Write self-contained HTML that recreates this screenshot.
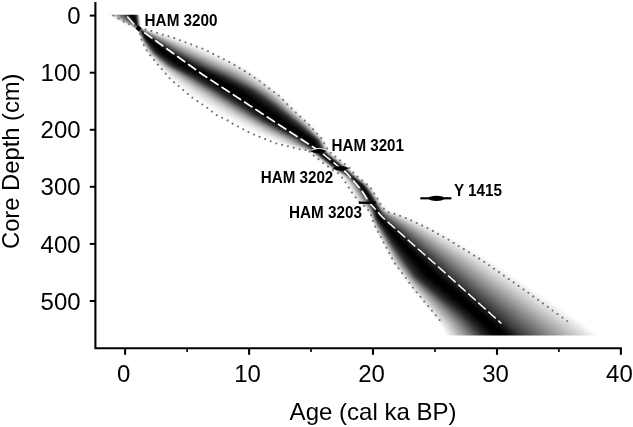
<!DOCTYPE html>
<html lang="en"><head><meta charset="utf-8"><title>Age-depth model</title>
<style>html,body{margin:0;padding:0;background:#fff}svg{display:block}</style></head>
<body>
<svg width="633" height="427" viewBox="0 0 633 427">
<defs><filter id="b" x="-5%" y="-5%" width="110%" height="110%"><feGaussianBlur stdDeviation="0.8"/></filter><clipPath id="cp"><rect x="97" y="14.8" width="530" height="320.7"/></clipPath></defs>
<rect width="633" height="427" fill="#fff"/>
<g clip-path="url(#cp)"><g filter="url(#b)">
<path d="M106.9 12.0L108.5 13.0L110.1 14.0L111.7 15.0L113.3 16.0L114.9 17.0L116.5 18.0L118.1 19.0L119.6 20.0L121.2 21.0L123.3 22.0L125.6 23.0L127.8 24.0L130.1 25.0L132.3 26.0L134.6 27.0L136.9 28.0L138.2 29.0L139.0 30.0L139.2 31.0L139.5 32.0L139.7 33.0L140.0 34.0L140.2 35.0L140.4 36.0L140.7 37.0L140.9 38.0L141.2 39.0L141.4 40.0L141.7 41.0L142.0 42.0L142.5 43.0L143.1 44.0L143.6 45.0L144.1 46.0L144.7 47.0L145.2 48.0L145.8 49.0L146.3 50.0L146.8 51.0L147.4 52.0L148.2 53.0L149.0 54.0L149.8 55.0L150.6 56.0L151.4 57.0L152.2 58.0L153.0 59.0L153.8 60.0L154.6 61.0L155.5 62.0L156.3 63.0L157.2 64.0L158.1 65.0L159.0 66.0L159.9 67.0L160.8 68.0L161.7 69.0L162.7 70.0L163.6 71.0L164.5 72.0L165.5 73.0L166.4 74.0L167.4 75.0L168.4 76.0L169.3 77.0L170.3 78.0L171.3 79.0L172.5 80.0L173.8 81.0L175.1 82.0L176.4 83.0L177.7 84.0L179.0 85.0L180.4 86.0L181.7 87.0L183.0 88.0L184.4 89.0L185.7 90.0L187.0 91.0L188.4 92.0L189.7 93.0L191.1 94.0L192.4 95.0L193.8 96.0L195.1 97.0L196.4 98.0L198.0 99.0L199.6 100.0L201.2 101.0L202.8 102.0L204.4 103.0L206.0 104.0L207.7 105.0L209.3 106.0L210.9 107.0L212.5 108.0L213.9 109.0L215.3 110.0L216.7 111.0L218.1 112.0L219.5 113.0L220.9 114.0L222.5 115.0L224.6 116.0L226.7 117.0L228.8 118.0L230.9 119.0L233.0 120.0L234.8 121.0L236.3 122.0L237.9 123.0L239.6 124.0L241.5 125.0L243.4 126.0L245.3 127.0L247.2 128.0L249.0 129.0L250.9 130.0L252.8 131.0L254.7 132.0L256.6 133.0L258.9 134.0L261.3 135.0L263.7 136.0L266.1 137.0L268.4 138.0L270.8 139.0L273.2 140.0L275.2 141.0L277.1 142.0L279.1 143.0L282.0 144.0L285.4 145.0L288.8 146.0L292.3 147.0L295.8 148.0L299.4 149.0L305.9 150.0L310.0 151.0L309.9 152.0L311.2 153.0L312.5 154.0L313.8 155.0L315.1 156.0L316.4 157.0L317.7 158.0L319.0 159.0L320.3 160.0L321.6 161.0L322.9 162.0L324.2 163.0L325.5 164.0L326.8 165.0L328.1 166.0L329.4 167.0L330.7 168.0L332.0 169.0L333.4 170.0L335.2 171.0L337.1 172.0L338.7 173.0L339.7 174.0L340.7 175.0L341.6 176.0L342.4 177.0L343.2 178.0L343.9 179.0L344.7 180.0L345.4 181.0L346.0 182.0L346.6 183.0L347.2 184.0L347.7 185.0L348.3 186.0L348.8 187.0L349.3 188.0L349.8 189.0L350.3 190.0L351.0 191.0L351.7 192.0L352.5 193.0L353.2 194.0L354.0 195.0L354.6 196.0L355.2 197.0L355.8 198.0L356.5 199.0L357.3 200.0L358.3 201.0L359.4 202.0L360.5 203.0L361.5 204.0L362.6 205.0L363.7 206.0L364.8 207.0L365.8 208.0L366.8 209.0L367.7 210.0L368.7 211.0L369.2 212.0L369.7 213.0L370.2 214.0L370.7 215.0L371.1 216.0L371.4 217.0L371.7 218.0L372.0 219.0L372.3 220.0L372.6 221.0L373.0 222.0L373.3 223.0L373.7 224.0L374.1 225.0L374.4 226.0L374.9 227.0L375.4 228.0L375.9 229.0L376.5 230.0L377.0 231.0L377.5 232.0L378.1 233.0L378.6 234.0L379.1 235.0L379.7 236.0L380.2 237.0L380.7 238.0L381.3 239.0L381.8 240.0L382.3 241.0L382.8 242.0L383.3 243.0L383.8 244.0L384.4 245.0L384.9 246.0L385.4 247.0L385.9 248.0L386.4 249.0L386.9 250.0L387.4 251.0L387.9 252.0L388.4 253.0L388.9 254.0L389.5 255.0L390.0 256.0L390.5 257.0L391.0 258.0L391.5 259.0L392.0 260.0L392.5 261.0L393.0 262.0L393.6 263.0L394.3 264.0L395.1 265.0L395.8 266.0L396.6 267.0L397.3 268.0L398.1 269.0L398.8 270.0L399.6 271.0L400.3 272.0L401.1 273.0L401.8 274.0L402.6 275.0L403.3 276.0L404.1 277.0L404.8 278.0L405.5 279.0L406.2 280.0L406.9 281.0L407.6 282.0L408.3 283.0L409.0 284.0L409.7 285.0L410.5 286.0L411.2 287.0L411.9 288.0L412.6 289.0L413.3 290.0L414.1 291.0L414.9 292.0L415.7 293.0L416.5 294.0L417.3 295.0L418.1 296.0L418.9 297.0L419.7 298.0L420.5 299.0L421.3 300.0L422.1 301.0L422.9 302.0L423.7 303.0L424.5 304.0L425.3 305.0L426.1 306.0L426.9 307.0L427.7 308.0L428.5 309.0L429.3 310.0L430.1 311.0L430.9 312.0L431.7 313.0L432.5 314.0L433.3 315.0L434.1 316.0L434.9 317.0L435.8 318.0L436.6 319.0L437.4 320.0L438.2 321.0L439.0 322.0L439.8 323.0L440.6 324.0L441.2 325.0L441.8 326.0L442.4 327.0L443.0 328.0L443.6 329.0L444.1 330.0L444.7 331.0L445.3 332.0L445.9 333.0L446.5 334.0L447.1 335.0L447.7 336.0L448.2 337.0L448.8 338.0L449.4 339.0L450.0 340.0L602.0 340.0L600.8 339.0L599.5 338.0L598.2 337.0L596.9 336.0L595.6 335.0L594.3 334.0L593.0 333.0L591.7 332.0L590.4 331.0L589.1 330.0L587.7 329.0L586.4 328.0L585.1 327.0L583.8 326.0L582.5 325.0L581.2 324.0L579.7 323.0L578.2 322.0L576.7 321.0L575.2 320.0L573.7 319.0L572.2 318.0L570.8 317.0L569.3 316.0L567.9 315.0L566.5 314.0L565.0 313.0L563.6 312.0L562.2 311.0L560.7 310.0L559.3 309.0L557.9 308.0L556.4 307.0L555.0 306.0L553.6 305.0L552.1 304.0L550.7 303.0L549.3 302.0L547.8 301.0L546.4 300.0L545.0 299.0L543.5 298.0L542.1 297.0L540.7 296.0L539.2 295.0L537.8 294.0L536.4 293.0L534.9 292.0L533.5 291.0L532.0 290.0L530.5 289.0L529.0 288.0L527.5 287.0L526.0 286.0L524.5 285.0L523.0 284.0L521.5 283.0L520.0 282.0L518.5 281.0L517.0 280.0L515.5 279.0L514.0 278.0L512.6 277.0L511.1 276.0L509.6 275.0L508.1 274.0L506.6 273.0L505.1 272.0L503.6 271.0L502.1 270.0L500.6 269.0L499.1 268.0L497.6 267.0L496.2 266.0L494.7 265.0L493.2 264.0L491.7 263.0L490.2 262.0L488.7 261.0L487.1 260.0L485.3 259.0L483.6 258.0L481.9 257.0L480.2 256.0L478.5 255.0L476.8 254.0L475.1 253.0L473.4 252.0L471.7 251.0L470.0 250.0L468.3 249.0L466.6 248.0L464.9 247.0L463.2 246.0L461.5 245.0L459.8 244.0L458.1 243.0L456.5 242.0L454.8 241.0L453.1 240.0L451.4 239.0L449.6 238.0L447.7 237.0L445.8 236.0L443.9 235.0L442.0 234.0L440.1 233.0L438.2 232.0L436.2 231.0L434.3 230.0L432.4 229.0L430.3 228.0L428.1 227.0L425.9 226.0L423.7 225.0L421.5 224.0L419.3 223.0L417.1 222.0L414.9 221.0L412.7 220.0L410.3 219.0L407.7 218.0L404.9 217.0L402.0 216.0L399.0 215.0L396.0 214.0L392.1 213.0L388.7 212.0L387.4 211.0L386.1 210.0L384.8 209.0L383.9 208.0L383.2 207.0L382.4 206.0L381.7 205.0L381.0 204.0L380.5 203.0L379.9 202.0L379.4 201.0L378.8 200.0L378.2 199.0L377.5 198.0L376.8 197.0L376.1 196.0L375.4 195.0L374.9 194.0L374.4 193.0L373.9 192.0L373.3 191.0L372.7 190.0L371.7 189.0L370.7 188.0L369.8 187.0L368.8 186.0L367.8 185.0L366.7 184.0L365.7 183.0L364.4 182.0L363.0 181.0L361.6 180.0L360.3 179.0L359.1 178.0L357.9 177.0L356.7 176.0L355.6 175.0L354.6 174.0L353.6 173.0L352.5 172.0L351.6 171.0L350.8 170.0L350.0 169.0L349.3 168.0L348.0 167.0L346.7 166.0L345.5 165.0L344.2 164.0L343.0 163.0L341.7 162.0L340.5 161.0L339.2 160.0L338.0 159.0L336.7 158.0L335.5 157.0L334.2 156.0L333.0 155.0L331.7 154.0L330.4 153.0L329.2 152.0L328.4 151.0L327.8 150.0L327.7 149.0L327.3 148.0L326.8 147.0L326.2 146.0L325.6 145.0L325.1 144.0L324.5 143.0L323.9 142.0L323.3 141.0L322.8 140.0L322.3 139.0L321.7 138.0L320.9 137.0L320.0 136.0L319.2 135.0L318.3 134.0L317.5 133.0L316.7 132.0L315.8 131.0L315.0 130.0L314.1 129.0L313.3 128.0L312.4 127.0L311.6 126.0L310.7 125.0L309.8 124.0L308.7 123.0L307.6 122.0L306.6 121.0L305.5 120.0L304.4 119.0L303.4 118.0L302.3 117.0L301.2 116.0L300.2 115.0L299.1 114.0L298.0 113.0L297.0 112.0L295.9 111.0L294.9 110.0L293.9 109.0L293.0 108.0L292.0 107.0L291.0 106.0L290.1 105.0L289.2 104.0L288.2 103.0L287.3 102.0L286.4 101.0L285.4 100.0L284.5 99.0L283.6 98.0L282.6 97.0L281.7 96.0L280.5 95.0L279.2 94.0L277.8 93.0L276.5 92.0L275.2 91.0L273.9 90.0L272.7 89.0L271.5 88.0L270.2 87.0L269.0 86.0L267.8 85.0L266.5 84.0L265.3 83.0L264.0 82.0L262.8 81.0L261.5 80.0L260.1 79.0L258.7 78.0L257.3 77.0L255.9 76.0L254.6 75.0L253.2 74.0L251.9 73.0L250.4 72.0L248.6 71.0L246.9 70.0L245.1 69.0L243.3 68.0L241.5 67.0L239.7 66.0L237.8 65.0L236.0 64.0L234.1 63.0L231.9 62.0L229.7 61.0L227.5 60.0L225.3 59.0L223.1 58.0L220.9 57.0L218.6 56.0L216.4 55.0L214.2 54.0L212.0 53.0L209.8 52.0L207.6 51.0L205.4 50.0L203.2 49.0L200.3 48.0L197.6 47.0L194.9 46.0L192.2 45.0L189.4 44.0L186.7 43.0L184.0 42.0L181.3 41.0L178.6 40.0L176.0 39.0L173.3 38.0L170.2 37.0L166.8 36.0L163.4 35.0L160.0 34.0L157.0 33.0L154.1 32.0L151.1 31.0L147.6 30.0L142.6 29.0L139.5 28.0L139.4 27.0L139.4 26.0L139.3 25.0L139.2 24.0L139.1 23.0L139.0 22.0L138.9 21.0L138.9 20.0L138.8 19.0L138.7 18.0L138.6 17.0L138.6 16.0L138.5 15.0L138.4 14.0L138.3 13.0L138.2 12.0Z" fill="#000" fill-opacity="0.0500"/>
<path d="M107.1 12.0L108.7 13.0L110.3 14.0L111.9 15.0L113.5 16.0L115.1 17.0L116.7 18.0L118.3 19.0L119.9 20.0L121.4 21.0L123.5 22.0L125.7 23.0L128.0 24.0L130.2 25.0L132.4 26.0L134.8 27.0L137.0 28.0L138.3 29.0L139.0 30.0L139.3 31.0L139.5 32.0L139.8 33.0L140.1 34.0L140.4 35.0L140.6 36.0L140.9 37.0L141.2 38.0L141.5 39.0L141.7 40.0L142.0 41.0L142.4 42.0L143.0 43.0L143.5 44.0L144.1 45.0L144.7 46.0L145.2 47.0L145.8 48.0L146.4 49.0L146.9 50.0L147.5 51.0L148.1 52.0L148.9 53.0L149.8 54.0L150.6 55.0L151.5 56.0L152.3 57.0L153.2 58.0L154.0 59.0L154.9 60.0L155.8 61.0L156.7 62.0L157.7 63.0L158.6 64.0L159.6 65.0L160.6 66.0L161.6 67.0L162.7 68.0L163.7 69.0L164.8 70.0L165.9 71.0L167.0 72.0L168.1 73.0L169.2 74.0L170.3 75.0L171.4 76.0L172.6 77.0L173.7 78.0L174.8 79.0L176.1 80.0L177.5 81.0L178.9 82.0L180.3 83.0L181.7 84.0L183.1 85.0L184.5 86.0L186.0 87.0L187.4 88.0L188.8 89.0L190.2 90.0L191.7 91.0L193.1 92.0L194.5 93.0L195.9 94.0L197.3 95.0L198.8 96.0L200.2 97.0L201.6 98.0L203.2 99.0L204.8 100.0L206.5 101.0L208.1 102.0L209.7 103.0L211.4 104.0L213.0 105.0L214.7 106.0L216.3 107.0L218.0 108.0L219.4 109.0L220.9 110.0L222.4 111.0L223.8 112.0L225.3 113.0L226.8 114.0L228.4 115.0L230.4 116.0L232.4 117.0L234.5 118.0L236.5 119.0L238.5 120.0L240.2 121.0L241.8 122.0L243.5 123.0L245.2 124.0L247.1 125.0L249.0 126.0L250.9 127.0L252.8 128.0L254.7 129.0L256.6 130.0L258.4 131.0L260.3 132.0L262.2 133.0L264.4 134.0L266.7 135.0L269.0 136.0L271.3 137.0L273.6 138.0L275.9 139.0L278.2 140.0L280.0 141.0L281.7 142.0L283.5 143.0L286.1 144.0L289.0 145.0L292.0 146.0L295.0 147.0L298.2 148.0L301.4 149.0L307.0 150.0L310.7 151.0L310.8 152.0L312.1 153.0L313.4 154.0L314.7 155.0L316.0 156.0L317.3 157.0L318.5 158.0L319.8 159.0L321.1 160.0L322.4 161.0L323.7 162.0L325.0 163.0L326.3 164.0L327.6 165.0L328.8 166.0L330.1 167.0L331.4 168.0L332.9 169.0L334.3 170.0L336.1 171.0L338.0 172.0L339.6 173.0L340.7 174.0L341.8 175.0L342.9 176.0L343.8 177.0L344.5 178.0L345.3 179.0L346.0 180.0L346.8 181.0L347.4 182.0L348.0 183.0L348.7 184.0L349.2 185.0L349.8 186.0L350.3 187.0L350.8 188.0L351.3 189.0L351.9 190.0L352.5 191.0L353.2 192.0L353.9 193.0L354.6 194.0L355.3 195.0L355.9 196.0L356.5 197.0L357.1 198.0L357.7 199.0L358.5 200.0L359.4 201.0L360.4 202.0L361.4 203.0L362.4 204.0L363.4 205.0L364.4 206.0L365.4 207.0L366.3 208.0L367.3 209.0L368.2 210.0L369.1 211.0L369.5 212.0L370.0 213.0L370.5 214.0L371.0 215.0L371.4 216.0L371.7 217.0L372.0 218.0L372.3 219.0L372.6 220.0L372.9 221.0L373.3 222.0L373.7 223.0L374.1 224.0L374.4 225.0L374.8 226.0L375.3 227.0L375.8 228.0L376.4 229.0L376.9 230.0L377.4 231.0L378.0 232.0L378.5 233.0L379.1 234.0L379.6 235.0L380.1 236.0L380.7 237.0L381.2 238.0L381.7 239.0L382.3 240.0L382.8 241.0L383.3 242.0L383.8 243.0L384.4 244.0L384.9 245.0L385.4 246.0L385.9 247.0L386.5 248.0L387.0 249.0L387.5 250.0L388.0 251.0L388.6 252.0L389.1 253.0L389.6 254.0L390.1 255.0L390.7 256.0L391.2 257.0L391.7 258.0L392.2 259.0L392.8 260.0L393.3 261.0L393.8 262.0L394.3 263.0L395.1 264.0L395.8 265.0L396.6 266.0L397.3 267.0L398.1 268.0L398.8 269.0L399.6 270.0L400.3 271.0L401.1 272.0L401.8 273.0L402.6 274.0L403.3 275.0L404.1 276.0L404.8 277.0L405.6 278.0L406.3 279.0L407.0 280.0L407.8 281.0L408.5 282.0L409.3 283.0L410.0 284.0L410.7 285.0L411.5 286.0L412.2 287.0L413.0 288.0L413.7 289.0L414.5 290.0L415.3 291.0L416.1 292.0L417.0 293.0L417.8 294.0L418.6 295.0L419.4 296.0L420.3 297.0L421.1 298.0L421.9 299.0L422.7 300.0L423.6 301.0L424.4 302.0L425.2 303.0L426.0 304.0L426.9 305.0L427.7 306.0L428.5 307.0L429.3 308.0L430.2 309.0L431.0 310.0L431.8 311.0L432.6 312.0L433.5 313.0L434.3 314.0L435.1 315.0L436.0 316.0L436.8 317.0L437.6 318.0L438.4 319.0L439.3 320.0L440.1 321.0L440.9 322.0L441.8 323.0L442.6 324.0L443.2 325.0L443.8 326.0L444.4 327.0L445.0 328.0L445.6 329.0L446.2 330.0L446.8 331.0L447.4 332.0L448.0 333.0L448.6 334.0L449.2 335.0L449.8 336.0L450.4 337.0L451.0 338.0L451.7 339.0L452.3 340.0L596.6 340.0L595.3 339.0L594.1 338.0L592.8 337.0L591.5 336.0L590.2 335.0L588.9 334.0L587.6 333.0L586.2 332.0L584.9 331.0L583.6 330.0L582.2 329.0L580.9 328.0L579.6 327.0L578.2 326.0L576.9 325.0L575.6 324.0L574.1 323.0L572.6 322.0L571.1 321.0L569.6 320.0L568.1 319.0L566.6 318.0L565.1 317.0L563.7 316.0L562.2 315.0L560.8 314.0L559.3 313.0L557.9 312.0L556.5 311.0L555.0 310.0L553.6 309.0L552.1 308.0L550.7 307.0L549.2 306.0L547.8 305.0L546.4 304.0L544.9 303.0L543.5 302.0L542.0 301.0L540.6 300.0L539.2 299.0L537.7 298.0L536.3 297.0L534.8 296.0L533.4 295.0L532.0 294.0L530.5 293.0L529.1 292.0L527.6 291.0L526.1 290.0L524.6 289.0L523.1 288.0L521.6 287.0L520.1 286.0L518.7 285.0L517.2 284.0L515.7 283.0L514.2 282.0L512.7 281.0L511.2 280.0L509.7 279.0L508.2 278.0L506.8 277.0L505.3 276.0L503.8 275.0L502.3 274.0L500.9 273.0L499.4 272.0L497.9 271.0L496.4 270.0L494.9 269.0L493.5 268.0L492.0 267.0L490.5 266.0L489.0 265.0L487.6 264.0L486.1 263.0L484.6 262.0L483.2 261.0L481.5 260.0L479.9 259.0L478.2 258.0L476.5 257.0L474.9 256.0L473.2 255.0L471.5 254.0L469.9 253.0L468.2 252.0L466.6 251.0L464.9 250.0L463.2 249.0L461.6 248.0L459.9 247.0L458.3 246.0L456.6 245.0L455.0 244.0L453.3 243.0L451.7 242.0L450.0 241.0L448.4 240.0L446.8 239.0L445.0 238.0L443.2 237.0L441.4 236.0L439.5 235.0L437.7 234.0L435.9 233.0L434.0 232.0L432.2 231.0L430.4 230.0L428.5 229.0L426.5 228.0L424.4 227.0L422.3 226.0L420.2 225.0L418.1 224.0L416.0 223.0L413.9 222.0L411.8 221.0L409.7 220.0L407.5 219.0L405.0 218.0L402.5 217.0L399.8 216.0L397.1 215.0L394.4 214.0L390.9 213.0L387.8 212.0L386.6 211.0L385.4 210.0L384.2 209.0L383.3 208.0L382.6 207.0L381.9 206.0L381.2 205.0L380.5 204.0L380.0 203.0L379.5 202.0L378.9 201.0L378.3 200.0L377.7 199.0L377.0 198.0L376.3 197.0L375.6 196.0L374.9 195.0L374.3 194.0L373.8 193.0L373.2 192.0L372.7 191.0L372.0 190.0L371.0 189.0L370.1 188.0L369.2 187.0L368.2 186.0L367.2 185.0L366.2 184.0L365.1 183.0L363.8 182.0L362.4 181.0L361.0 180.0L359.7 179.0L358.5 178.0L357.3 177.0L356.1 176.0L355.0 175.0L354.0 174.0L352.9 173.0L351.9 172.0L350.9 171.0L350.1 170.0L349.2 169.0L348.4 168.0L347.1 167.0L345.9 166.0L344.6 165.0L343.4 164.0L342.1 163.0L340.9 162.0L339.6 161.0L338.4 160.0L337.1 159.0L335.9 158.0L334.6 157.0L333.4 156.0L332.1 155.0L330.9 154.0L329.6 153.0L328.4 152.0L327.7 151.0L327.2 150.0L327.0 149.0L326.7 148.0L326.1 147.0L325.6 146.0L325.0 145.0L324.5 144.0L323.9 143.0L323.4 142.0L322.8 141.0L322.3 140.0L321.7 139.0L321.1 138.0L320.2 137.0L319.4 136.0L318.5 135.0L317.6 134.0L316.8 133.0L315.9 132.0L315.1 131.0L314.2 130.0L313.4 129.0L312.5 128.0L311.6 127.0L310.7 126.0L309.8 125.0L308.8 124.0L307.7 123.0L306.7 122.0L305.6 121.0L304.5 120.0L303.4 119.0L302.3 118.0L301.2 117.0L300.1 116.0L299.0 115.0L297.9 114.0L296.9 113.0L295.8 112.0L294.7 111.0L293.6 110.0L292.7 109.0L291.7 108.0L290.7 107.0L289.7 106.0L288.7 105.0L287.7 104.0L286.8 103.0L285.8 102.0L284.8 101.0L283.8 100.0L282.8 99.0L281.9 98.0L280.9 97.0L279.9 96.0L278.7 95.0L277.3 94.0L276.0 93.0L274.7 92.0L273.4 91.0L272.0 90.0L270.7 89.0L269.4 88.0L268.1 87.0L266.8 86.0L265.5 85.0L264.2 84.0L262.9 83.0L261.6 82.0L260.3 81.0L258.9 80.0L257.4 79.0L256.0 78.0L254.5 77.0L253.1 76.0L251.7 75.0L250.2 74.0L248.8 73.0L247.2 72.0L245.3 71.0L243.3 70.0L241.4 69.0L239.4 68.0L237.4 67.0L235.4 66.0L233.5 65.0L231.5 64.0L229.5 63.0L227.2 62.0L224.9 61.0L222.6 60.0L220.3 59.0L218.0 58.0L215.8 57.0L213.5 56.0L211.2 55.0L208.9 54.0L206.7 53.0L204.5 52.0L202.3 51.0L200.1 50.0L197.9 49.0L195.2 48.0L192.6 47.0L190.1 46.0L187.5 45.0L185.0 44.0L182.4 43.0L179.9 42.0L177.4 41.0L174.8 40.0L172.3 39.0L169.9 38.0L167.1 37.0L164.0 36.0L160.9 35.0L157.8 34.0L155.1 33.0L152.4 32.0L149.7 31.0L146.5 30.0L142.1 29.0L139.4 28.0L139.3 27.0L139.3 26.0L139.2 25.0L139.1 24.0L139.0 23.0L138.9 22.0L138.8 21.0L138.8 20.0L138.7 19.0L138.6 18.0L138.5 17.0L138.5 16.0L138.4 15.0L138.3 14.0L138.2 13.0L138.1 12.0Z" fill="#000" fill-opacity="0.0526"/>
<path d="M107.5 12.0L109.1 13.0L110.6 14.0L112.2 15.0L113.8 16.0L115.4 17.0L117.0 18.0L118.6 19.0L120.2 20.0L121.8 21.0L123.8 22.0L126.0 23.0L128.2 24.0L130.4 25.0L132.6 26.0L134.9 27.0L137.0 28.0L138.3 29.0L139.0 30.0L139.3 31.0L139.6 32.0L139.9 33.0L140.2 34.0L140.5 35.0L140.8 36.0L141.1 37.0L141.4 38.0L141.7 39.0L142.0 40.0L142.3 41.0L142.8 42.0L143.3 43.0L143.9 44.0L144.5 45.0L145.1 46.0L145.7 47.0L146.3 48.0L146.9 49.0L147.5 50.0L148.1 51.0L148.7 52.0L149.5 53.0L150.4 54.0L151.3 55.0L152.2 56.0L153.1 57.0L154.0 58.0L154.9 59.0L155.8 60.0L156.7 61.0L157.7 62.0L158.7 63.0L159.7 64.0L160.7 65.0L161.8 66.0L162.9 67.0L164.1 68.0L165.2 69.0L166.4 70.0L167.6 71.0L168.8 72.0L170.0 73.0L171.2 74.0L172.4 75.0L173.7 76.0L174.9 77.0L176.1 78.0L177.4 79.0L178.7 80.0L180.2 81.0L181.6 82.0L183.1 83.0L184.5 84.0L186.0 85.0L187.5 86.0L188.9 87.0L190.4 88.0L191.9 89.0L193.4 90.0L194.8 91.0L196.3 92.0L197.7 93.0L199.2 94.0L200.7 95.0L202.1 96.0L203.6 97.0L205.0 98.0L206.6 99.0L208.3 100.0L209.9 101.0L211.6 102.0L213.2 103.0L214.9 104.0L216.6 105.0L218.2 106.0L219.9 107.0L221.5 108.0L223.0 109.0L224.5 110.0L226.0 111.0L227.5 112.0L229.0 113.0L230.5 114.0L232.1 115.0L234.1 116.0L236.1 117.0L238.1 118.0L240.0 119.0L242.0 120.0L243.7 121.0L245.3 122.0L247.0 123.0L248.8 124.0L250.6 125.0L252.5 126.0L254.4 127.0L256.3 128.0L258.2 129.0L260.1 130.0L262.0 131.0L263.9 132.0L265.8 133.0L268.0 134.0L270.2 135.0L272.4 136.0L274.7 137.0L276.9 138.0L279.2 139.0L281.4 140.0L283.0 141.0L284.7 142.0L286.4 143.0L288.7 144.0L291.4 145.0L294.1 146.0L296.9 147.0L299.8 148.0L302.7 149.0L307.8 150.0L311.2 151.0L311.4 152.0L312.7 153.0L314.0 154.0L315.3 155.0L316.5 156.0L317.8 157.0L319.1 158.0L320.4 159.0L321.7 160.0L322.9 161.0L324.2 162.0L325.5 163.0L326.8 164.0L328.1 165.0L329.3 166.0L330.6 167.0L331.9 168.0L333.4 169.0L334.9 170.0L336.7 171.0L338.5 172.0L340.2 173.0L341.4 174.0L342.6 175.0L343.8 176.0L344.6 177.0L345.4 178.0L346.2 179.0L347.0 180.0L347.7 181.0L348.4 182.0L349.1 183.0L349.7 184.0L350.3 185.0L350.9 186.0L351.4 187.0L351.9 188.0L352.4 189.0L353.0 190.0L353.6 191.0L354.3 192.0L355.0 193.0L355.7 194.0L356.3 195.0L356.9 196.0L357.5 197.0L358.1 198.0L358.7 199.0L359.4 200.0L360.3 201.0L361.2 202.0L362.2 203.0L363.1 204.0L364.1 205.0L365.0 206.0L366.0 207.0L366.9 208.0L367.7 209.0L368.6 210.0L369.4 211.0L369.9 212.0L370.3 213.0L370.8 214.0L371.2 215.0L371.6 216.0L371.9 217.0L372.2 218.0L372.5 219.0L372.8 220.0L373.2 221.0L373.6 222.0L374.0 223.0L374.4 224.0L374.8 225.0L375.2 226.0L375.7 227.0L376.2 228.0L376.8 229.0L377.3 230.0L377.9 231.0L378.4 232.0L379.0 233.0L379.5 234.0L380.1 235.0L380.6 236.0L381.2 237.0L381.7 238.0L382.2 239.0L382.8 240.0L383.3 241.0L383.8 242.0L384.3 243.0L384.9 244.0L385.4 245.0L386.0 246.0L386.5 247.0L387.0 248.0L387.6 249.0L388.1 250.0L388.6 251.0L389.2 252.0L389.7 253.0L390.3 254.0L390.8 255.0L391.3 256.0L391.9 257.0L392.4 258.0L393.0 259.0L393.5 260.0L394.0 261.0L394.6 262.0L395.1 263.0L395.9 264.0L396.6 265.0L397.4 266.0L398.1 267.0L398.8 268.0L399.6 269.0L400.3 270.0L401.1 271.0L401.8 272.0L402.6 273.0L403.3 274.0L404.1 275.0L404.8 276.0L405.6 277.0L406.3 278.0L407.1 279.0L407.9 280.0L408.6 281.0L409.4 282.0L410.2 283.0L411.0 284.0L411.7 285.0L412.5 286.0L413.3 287.0L414.1 288.0L414.8 289.0L415.6 290.0L416.5 291.0L417.3 292.0L418.2 293.0L419.1 294.0L419.9 295.0L420.8 296.0L421.6 297.0L422.5 298.0L423.3 299.0L424.2 300.0L425.0 301.0L425.9 302.0L426.7 303.0L427.6 304.0L428.4 305.0L429.3 306.0L430.1 307.0L431.0 308.0L431.8 309.0L432.7 310.0L433.5 311.0L434.4 312.0L435.2 313.0L436.1 314.0L436.9 315.0L437.8 316.0L438.6 317.0L439.5 318.0L440.3 319.0L441.2 320.0L442.0 321.0L442.9 322.0L443.7 323.0L444.5 324.0L445.2 325.0L445.8 326.0L446.4 327.0L447.0 328.0L447.7 329.0L448.3 330.0L448.9 331.0L449.5 332.0L450.1 333.0L450.8 334.0L451.4 335.0L452.0 336.0L452.6 337.0L453.3 338.0L453.9 339.0L454.5 340.0L591.4 340.0L590.1 339.0L588.8 338.0L587.6 337.0L586.3 336.0L585.0 335.0L583.7 334.0L582.3 333.0L581.0 332.0L579.6 331.0L578.3 330.0L577.0 329.0L575.6 328.0L574.3 327.0L572.9 326.0L571.6 325.0L570.3 324.0L568.8 323.0L567.3 322.0L565.8 321.0L564.3 320.0L562.8 319.0L561.3 318.0L559.9 317.0L558.4 316.0L557.0 315.0L555.5 314.0L554.1 313.0L552.7 312.0L551.2 311.0L549.8 310.0L548.3 309.0L546.9 308.0L545.5 307.0L544.0 306.0L542.6 305.0L541.1 304.0L539.7 303.0L538.3 302.0L536.8 301.0L535.4 300.0L534.0 299.0L532.5 298.0L531.1 297.0L529.7 296.0L528.2 295.0L526.8 294.0L525.4 293.0L523.9 292.0L522.5 291.0L521.0 290.0L519.5 289.0L518.0 288.0L516.5 287.0L515.0 286.0L513.6 285.0L512.1 284.0L510.6 283.0L509.1 282.0L507.7 281.0L506.2 280.0L504.7 279.0L503.3 278.0L501.8 277.0L500.3 276.0L498.9 275.0L497.4 274.0L495.9 273.0L494.5 272.0L493.0 271.0L491.6 270.0L490.1 269.0L488.7 268.0L487.2 267.0L485.8 266.0L484.3 265.0L482.8 264.0L481.4 263.0L479.9 262.0L478.5 261.0L476.9 260.0L475.3 259.0L473.6 258.0L472.0 257.0L470.4 256.0L468.8 255.0L467.1 254.0L465.5 253.0L463.9 252.0L462.3 251.0L460.7 250.0L459.0 249.0L457.4 248.0L455.8 247.0L454.2 246.0L452.6 245.0L451.0 244.0L449.4 243.0L447.8 242.0L446.2 241.0L444.6 240.0L443.0 239.0L441.3 238.0L439.5 237.0L437.8 236.0L436.0 235.0L434.2 234.0L432.5 233.0L430.7 232.0L428.9 231.0L427.2 230.0L425.4 229.0L423.4 228.0L421.4 227.0L419.4 226.0L417.4 225.0L415.4 224.0L413.4 223.0L411.4 222.0L409.4 221.0L407.4 220.0L405.2 219.0L402.9 218.0L400.6 217.0L398.1 216.0L395.6 215.0L393.2 214.0L389.9 213.0L387.1 212.0L386.0 211.0L384.8 210.0L383.7 209.0L382.8 208.0L382.2 207.0L381.5 206.0L380.8 205.0L380.1 204.0L379.6 203.0L379.1 202.0L378.5 201.0L377.9 200.0L377.2 199.0L376.6 198.0L375.9 197.0L375.2 196.0L374.5 195.0L373.9 194.0L373.3 193.0L372.8 192.0L372.2 191.0L371.5 190.0L370.6 189.0L369.7 188.0L368.8 187.0L367.8 186.0L366.8 185.0L365.8 184.0L364.7 183.0L363.4 182.0L362.0 181.0L360.6 180.0L359.3 179.0L358.1 178.0L356.9 177.0L355.7 176.0L354.6 175.0L353.5 174.0L352.5 173.0L351.4 172.0L350.4 171.0L349.6 170.0L348.7 169.0L347.8 168.0L346.5 167.0L345.3 166.0L344.0 165.0L342.8 164.0L341.6 163.0L340.3 162.0L339.1 161.0L337.8 160.0L336.6 159.0L335.3 158.0L334.1 157.0L332.8 156.0L331.6 155.0L330.3 154.0L329.1 153.0L327.8 152.0L327.2 151.0L326.7 150.0L326.5 149.0L326.2 148.0L325.6 147.0L325.1 146.0L324.6 145.0L324.0 144.0L323.5 143.0L323.0 142.0L322.4 141.0L321.9 140.0L321.3 139.0L320.6 138.0L319.7 137.0L318.8 136.0L317.9 135.0L317.0 134.0L316.2 133.0L315.3 132.0L314.4 131.0L313.6 130.0L312.6 129.0L311.7 128.0L310.8 127.0L309.9 126.0L308.9 125.0L308.0 124.0L306.9 123.0L305.8 122.0L304.7 121.0L303.5 120.0L302.4 119.0L301.3 118.0L300.2 117.0L299.1 116.0L298.0 115.0L296.9 114.0L295.8 113.0L294.7 112.0L293.6 111.0L292.5 110.0L291.5 109.0L290.5 108.0L289.5 107.0L288.5 106.0L287.5 105.0L286.5 104.0L285.4 103.0L284.4 102.0L283.4 101.0L282.4 100.0L281.4 99.0L280.3 98.0L279.3 97.0L278.3 96.0L277.0 95.0L275.7 94.0L274.4 93.0L273.0 92.0L271.7 91.0L270.3 90.0L269.0 89.0L267.6 88.0L266.2 87.0L264.9 86.0L263.5 85.0L262.2 84.0L260.8 83.0L259.4 82.0L258.1 81.0L256.6 80.0L255.1 79.0L253.6 78.0L252.1 77.0L250.6 76.0L249.1 75.0L247.5 74.0L246.0 73.0L244.4 72.0L242.4 71.0L240.3 70.0L238.2 69.0L236.2 68.0L234.1 67.0L232.0 66.0L229.9 65.0L227.9 64.0L225.8 63.0L223.5 62.0L221.2 61.0L218.9 60.0L216.6 59.0L214.3 58.0L212.0 57.0L209.7 56.0L207.4 55.0L205.2 54.0L202.9 53.0L200.7 52.0L198.6 51.0L196.4 50.0L194.3 49.0L191.7 48.0L189.2 47.0L186.8 46.0L184.4 45.0L181.9 44.0L179.5 43.0L177.1 42.0L174.7 41.0L172.3 40.0L169.9 39.0L167.6 38.0L164.9 37.0L162.0 36.0L159.2 35.0L156.3 34.0L153.8 33.0L151.3 32.0L148.7 31.0L145.8 30.0L141.8 29.0L139.4 28.0L139.3 27.0L139.2 26.0L139.1 25.0L139.0 24.0L138.9 23.0L138.8 22.0L138.7 21.0L138.7 20.0L138.6 19.0L138.5 18.0L138.4 17.0L138.4 16.0L138.3 15.0L138.2 14.0L138.1 13.0L138.0 12.0Z" fill="#000" fill-opacity="0.0556"/>
<path d="M108.0 12.0L109.5 13.0L111.1 14.0L112.6 15.0L114.2 16.0L115.8 17.0L117.4 18.0L119.0 19.0L120.6 20.0L122.2 21.0L124.2 22.0L126.3 23.0L128.5 24.0L130.6 25.0L132.8 26.0L135.0 27.0L137.1 28.0L138.3 29.0L139.1 30.0L139.3 31.0L139.7 32.0L140.0 33.0L140.3 34.0L140.6 35.0L140.9 36.0L141.3 37.0L141.6 38.0L141.9 39.0L142.2 40.0L142.6 41.0L143.1 42.0L143.7 43.0L144.3 44.0L144.9 45.0L145.5 46.0L146.1 47.0L146.7 48.0L147.3 49.0L148.0 50.0L148.6 51.0L149.2 52.0L150.0 53.0L150.9 54.0L151.9 55.0L152.8 56.0L153.7 57.0L154.7 58.0L155.6 59.0L156.6 60.0L157.6 61.0L158.6 62.0L159.6 63.0L160.7 64.0L161.7 65.0L162.8 66.0L164.0 67.0L165.3 68.0L166.5 69.0L167.8 70.0L169.1 71.0L170.3 72.0L171.6 73.0L172.9 74.0L174.3 75.0L175.6 76.0L176.9 77.0L178.2 78.0L179.5 79.0L180.9 80.0L182.4 81.0L183.9 82.0L185.4 83.0L186.9 84.0L188.4 85.0L189.9 86.0L191.4 87.0L192.9 88.0L194.4 89.0L195.9 90.0L197.4 91.0L198.9 92.0L200.4 93.0L201.8 94.0L203.3 95.0L204.8 96.0L206.3 97.0L207.8 98.0L209.4 99.0L211.1 100.0L212.7 101.0L214.4 102.0L216.0 103.0L217.7 104.0L219.3 105.0L221.0 106.0L222.6 107.0L224.3 108.0L225.8 109.0L227.3 110.0L228.8 111.0L230.4 112.0L231.9 113.0L233.4 114.0L235.0 115.0L237.0 116.0L238.9 117.0L240.8 118.0L242.8 119.0L244.7 120.0L246.4 121.0L248.0 122.0L249.7 123.0L251.5 124.0L253.4 125.0L255.3 126.0L257.2 127.0L259.1 128.0L261.0 129.0L262.9 130.0L264.7 131.0L266.6 132.0L268.5 133.0L270.7 134.0L272.9 135.0L275.1 136.0L277.3 137.0L279.5 138.0L281.6 139.0L283.8 140.0L285.4 141.0L287.0 142.0L288.6 143.0L290.8 144.0L293.3 145.0L295.8 146.0L298.4 147.0L301.1 148.0L303.8 149.0L308.5 150.0L311.6 151.0L311.9 152.0L313.2 153.0L314.4 154.0L315.7 155.0L317.0 156.0L318.3 157.0L319.5 158.0L320.8 159.0L322.1 160.0L323.4 161.0L324.6 162.0L325.9 163.0L327.2 164.0L328.4 165.0L329.7 166.0L331.0 167.0L332.3 168.0L333.8 169.0L335.3 170.0L337.2 171.0L339.0 172.0L340.7 173.0L342.0 174.0L343.2 175.0L344.5 176.0L345.4 177.0L346.2 178.0L347.0 179.0L347.7 180.0L348.5 181.0L349.2 182.0L349.9 183.0L350.6 184.0L351.2 185.0L351.8 186.0L352.3 187.0L352.8 188.0L353.4 189.0L353.9 190.0L354.5 191.0L355.2 192.0L355.9 193.0L356.6 194.0L357.2 195.0L357.8 196.0L358.4 197.0L359.0 198.0L359.5 199.0L360.3 200.0L361.1 201.0L362.0 202.0L362.9 203.0L363.8 204.0L364.7 205.0L365.6 206.0L366.5 207.0L367.3 208.0L368.2 209.0L369.0 210.0L369.8 211.0L370.2 212.0L370.6 213.0L371.0 214.0L371.5 215.0L371.9 216.0L372.2 217.0L372.5 218.0L372.8 219.0L373.1 220.0L373.5 221.0L373.9 222.0L374.4 223.0L374.8 224.0L375.2 225.0L375.6 226.0L376.1 227.0L376.7 228.0L377.2 229.0L377.8 230.0L378.3 231.0L378.9 232.0L379.4 233.0L380.0 234.0L380.5 235.0L381.1 236.0L381.6 237.0L382.2 238.0L382.7 239.0L383.2 240.0L383.8 241.0L384.3 242.0L384.9 243.0L385.4 244.0L385.9 245.0L386.5 246.0L387.0 247.0L387.6 248.0L388.2 249.0L388.7 250.0L389.3 251.0L389.8 252.0L390.4 253.0L390.9 254.0L391.5 255.0L392.0 256.0L392.6 257.0L393.1 258.0L393.7 259.0L394.2 260.0L394.8 261.0L395.3 262.0L395.9 263.0L396.6 264.0L397.4 265.0L398.1 266.0L398.9 267.0L399.6 268.0L400.4 269.0L401.1 270.0L401.8 271.0L402.6 272.0L403.3 273.0L404.1 274.0L404.8 275.0L405.6 276.0L406.3 277.0L407.1 278.0L407.9 279.0L408.7 280.0L409.5 281.0L410.3 282.0L411.1 283.0L411.9 284.0L412.7 285.0L413.5 286.0L414.4 287.0L415.2 288.0L416.0 289.0L416.8 290.0L417.7 291.0L418.6 292.0L419.4 293.0L420.3 294.0L421.2 295.0L422.1 296.0L423.0 297.0L423.8 298.0L424.7 299.0L425.6 300.0L426.5 301.0L427.3 302.0L428.2 303.0L429.1 304.0L430.0 305.0L430.9 306.0L431.7 307.0L432.6 308.0L433.5 309.0L434.4 310.0L435.3 311.0L436.1 312.0L437.0 313.0L437.9 314.0L438.8 315.0L439.6 316.0L440.5 317.0L441.3 318.0L442.2 319.0L443.1 320.0L443.9 321.0L444.8 322.0L445.6 323.0L446.5 324.0L447.1 325.0L447.8 326.0L448.4 327.0L449.1 328.0L449.7 329.0L450.3 330.0L451.0 331.0L451.6 332.0L452.3 333.0L452.9 334.0L453.6 335.0L454.2 336.0L454.8 337.0L455.5 338.0L456.1 339.0L456.8 340.0L586.2 340.0L585.0 339.0L583.7 338.0L582.4 337.0L581.2 336.0L579.9 335.0L578.6 334.0L577.2 333.0L575.9 332.0L574.5 331.0L573.2 330.0L571.9 329.0L570.5 328.0L569.2 327.0L567.8 326.0L566.5 325.0L565.2 324.0L563.7 323.0L562.2 322.0L560.7 321.0L559.2 320.0L557.8 319.0L556.3 318.0L554.9 317.0L553.4 316.0L552.0 315.0L550.6 314.0L549.1 313.0L547.7 312.0L546.2 311.0L544.8 310.0L543.4 309.0L541.9 308.0L540.5 307.0L539.1 306.0L537.7 305.0L536.2 304.0L534.8 303.0L533.4 302.0L531.9 301.0L530.5 300.0L529.1 299.0L527.7 298.0L526.2 297.0L524.8 296.0L523.4 295.0L522.0 294.0L520.5 293.0L519.1 292.0L517.7 291.0L516.2 290.0L514.7 289.0L513.3 288.0L511.8 287.0L510.3 286.0L508.9 285.0L507.4 284.0L505.9 283.0L504.5 282.0L503.0 281.0L501.6 280.0L500.1 279.0L498.7 278.0L497.2 277.0L495.8 276.0L494.3 275.0L492.9 274.0L491.5 273.0L490.0 272.0L488.6 271.0L487.1 270.0L485.7 269.0L484.3 268.0L482.8 267.0L481.4 266.0L480.0 265.0L478.5 264.0L477.1 263.0L475.7 262.0L474.2 261.0L472.7 260.0L471.1 259.0L469.5 258.0L467.9 257.0L466.3 256.0L464.8 255.0L463.2 254.0L461.6 253.0L460.0 252.0L458.4 251.0L456.8 250.0L455.3 249.0L453.7 248.0L452.1 247.0L450.5 246.0L449.0 245.0L447.4 244.0L445.8 243.0L444.3 242.0L442.7 241.0L441.2 240.0L439.6 239.0L438.0 238.0L436.3 237.0L434.6 236.0L432.9 235.0L431.1 234.0L429.4 233.0L427.7 232.0L426.0 231.0L424.3 230.0L422.6 229.0L420.7 228.0L418.7 227.0L416.8 226.0L414.9 225.0L413.0 224.0L411.0 223.0L409.1 222.0L407.2 221.0L405.3 220.0L403.2 219.0L401.1 218.0L398.9 217.0L396.6 216.0L394.3 215.0L392.0 214.0L389.1 213.0L386.5 212.0L385.4 211.0L384.3 210.0L383.2 209.0L382.4 208.0L381.7 207.0L381.1 206.0L380.4 205.0L379.7 204.0L379.2 203.0L378.7 202.0L378.1 201.0L377.5 200.0L376.9 199.0L376.2 198.0L375.5 197.0L374.8 196.0L374.1 195.0L373.5 194.0L372.9 193.0L372.4 192.0L371.8 191.0L371.1 190.0L370.2 189.0L369.3 188.0L368.4 187.0L367.5 186.0L366.5 185.0L365.4 184.0L364.3 183.0L363.0 182.0L361.7 181.0L360.3 180.0L359.0 179.0L357.8 178.0L356.6 177.0L355.3 176.0L354.3 175.0L353.2 174.0L352.1 173.0L351.1 172.0L350.1 171.0L349.2 170.0L348.3 169.0L347.3 168.0L346.1 167.0L344.9 166.0L343.6 165.0L342.4 164.0L341.1 163.0L339.9 162.0L338.6 161.0L337.4 160.0L336.1 159.0L334.9 158.0L333.6 157.0L332.4 156.0L331.2 155.0L329.9 154.0L328.7 153.0L327.4 152.0L326.8 151.0L326.3 150.0L326.1 149.0L325.7 148.0L325.2 147.0L324.7 146.0L324.2 145.0L323.7 144.0L323.1 143.0L322.6 142.0L322.1 141.0L321.6 140.0L320.9 139.0L320.2 138.0L319.2 137.0L318.3 136.0L317.4 135.0L316.5 134.0L315.6 133.0L314.7 132.0L313.8 131.0L312.9 130.0L311.9 129.0L311.0 128.0L310.0 127.0L309.1 126.0L308.1 125.0L307.1 124.0L306.0 123.0L304.9 122.0L303.8 121.0L302.7 120.0L301.5 119.0L300.4 118.0L299.3 117.0L298.2 116.0L297.1 115.0L295.9 114.0L294.8 113.0L293.7 112.0L292.6 111.0L291.5 110.0L290.5 109.0L289.4 108.0L288.4 107.0L287.4 106.0L286.3 105.0L285.3 104.0L284.2 103.0L283.2 102.0L282.1 101.0L281.0 100.0L280.0 99.0L278.9 98.0L277.9 97.0L276.8 96.0L275.5 95.0L274.2 94.0L272.8 93.0L271.5 92.0L270.1 91.0L268.7 90.0L267.3 89.0L265.9 88.0L264.5 87.0L263.1 86.0L261.6 85.0L260.2 84.0L258.8 83.0L257.4 82.0L256.0 81.0L254.5 80.0L252.9 79.0L251.4 78.0L249.8 77.0L248.2 76.0L246.6 75.0L245.0 74.0L243.5 73.0L241.8 72.0L239.7 71.0L237.5 70.0L235.4 69.0L233.2 68.0L231.1 67.0L228.9 66.0L226.8 65.0L224.7 64.0L222.7 63.0L220.3 62.0L218.0 61.0L215.7 60.0L213.4 59.0L211.1 58.0L208.8 57.0L206.5 56.0L204.3 55.0L202.0 54.0L199.8 53.0L197.7 52.0L195.5 51.0L193.4 50.0L191.3 49.0L188.8 48.0L186.5 47.0L184.1 46.0L181.8 45.0L179.5 44.0L177.1 43.0L174.8 42.0L172.5 41.0L170.2 40.0L167.9 39.0L165.7 38.0L163.2 37.0L160.5 36.0L157.8 35.0L155.2 34.0L152.8 33.0L150.4 32.0L148.0 31.0L145.2 30.0L141.6 29.0L139.3 28.0L139.2 27.0L139.1 26.0L139.0 25.0L138.9 24.0L138.8 23.0L138.8 22.0L138.7 21.0L138.6 20.0L138.5 19.0L138.4 18.0L138.4 17.0L138.3 16.0L138.2 15.0L138.1 14.0L138.0 13.0L137.9 12.0Z" fill="#000" fill-opacity="0.0588"/>
<path d="M108.6 12.0L110.2 13.0L111.7 14.0L113.2 15.0L114.8 16.0L116.4 17.0L118.0 18.0L119.5 19.0L121.1 20.0L122.6 21.0L124.6 22.0L126.7 23.0L128.8 24.0L130.9 25.0L132.9 26.0L135.2 27.0L137.2 28.0L138.3 29.0L139.1 30.0L139.4 31.0L139.7 32.0L140.0 33.0L140.4 34.0L140.7 35.0L141.1 36.0L141.4 37.0L141.8 38.0L142.1 39.0L142.5 40.0L142.9 41.0L143.4 42.0L144.0 43.0L144.6 44.0L145.3 45.0L145.9 46.0L146.5 47.0L147.1 48.0L147.8 49.0L148.4 50.0L149.0 51.0L149.7 52.0L150.5 53.0L151.4 54.0L152.4 55.0L153.4 56.0L154.4 57.0L155.3 58.0L156.3 59.0L157.3 60.0L158.3 61.0L159.4 62.0L160.5 63.0L161.5 64.0L162.6 65.0L163.7 66.0L165.0 67.0L166.4 68.0L167.7 69.0L169.0 70.0L170.4 71.0L171.7 72.0L173.1 73.0L174.5 74.0L175.9 75.0L177.2 76.0L178.6 77.0L180.0 78.0L181.3 79.0L182.8 80.0L184.3 81.0L185.8 82.0L187.4 83.0L188.9 84.0L190.4 85.0L191.9 86.0L193.5 87.0L195.0 88.0L196.6 89.0L198.1 90.0L199.6 91.0L201.1 92.0L202.6 93.0L204.1 94.0L205.6 95.0L207.1 96.0L208.7 97.0L210.2 98.0L211.8 99.0L213.4 100.0L215.1 101.0L216.7 102.0L218.4 103.0L220.0 104.0L221.7 105.0L223.3 106.0L225.0 107.0L226.6 108.0L228.2 109.0L229.7 110.0L231.2 111.0L232.8 112.0L234.3 113.0L235.8 114.0L237.5 115.0L239.4 116.0L241.3 117.0L243.2 118.0L245.1 119.0L246.9 120.0L248.6 121.0L250.3 122.0L252.0 123.0L253.8 124.0L255.7 125.0L257.6 126.0L259.5 127.0L261.4 128.0L263.3 129.0L265.2 130.0L267.0 131.0L268.9 132.0L270.8 133.0L272.9 134.0L275.1 135.0L277.3 136.0L279.4 137.0L281.6 138.0L283.7 139.0L285.9 140.0L287.4 141.0L289.0 142.0L290.5 143.0L292.6 144.0L294.9 145.0L297.3 146.0L299.7 147.0L302.2 148.0L304.8 149.0L309.0 150.0L311.9 151.0L312.3 152.0L313.6 153.0L314.8 154.0L316.1 155.0L317.4 156.0L318.6 157.0L319.9 158.0L321.2 159.0L322.4 160.0L323.7 161.0L325.0 162.0L326.2 163.0L327.5 164.0L328.8 165.0L330.0 166.0L331.3 167.0L332.6 168.0L334.2 169.0L335.7 170.0L337.6 171.0L339.4 172.0L341.1 173.0L342.4 174.0L343.8 175.0L345.1 176.0L346.0 177.0L346.8 178.0L347.6 179.0L348.4 180.0L349.2 181.0L349.9 182.0L350.6 183.0L351.4 184.0L352.0 185.0L352.6 186.0L353.1 187.0L353.7 188.0L354.2 189.0L354.7 190.0L355.4 191.0L356.0 192.0L356.7 193.0L357.4 194.0L358.1 195.0L358.6 196.0L359.2 197.0L359.8 198.0L360.4 199.0L361.0 200.0L361.9 201.0L362.7 202.0L363.6 203.0L364.4 204.0L365.3 205.0L366.1 206.0L367.0 207.0L367.8 208.0L368.6 209.0L369.4 210.0L370.1 211.0L370.5 212.0L370.9 213.0L371.3 214.0L371.7 215.0L372.1 216.0L372.4 217.0L372.7 218.0L373.0 219.0L373.4 220.0L373.8 221.0L374.3 222.0L374.7 223.0L375.1 224.0L375.6 225.0L376.0 226.0L376.5 227.0L377.1 228.0L377.6 229.0L378.2 230.0L378.7 231.0L379.3 232.0L379.9 233.0L380.4 234.0L381.0 235.0L381.5 236.0L382.1 237.0L382.6 238.0L383.2 239.0L383.7 240.0L384.3 241.0L384.8 242.0L385.4 243.0L385.9 244.0L386.5 245.0L387.0 246.0L387.6 247.0L388.2 248.0L388.7 249.0L389.3 250.0L389.9 251.0L390.4 252.0L391.0 253.0L391.6 254.0L392.1 255.0L392.7 256.0L393.3 257.0L393.8 258.0L394.4 259.0L395.0 260.0L395.5 261.0L396.1 262.0L396.7 263.0L397.4 264.0L398.1 265.0L398.9 266.0L399.6 267.0L400.4 268.0L401.1 269.0L401.9 270.0L402.6 271.0L403.4 272.0L404.1 273.0L404.8 274.0L405.6 275.0L406.3 276.0L407.1 277.0L407.9 278.0L408.7 279.0L409.5 280.0L410.4 281.0L411.2 282.0L412.1 283.0L412.9 284.0L413.7 285.0L414.6 286.0L415.4 287.0L416.3 288.0L417.1 289.0L418.0 290.0L418.9 291.0L419.8 292.0L420.7 293.0L421.6 294.0L422.5 295.0L423.4 296.0L424.3 297.0L425.2 298.0L426.1 299.0L427.0 300.0L427.9 301.0L428.8 302.0L429.7 303.0L430.6 304.0L431.5 305.0L432.4 306.0L433.4 307.0L434.3 308.0L435.2 309.0L436.1 310.0L437.0 311.0L437.9 312.0L438.8 313.0L439.7 314.0L440.6 315.0L441.4 316.0L442.3 317.0L443.2 318.0L444.1 319.0L444.9 320.0L445.8 321.0L446.7 322.0L447.6 323.0L448.5 324.0L449.1 325.0L449.8 326.0L450.4 327.0L451.1 328.0L451.8 329.0L452.4 330.0L453.1 331.0L453.7 332.0L454.4 333.0L455.1 334.0L455.7 335.0L456.4 336.0L457.0 337.0L457.7 338.0L458.4 339.0L459.0 340.0L581.1 340.0L579.9 339.0L578.6 338.0L577.4 337.0L576.2 336.0L574.9 335.0L573.5 334.0L572.2 333.0L570.9 332.0L569.5 331.0L568.2 330.0L566.9 329.0L565.5 328.0L564.2 327.0L562.9 326.0L561.5 325.0L560.2 324.0L558.7 323.0L557.3 322.0L555.8 321.0L554.3 320.0L552.9 319.0L551.4 318.0L550.0 317.0L548.6 316.0L547.1 315.0L545.7 314.0L544.3 313.0L542.9 312.0L541.4 311.0L540.0 310.0L538.6 309.0L537.2 308.0L535.8 307.0L534.3 306.0L532.9 305.0L531.5 304.0L530.1 303.0L528.7 302.0L527.3 301.0L525.8 300.0L524.4 299.0L523.0 298.0L521.6 297.0L520.2 296.0L518.8 295.0L517.4 294.0L516.0 293.0L514.6 292.0L513.1 291.0L511.7 290.0L510.2 289.0L508.8 288.0L507.3 287.0L505.9 286.0L504.4 285.0L503.0 284.0L501.5 283.0L500.1 282.0L498.6 281.0L497.2 280.0L495.8 279.0L494.3 278.0L492.9 277.0L491.5 276.0L490.1 275.0L488.7 274.0L487.2 273.0L485.8 272.0L484.4 271.0L483.0 270.0L481.6 269.0L480.2 268.0L478.8 267.0L477.3 266.0L475.9 265.0L474.5 264.0L473.1 263.0L471.7 262.0L470.3 261.0L468.8 260.0L467.2 259.0L465.7 258.0L464.1 257.0L462.6 256.0L461.0 255.0L459.5 254.0L457.9 253.0L456.4 252.0L454.8 251.0L453.3 250.0L451.8 249.0L450.2 248.0L448.7 247.0L447.1 246.0L445.6 245.0L444.1 244.0L442.6 243.0L441.0 242.0L439.5 241.0L438.0 240.0L436.5 239.0L434.9 238.0L433.3 237.0L431.6 236.0L430.0 235.0L428.3 234.0L426.6 233.0L425.0 232.0L423.3 231.0L421.7 230.0L420.0 229.0L418.2 228.0L416.3 227.0L414.5 226.0L412.6 225.0L410.7 224.0L408.9 223.0L407.0 222.0L405.2 221.0L403.3 220.0L401.4 219.0L399.3 218.0L397.3 217.0L395.2 216.0L393.1 215.0L391.0 214.0L388.3 213.0L385.9 212.0L384.9 211.0L383.8 210.0L382.8 209.0L382.0 208.0L381.4 207.0L380.7 206.0L380.0 205.0L379.4 204.0L378.9 203.0L378.3 202.0L377.7 201.0L377.1 200.0L376.5 199.0L375.8 198.0L375.2 197.0L374.5 196.0L373.8 195.0L373.2 194.0L372.6 193.0L372.0 192.0L371.4 191.0L370.7 190.0L369.8 189.0L369.0 188.0L368.1 187.0L367.2 186.0L366.3 185.0L365.1 184.0L364.0 183.0L362.7 182.0L361.4 181.0L360.0 180.0L358.8 179.0L357.5 178.0L356.3 177.0L355.1 176.0L354.0 175.0L352.9 174.0L351.8 173.0L350.8 172.0L349.8 171.0L348.8 170.0L347.9 169.0L347.0 168.0L345.7 167.0L344.5 166.0L343.2 165.0L342.0 164.0L340.7 163.0L339.5 162.0L338.3 161.0L337.0 160.0L335.8 159.0L334.5 158.0L333.3 157.0L332.0 156.0L330.8 155.0L329.6 154.0L328.3 153.0L327.1 152.0L326.4 151.0L326.0 150.0L325.7 149.0L325.3 148.0L324.8 147.0L324.3 146.0L323.8 145.0L323.3 144.0L322.8 143.0L322.3 142.0L321.8 141.0L321.2 140.0L320.5 139.0L319.7 138.0L318.8 137.0L317.8 136.0L316.9 135.0L316.0 134.0L315.0 133.0L314.1 132.0L313.2 131.0L312.3 130.0L311.3 129.0L310.3 128.0L309.3 127.0L308.4 126.0L307.4 125.0L306.4 124.0L305.2 123.0L304.1 122.0L303.0 121.0L301.8 120.0L300.7 119.0L299.6 118.0L298.4 117.0L297.3 116.0L296.1 115.0L295.0 114.0L293.9 113.0L292.7 112.0L291.6 111.0L290.5 110.0L289.4 109.0L288.4 108.0L287.3 107.0L286.3 106.0L285.2 105.0L284.1 104.0L283.0 103.0L281.9 102.0L280.8 101.0L279.7 100.0L278.6 99.0L277.6 98.0L276.5 97.0L275.4 96.0L274.1 95.0L272.7 94.0L271.3 93.0L270.0 92.0L268.6 91.0L267.2 90.0L265.8 89.0L264.3 88.0L262.8 87.0L261.3 86.0L259.9 85.0L258.4 84.0L256.9 83.0L255.4 82.0L254.0 81.0L252.4 80.0L250.8 79.0L249.2 78.0L247.6 77.0L246.0 76.0L244.3 75.0L242.7 74.0L241.0 73.0L239.3 72.0L237.1 71.0L234.9 70.0L232.7 69.0L230.5 68.0L228.3 67.0L226.1 66.0L224.0 65.0L221.9 64.0L219.8 63.0L217.5 62.0L215.2 61.0L212.9 60.0L210.6 59.0L208.3 58.0L206.0 57.0L203.7 56.0L201.5 55.0L199.2 54.0L197.0 53.0L195.0 52.0L192.9 51.0L190.8 50.0L188.8 49.0L186.3 48.0L184.1 47.0L181.8 46.0L179.6 45.0L177.3 44.0L175.1 43.0L172.8 42.0L170.6 41.0L168.4 40.0L166.2 39.0L164.1 38.0L161.8 37.0L159.2 36.0L156.7 35.0L154.1 34.0L151.9 33.0L149.6 32.0L147.3 31.0L144.7 30.0L141.3 29.0L139.3 28.0L139.2 27.0L139.1 26.0L139.0 25.0L138.9 24.0L138.8 23.0L138.7 22.0L138.6 21.0L138.5 20.0L138.4 19.0L138.4 18.0L138.3 17.0L138.2 16.0L138.1 15.0L138.0 14.0L137.9 13.0L137.8 12.0Z" fill="#000" fill-opacity="0.0625"/>
<path d="M109.4 12.0L110.9 13.0L112.4 14.0L113.9 15.0L115.4 16.0L117.0 17.0L118.6 18.0L120.1 19.0L121.7 20.0L123.2 21.0L125.1 22.0L127.1 23.0L129.2 24.0L131.2 25.0L133.2 26.0L135.3 27.0L137.2 28.0L138.4 29.0L139.1 30.0L139.4 31.0L139.8 32.0L140.1 33.0L140.5 34.0L140.8 35.0L141.2 36.0L141.6 37.0L142.0 38.0L142.3 39.0L142.7 40.0L143.2 41.0L143.7 42.0L144.3 43.0L145.0 44.0L145.6 45.0L146.2 46.0L146.9 47.0L147.5 48.0L148.2 49.0L148.8 50.0L149.5 51.0L150.2 52.0L151.0 53.0L151.9 54.0L152.9 55.0L153.9 56.0L154.9 57.0L156.0 58.0L157.0 59.0L158.0 60.0L159.1 61.0L160.1 62.0L161.2 63.0L162.3 64.0L163.5 65.0L164.6 66.0L166.0 67.0L167.4 68.0L168.8 69.0L170.2 70.0L171.6 71.0L173.0 72.0L174.4 73.0L175.9 74.0L177.3 75.0L178.8 76.0L180.2 77.0L181.7 78.0L183.0 79.0L184.5 80.0L186.1 81.0L187.6 82.0L189.2 83.0L190.7 84.0L192.3 85.0L193.8 86.0L195.4 87.0L196.9 88.0L198.5 89.0L200.1 90.0L201.6 91.0L203.1 92.0L204.6 93.0L206.2 94.0L207.7 95.0L209.2 96.0L210.7 97.0L212.3 98.0L213.9 99.0L215.5 100.0L217.2 101.0L218.8 102.0L220.5 103.0L222.1 104.0L223.8 105.0L225.4 106.0L227.1 107.0L228.7 108.0L230.3 109.0L231.8 110.0L233.3 111.0L234.9 112.0L236.4 113.0L238.0 114.0L239.6 115.0L241.5 116.0L243.3 117.0L245.2 118.0L247.1 119.0L248.9 120.0L250.6 121.0L252.2 122.0L254.0 123.0L255.8 124.0L257.7 125.0L259.6 126.0L261.5 127.0L263.4 128.0L265.3 129.0L267.2 130.0L269.1 131.0L270.9 132.0L272.8 133.0L274.9 134.0L277.0 135.0L279.2 136.0L281.3 137.0L283.4 138.0L285.5 139.0L287.7 140.0L289.2 141.0L290.7 142.0L292.2 143.0L294.2 144.0L296.4 145.0L298.6 146.0L300.9 147.0L303.3 148.0L305.7 149.0L309.6 150.0L312.2 151.0L312.6 152.0L313.9 153.0L315.2 154.0L316.4 155.0L317.7 156.0L319.0 157.0L320.2 158.0L321.5 159.0L322.8 160.0L324.0 161.0L325.3 162.0L326.5 163.0L327.8 164.0L329.1 165.0L330.3 166.0L331.6 167.0L332.9 168.0L334.5 169.0L336.1 170.0L337.9 171.0L339.7 172.0L341.4 173.0L342.8 174.0L344.3 175.0L345.6 176.0L346.5 177.0L347.3 178.0L348.2 179.0L349.0 180.0L349.8 181.0L350.6 182.0L351.3 183.0L352.0 184.0L352.7 185.0L353.3 186.0L353.8 187.0L354.4 188.0L354.9 189.0L355.5 190.0L356.1 191.0L356.8 192.0L357.5 193.0L358.2 194.0L358.8 195.0L359.4 196.0L360.0 197.0L360.5 198.0L361.1 199.0L361.8 200.0L362.6 201.0L363.4 202.0L364.2 203.0L365.0 204.0L365.9 205.0L366.7 206.0L367.5 207.0L368.2 208.0L369.0 209.0L369.8 210.0L370.5 211.0L370.8 212.0L371.2 213.0L371.6 214.0L372.0 215.0L372.4 216.0L372.7 217.0L372.9 218.0L373.3 219.0L373.7 220.0L374.1 221.0L374.6 222.0L375.0 223.0L375.5 224.0L375.9 225.0L376.4 226.0L376.9 227.0L377.5 228.0L378.1 229.0L378.6 230.0L379.2 231.0L379.7 232.0L380.3 233.0L380.9 234.0L381.4 235.0L382.0 236.0L382.6 237.0L383.1 238.0L383.7 239.0L384.2 240.0L384.8 241.0L385.3 242.0L385.9 243.0L386.4 244.0L387.0 245.0L387.6 246.0L388.2 247.0L388.7 248.0L389.3 249.0L389.9 250.0L390.5 251.0L391.1 252.0L391.6 253.0L392.2 254.0L392.8 255.0L393.4 256.0L394.0 257.0L394.5 258.0L395.1 259.0L395.7 260.0L396.3 261.0L396.9 262.0L397.4 263.0L398.2 264.0L398.9 265.0L399.7 266.0L400.4 267.0L401.1 268.0L401.9 269.0L402.6 270.0L403.4 271.0L404.1 272.0L404.9 273.0L405.6 274.0L406.3 275.0L407.1 276.0L407.8 277.0L408.6 278.0L409.5 279.0L410.4 280.0L411.3 281.0L412.1 282.0L413.0 283.0L413.9 284.0L414.7 285.0L415.6 286.0L416.5 287.0L417.3 288.0L418.2 289.0L419.1 290.0L420.0 291.0L421.0 292.0L421.9 293.0L422.8 294.0L423.8 295.0L424.7 296.0L425.6 297.0L426.6 298.0L427.5 299.0L428.4 300.0L429.4 301.0L430.3 302.0L431.2 303.0L432.2 304.0L433.1 305.0L434.0 306.0L435.0 307.0L435.9 308.0L436.8 309.0L437.8 310.0L438.7 311.0L439.6 312.0L440.6 313.0L441.5 314.0L442.4 315.0L443.3 316.0L444.2 317.0L445.1 318.0L445.9 319.0L446.8 320.0L447.7 321.0L448.6 322.0L449.5 323.0L450.4 324.0L451.1 325.0L451.8 326.0L452.5 327.0L453.1 328.0L453.8 329.0L454.5 330.0L455.2 331.0L455.8 332.0L456.5 333.0L457.2 334.0L457.9 335.0L458.6 336.0L459.2 337.0L459.9 338.0L460.6 339.0L461.3 340.0L576.1 340.0L574.9 339.0L573.6 338.0L572.4 337.0L571.2 336.0L569.9 335.0L568.6 334.0L567.2 333.0L565.9 332.0L564.6 331.0L563.2 330.0L561.9 329.0L560.6 328.0L559.3 327.0L557.9 326.0L556.6 325.0L555.3 324.0L553.9 323.0L552.4 322.0L551.0 321.0L549.5 320.0L548.1 319.0L546.6 318.0L545.2 317.0L543.8 316.0L542.4 315.0L541.0 314.0L539.6 313.0L538.2 312.0L536.8 311.0L535.4 310.0L534.0 309.0L532.5 308.0L531.1 307.0L529.7 306.0L528.3 305.0L526.9 304.0L525.5 303.0L524.1 302.0L522.7 301.0L521.3 300.0L519.9 299.0L518.5 298.0L517.1 297.0L515.7 296.0L514.3 295.0L512.9 294.0L511.5 293.0L510.2 292.0L508.7 291.0L507.3 290.0L505.9 289.0L504.4 288.0L503.0 287.0L501.6 286.0L500.2 285.0L498.7 284.0L497.3 283.0L495.9 282.0L494.5 281.0L493.0 280.0L491.6 279.0L490.2 278.0L488.8 277.0L487.4 276.0L486.0 275.0L484.6 274.0L483.2 273.0L481.8 272.0L480.4 271.0L479.0 270.0L477.6 269.0L476.3 268.0L474.9 267.0L473.5 266.0L472.1 265.0L470.7 264.0L469.3 263.0L467.9 262.0L466.5 261.0L465.0 260.0L463.5 259.0L462.0 258.0L460.5 257.0L459.0 256.0L457.5 255.0L456.0 254.0L454.5 253.0L453.0 252.0L451.5 251.0L450.0 250.0L448.4 249.0L446.9 248.0L445.4 247.0L443.9 246.0L442.4 245.0L441.0 244.0L439.5 243.0L438.0 242.0L436.5 241.0L435.0 240.0L433.6 239.0L432.0 238.0L430.4 237.0L428.8 236.0L427.2 235.0L425.6 234.0L424.0 233.0L422.4 232.0L420.8 231.0L419.2 230.0L417.6 229.0L415.8 228.0L414.1 227.0L412.3 226.0L410.5 225.0L408.7 224.0L406.9 223.0L405.1 222.0L403.3 221.0L401.6 220.0L399.7 219.0L397.8 218.0L395.9 217.0L393.9 216.0L392.0 215.0L390.0 214.0L387.6 213.0L385.4 212.0L384.4 211.0L383.4 210.0L382.4 209.0L381.6 208.0L381.0 207.0L380.3 206.0L379.7 205.0L379.1 204.0L378.5 203.0L378.0 202.0L377.4 201.0L376.8 200.0L376.2 199.0L375.5 198.0L374.9 197.0L374.2 196.0L373.5 195.0L372.9 194.0L372.3 193.0L371.7 192.0L371.1 191.0L370.3 190.0L369.5 189.0L368.7 188.0L367.8 187.0L367.0 186.0L366.0 185.0L364.9 184.0L363.7 183.0L362.4 182.0L361.1 181.0L359.8 180.0L358.5 179.0L357.3 178.0L356.0 177.0L354.8 176.0L353.7 175.0L352.7 174.0L351.6 173.0L350.5 172.0L349.5 171.0L348.5 170.0L347.6 169.0L346.6 168.0L345.4 167.0L344.1 166.0L342.9 165.0L341.7 164.0L340.4 163.0L339.2 162.0L337.9 161.0L336.7 160.0L335.5 159.0L334.2 158.0L333.0 157.0L331.7 156.0L330.5 155.0L329.2 154.0L328.0 153.0L326.8 152.0L326.1 151.0L325.6 150.0L325.3 149.0L325.0 148.0L324.5 147.0L324.0 146.0L323.5 145.0L323.0 144.0L322.5 143.0L322.0 142.0L321.4 141.0L320.9 140.0L320.2 139.0L319.3 138.0L318.4 137.0L317.4 136.0L316.4 135.0L315.4 134.0L314.5 133.0L313.5 132.0L312.6 131.0L311.7 130.0L310.7 129.0L309.6 128.0L308.6 127.0L307.6 126.0L306.6 125.0L305.6 124.0L304.4 123.0L303.3 122.0L302.2 121.0L301.0 120.0L299.9 119.0L298.7 118.0L297.6 117.0L296.4 116.0L295.3 115.0L294.1 114.0L293.0 113.0L291.8 112.0L290.7 111.0L289.5 110.0L288.5 109.0L287.4 108.0L286.3 107.0L285.2 106.0L284.1 105.0L283.0 104.0L281.9 103.0L280.8 102.0L279.6 101.0L278.5 100.0L277.4 99.0L276.2 98.0L275.1 97.0L274.0 96.0L272.7 95.0L271.3 94.0L269.9 93.0L268.5 92.0L267.2 91.0L265.8 90.0L264.2 89.0L262.7 88.0L261.2 87.0L259.7 86.0L258.1 85.0L256.6 84.0L255.1 83.0L253.6 82.0L252.0 81.0L250.4 80.0L248.8 79.0L247.2 78.0L245.5 77.0L243.8 76.0L242.1 75.0L240.4 74.0L238.7 73.0L236.9 72.0L234.7 71.0L232.4 70.0L230.2 69.0L227.9 68.0L225.7 67.0L223.5 66.0L221.3 65.0L219.2 64.0L217.1 63.0L214.8 62.0L212.5 61.0L210.2 60.0L208.0 59.0L205.7 58.0L203.4 57.0L201.2 56.0L199.0 55.0L196.7 54.0L194.6 53.0L192.5 52.0L190.5 51.0L188.5 50.0L186.5 49.0L184.1 48.0L181.9 47.0L179.8 46.0L177.6 45.0L175.4 44.0L173.3 43.0L171.1 42.0L168.9 41.0L166.8 40.0L164.7 39.0L162.7 38.0L160.5 37.0L158.0 36.0L155.6 35.0L153.3 34.0L151.1 33.0L148.9 32.0L146.8 31.0L144.3 30.0L141.2 29.0L139.2 28.0L139.1 27.0L139.0 26.0L138.9 25.0L138.8 24.0L138.7 23.0L138.6 22.0L138.5 21.0L138.4 20.0L138.4 19.0L138.3 18.0L138.2 17.0L138.1 16.0L138.1 15.0L138.0 14.0L137.9 13.0L137.8 12.0Z" fill="#000" fill-opacity="0.0667"/>
<path d="M110.3 12.0L111.8 13.0L113.2 14.0L114.6 15.0L116.2 16.0L117.7 17.0L119.3 18.0L120.8 19.0L122.3 20.0L123.8 21.0L125.6 22.0L127.6 23.0L129.5 24.0L131.5 25.0L133.4 26.0L135.5 27.0L137.3 28.0L138.4 29.0L139.1 30.0L139.4 31.0L139.8 32.0L140.2 33.0L140.6 34.0L141.0 35.0L141.3 36.0L141.7 37.0L142.1 38.0L142.5 39.0L142.9 40.0L143.4 41.0L143.9 42.0L144.6 43.0L145.3 44.0L145.9 45.0L146.6 46.0L147.2 47.0L147.9 48.0L148.6 49.0L149.2 50.0L149.9 51.0L150.6 52.0L151.4 53.0L152.4 54.0L153.4 55.0L154.4 56.0L155.5 57.0L156.5 58.0L157.6 59.0L158.6 60.0L159.7 61.0L160.8 62.0L162.0 63.0L163.1 64.0L164.2 65.0L165.4 66.0L166.9 67.0L168.3 68.0L169.8 69.0L171.2 70.0L172.7 71.0L174.2 72.0L175.7 73.0L177.2 74.0L178.7 75.0L180.2 76.0L181.7 77.0L183.2 78.0L184.6 79.0L186.1 80.0L187.7 81.0L189.2 82.0L190.8 83.0L192.4 84.0L194.0 85.0L195.5 86.0L197.1 87.0L198.7 88.0L200.3 89.0L201.9 90.0L203.4 91.0L204.9 92.0L206.5 93.0L208.0 94.0L209.5 95.0L211.1 96.0L212.6 97.0L214.2 98.0L215.8 99.0L217.4 100.0L219.1 101.0L220.7 102.0L222.4 103.0L224.0 104.0L225.6 105.0L227.3 106.0L228.9 107.0L230.6 108.0L232.1 109.0L233.7 110.0L235.2 111.0L236.8 112.0L238.3 113.0L239.9 114.0L241.5 115.0L243.3 116.0L245.2 117.0L247.0 118.0L248.8 119.0L250.7 120.0L252.3 121.0L254.0 122.0L255.7 123.0L257.6 124.0L259.5 125.0L261.4 126.0L263.3 127.0L265.2 128.0L267.0 129.0L268.9 130.0L270.8 131.0L272.7 132.0L274.6 133.0L276.7 134.0L278.8 135.0L280.9 136.0L283.0 137.0L285.1 138.0L287.2 139.0L289.3 140.0L290.7 141.0L292.2 142.0L293.7 143.0L295.6 144.0L297.7 145.0L299.8 146.0L302.0 147.0L304.2 148.0L306.5 149.0L310.0 150.0L312.5 151.0L313.0 152.0L314.2 153.0L315.5 154.0L316.7 155.0L318.0 156.0L319.3 157.0L320.5 158.0L321.8 159.0L323.0 160.0L324.3 161.0L325.6 162.0L326.8 163.0L328.1 164.0L329.3 165.0L330.6 166.0L331.9 167.0L333.1 168.0L334.7 169.0L336.4 170.0L338.2 171.0L340.0 172.0L341.8 173.0L343.2 174.0L344.7 175.0L346.1 176.0L347.0 177.0L347.9 178.0L348.7 179.0L349.5 180.0L350.4 181.0L351.1 182.0L351.9 183.0L352.7 184.0L353.3 185.0L353.9 186.0L354.5 187.0L355.1 188.0L355.6 189.0L356.2 190.0L356.8 191.0L357.5 192.0L358.2 193.0L358.9 194.0L359.5 195.0L360.1 196.0L360.7 197.0L361.3 198.0L361.8 199.0L362.5 200.0L363.3 201.0L364.1 202.0L364.9 203.0L365.6 204.0L366.4 205.0L367.2 206.0L368.0 207.0L368.7 208.0L369.4 209.0L370.2 210.0L370.8 211.0L371.2 212.0L371.5 213.0L371.9 214.0L372.3 215.0L372.6 216.0L372.9 217.0L373.2 218.0L373.5 219.0L374.0 220.0L374.4 221.0L374.9 222.0L375.4 223.0L375.8 224.0L376.3 225.0L376.8 226.0L377.3 227.0L377.9 228.0L378.5 229.0L379.0 230.0L379.6 231.0L380.2 232.0L380.8 233.0L381.3 234.0L381.9 235.0L382.5 236.0L383.0 237.0L383.6 238.0L384.2 239.0L384.7 240.0L385.3 241.0L385.8 242.0L386.4 243.0L387.0 244.0L387.5 245.0L388.1 246.0L388.7 247.0L389.3 248.0L389.9 249.0L390.5 250.0L391.1 251.0L391.7 252.0L392.3 253.0L392.9 254.0L393.5 255.0L394.1 256.0L394.7 257.0L395.2 258.0L395.8 259.0L396.4 260.0L397.0 261.0L397.6 262.0L398.2 263.0L399.0 264.0L399.7 265.0L400.4 266.0L401.2 267.0L401.9 268.0L402.7 269.0L403.4 270.0L404.1 271.0L404.9 272.0L405.6 273.0L406.4 274.0L407.1 275.0L407.8 276.0L408.6 277.0L409.4 278.0L410.3 279.0L411.2 280.0L412.1 281.0L413.0 282.0L413.9 283.0L414.8 284.0L415.7 285.0L416.6 286.0L417.5 287.0L418.4 288.0L419.3 289.0L420.3 290.0L421.2 291.0L422.2 292.0L423.2 293.0L424.1 294.0L425.1 295.0L426.0 296.0L427.0 297.0L427.9 298.0L428.9 299.0L429.9 300.0L430.8 301.0L431.8 302.0L432.7 303.0L433.7 304.0L434.7 305.0L435.6 306.0L436.6 307.0L437.5 308.0L438.5 309.0L439.5 310.0L440.4 311.0L441.4 312.0L442.3 313.0L443.3 314.0L444.2 315.0L445.1 316.0L446.0 317.0L446.9 318.0L447.8 319.0L448.7 320.0L449.6 321.0L450.6 322.0L451.5 323.0L452.4 324.0L453.1 325.0L453.8 326.0L454.5 327.0L455.2 328.0L455.9 329.0L456.6 330.0L457.3 331.0L457.9 332.0L458.6 333.0L459.3 334.0L460.0 335.0L460.7 336.0L461.4 337.0L462.1 338.0L462.8 339.0L463.5 340.0L571.1 340.0L569.9 339.0L568.7 338.0L567.4 337.0L566.2 336.0L565.0 335.0L563.6 334.0L562.3 333.0L561.0 332.0L559.7 331.0L558.4 330.0L557.1 329.0L555.7 328.0L554.4 327.0L553.1 326.0L551.8 325.0L550.5 324.0L549.1 323.0L547.6 322.0L546.2 321.0L544.8 320.0L543.4 319.0L541.9 318.0L540.5 317.0L539.2 316.0L537.8 315.0L536.4 314.0L535.0 313.0L533.6 312.0L532.2 311.0L530.8 310.0L529.4 309.0L528.0 308.0L526.6 307.0L525.2 306.0L523.9 305.0L522.5 304.0L521.1 303.0L519.7 302.0L518.3 301.0L516.9 300.0L515.5 299.0L514.2 298.0L512.8 297.0L511.4 296.0L510.0 295.0L508.6 294.0L507.3 293.0L505.9 292.0L504.5 291.0L503.1 290.0L501.7 289.0L500.3 288.0L498.8 287.0L497.4 286.0L496.0 285.0L494.6 284.0L493.2 283.0L491.8 282.0L490.4 281.0L489.0 280.0L487.6 279.0L486.2 278.0L484.8 277.0L483.5 276.0L482.1 275.0L480.7 274.0L479.3 273.0L478.0 272.0L476.6 271.0L475.2 270.0L473.9 269.0L472.5 268.0L471.1 267.0L469.8 266.0L468.4 265.0L467.0 264.0L465.7 263.0L464.3 262.0L462.9 261.0L461.5 260.0L460.0 259.0L458.5 258.0L457.1 257.0L455.6 256.0L454.1 255.0L452.6 254.0L451.2 253.0L449.7 252.0L448.2 251.0L446.8 250.0L445.3 249.0L443.8 248.0L442.4 247.0L440.9 246.0L439.4 245.0L438.0 244.0L436.5 243.0L435.1 242.0L433.6 241.0L432.2 240.0L430.8 239.0L429.3 238.0L427.7 237.0L426.2 236.0L424.6 235.0L423.1 234.0L421.5 233.0L420.0 232.0L418.5 231.0L416.9 230.0L415.3 229.0L413.6 228.0L411.9 227.0L410.2 226.0L408.5 225.0L406.7 224.0L405.0 223.0L403.3 222.0L401.6 221.0L399.9 220.0L398.1 219.0L396.2 218.0L394.5 217.0L392.7 216.0L390.9 215.0L389.1 214.0L386.9 213.0L384.8 212.0L383.9 211.0L382.9 210.0L382.0 209.0L381.3 208.0L380.6 207.0L380.0 206.0L379.4 205.0L378.8 204.0L378.2 203.0L377.7 202.0L377.1 201.0L376.5 200.0L375.9 199.0L375.2 198.0L374.6 197.0L373.9 196.0L373.2 195.0L372.6 194.0L372.0 193.0L371.4 192.0L370.7 191.0L370.0 190.0L369.2 189.0L368.4 188.0L367.6 187.0L366.7 186.0L365.8 185.0L364.6 184.0L363.5 183.0L362.2 182.0L360.9 181.0L359.6 180.0L358.3 179.0L357.0 178.0L355.8 177.0L354.6 176.0L353.5 175.0L352.4 174.0L351.4 173.0L350.3 172.0L349.2 171.0L348.3 170.0L347.3 169.0L346.3 168.0L345.1 167.0L343.8 166.0L342.6 165.0L341.4 164.0L340.1 163.0L338.9 162.0L337.6 161.0L336.4 160.0L335.2 159.0L333.9 158.0L332.7 157.0L331.4 156.0L330.2 155.0L329.0 154.0L327.7 153.0L326.5 152.0L325.8 151.0L325.3 150.0L325.0 149.0L324.6 148.0L324.1 147.0L323.6 146.0L323.1 145.0L322.7 144.0L322.2 143.0L321.7 142.0L321.2 141.0L320.7 140.0L319.8 139.0L319.0 138.0L318.0 137.0L316.9 136.0L316.0 135.0L315.0 134.0L314.0 133.0L313.0 132.0L312.0 131.0L311.1 130.0L310.0 129.0L309.0 128.0L308.0 127.0L306.9 126.0L305.9 125.0L304.8 124.0L303.7 123.0L302.5 122.0L301.4 121.0L300.2 120.0L299.0 119.0L297.9 118.0L296.7 117.0L295.6 116.0L294.4 115.0L293.2 114.0L292.1 113.0L290.9 112.0L289.7 111.0L288.6 110.0L287.5 109.0L286.4 108.0L285.3 107.0L284.2 106.0L283.1 105.0L281.9 104.0L280.8 103.0L279.6 102.0L278.4 101.0L277.3 100.0L276.1 99.0L274.9 98.0L273.8 97.0L272.6 96.0L271.3 95.0L269.9 94.0L268.5 93.0L267.1 92.0L265.8 91.0L264.3 90.0L262.8 89.0L261.2 88.0L259.6 87.0L258.0 86.0L256.5 85.0L254.9 84.0L253.3 83.0L251.7 82.0L250.2 81.0L248.5 80.0L246.9 79.0L245.2 78.0L243.5 77.0L241.7 76.0L239.9 75.0L238.2 74.0L236.4 73.0L234.6 72.0L232.3 71.0L230.0 70.0L227.8 69.0L225.5 68.0L223.2 67.0L221.0 66.0L218.8 65.0L216.7 64.0L214.6 63.0L212.3 62.0L210.0 61.0L207.8 60.0L205.5 59.0L203.3 58.0L201.1 57.0L198.8 56.0L196.6 55.0L194.4 54.0L192.3 53.0L190.3 52.0L188.3 51.0L186.3 50.0L184.4 49.0L182.1 48.0L180.0 47.0L177.9 46.0L175.8 45.0L173.7 44.0L171.6 43.0L169.5 42.0L167.4 41.0L165.3 40.0L163.4 39.0L161.4 38.0L159.3 37.0L157.0 36.0L154.7 35.0L152.4 34.0L150.4 33.0L148.3 32.0L146.2 31.0L143.9 30.0L141.0 29.0L139.2 28.0L139.1 27.0L139.0 26.0L138.9 25.0L138.8 24.0L138.7 23.0L138.6 22.0L138.5 21.0L138.4 20.0L138.3 19.0L138.2 18.0L138.1 17.0L138.1 16.0L138.0 15.0L137.9 14.0L137.8 13.0L137.7 12.0Z" fill="#000" fill-opacity="0.0714"/>
<path d="M111.3 12.0L112.7 13.0L114.1 14.0L115.5 15.0L117.0 16.0L118.6 17.0L120.1 18.0L121.5 19.0L123.0 20.0L124.5 21.0L126.2 22.0L128.1 23.0L130.0 24.0L131.8 25.0L133.6 26.0L135.6 27.0L137.4 28.0L138.4 29.0L139.1 30.0L139.4 31.0L139.8 32.0L140.3 33.0L140.7 34.0L141.1 35.0L141.5 36.0L141.9 37.0L142.3 38.0L142.7 39.0L143.1 40.0L143.6 41.0L144.2 42.0L144.9 43.0L145.6 44.0L146.2 45.0L146.9 46.0L147.6 47.0L148.3 48.0L148.9 49.0L149.6 50.0L150.3 51.0L151.0 52.0L151.8 53.0L152.8 54.0L153.9 55.0L154.9 56.0L156.0 57.0L157.1 58.0L158.2 59.0L159.3 60.0L160.4 61.0L161.5 62.0L162.7 63.0L163.8 64.0L165.0 65.0L166.2 66.0L167.7 67.0L169.2 68.0L170.7 69.0L172.2 70.0L173.8 71.0L175.3 72.0L176.8 73.0L178.4 74.0L179.9 75.0L181.5 76.0L183.1 77.0L184.6 78.0L186.1 79.0L187.6 80.0L189.2 81.0L190.8 82.0L192.3 83.0L193.9 84.0L195.5 85.0L197.1 86.0L198.7 87.0L200.3 88.0L201.9 89.0L203.5 90.0L205.1 91.0L206.6 92.0L208.2 93.0L209.7 94.0L211.3 95.0L212.8 96.0L214.3 97.0L215.9 98.0L217.5 99.0L219.2 100.0L220.8 101.0L222.4 102.0L224.1 103.0L225.7 104.0L227.4 105.0L229.0 106.0L230.6 107.0L232.3 108.0L233.8 109.0L235.4 110.0L237.0 111.0L238.5 112.0L240.1 113.0L241.6 114.0L243.3 115.0L245.1 116.0L246.9 117.0L248.7 118.0L250.5 119.0L252.3 120.0L253.9 121.0L255.6 122.0L257.4 123.0L259.2 124.0L261.1 125.0L263.0 126.0L264.9 127.0L266.8 128.0L268.7 129.0L270.6 130.0L272.5 131.0L274.4 132.0L276.3 133.0L278.3 134.0L280.4 135.0L282.4 136.0L284.5 137.0L286.6 138.0L288.6 139.0L290.7 140.0L292.2 141.0L293.6 142.0L295.1 143.0L296.9 144.0L298.9 145.0L300.9 146.0L303.0 147.0L305.0 148.0L307.2 149.0L310.5 150.0L312.8 151.0L313.3 152.0L314.5 153.0L315.8 154.0L317.0 155.0L318.3 156.0L319.5 157.0L320.8 158.0L322.0 159.0L323.3 160.0L324.5 161.0L325.8 162.0L327.1 163.0L328.3 164.0L329.6 165.0L330.8 166.0L332.1 167.0L333.3 168.0L335.0 169.0L336.7 170.0L338.5 171.0L340.3 172.0L342.1 173.0L343.6 174.0L345.1 175.0L346.6 176.0L347.5 177.0L348.3 178.0L349.2 179.0L350.0 180.0L350.9 181.0L351.7 182.0L352.5 183.0L353.3 184.0L353.9 185.0L354.5 186.0L355.1 187.0L355.7 188.0L356.3 189.0L356.9 190.0L357.5 191.0L358.2 192.0L358.9 193.0L359.5 194.0L360.2 195.0L360.8 196.0L361.4 197.0L361.9 198.0L362.5 199.0L363.2 200.0L363.9 201.0L364.7 202.0L365.5 203.0L366.2 204.0L366.9 205.0L367.7 206.0L368.4 207.0L369.1 208.0L369.8 209.0L370.5 210.0L371.1 211.0L371.5 212.0L371.8 213.0L372.2 214.0L372.5 215.0L372.9 216.0L373.1 217.0L373.4 218.0L373.8 219.0L374.2 220.0L374.7 221.0L375.2 222.0L375.7 223.0L376.2 224.0L376.7 225.0L377.2 226.0L377.7 227.0L378.3 228.0L378.9 229.0L379.5 230.0L380.1 231.0L380.6 232.0L381.2 233.0L381.8 234.0L382.4 235.0L382.9 236.0L383.5 237.0L384.1 238.0L384.6 239.0L385.2 240.0L385.8 241.0L386.3 242.0L386.9 243.0L387.5 244.0L388.1 245.0L388.7 246.0L389.3 247.0L389.9 248.0L390.5 249.0L391.1 250.0L391.7 251.0L392.3 252.0L392.9 253.0L393.5 254.0L394.1 255.0L394.7 256.0L395.3 257.0L396.0 258.0L396.6 259.0L397.2 260.0L397.8 261.0L398.4 262.0L399.0 263.0L399.7 264.0L400.5 265.0L401.2 266.0L401.9 267.0L402.7 268.0L403.4 269.0L404.2 270.0L404.9 271.0L405.6 272.0L406.4 273.0L407.1 274.0L407.8 275.0L408.6 276.0L409.3 277.0L410.2 278.0L411.1 279.0L412.1 280.0L413.0 281.0L413.9 282.0L414.9 283.0L415.8 284.0L416.7 285.0L417.7 286.0L418.6 287.0L419.5 288.0L420.5 289.0L421.4 290.0L422.4 291.0L423.4 292.0L424.4 293.0L425.4 294.0L426.4 295.0L427.3 296.0L428.3 297.0L429.3 298.0L430.3 299.0L431.3 300.0L432.3 301.0L433.3 302.0L434.2 303.0L435.2 304.0L436.2 305.0L437.2 306.0L438.2 307.0L439.2 308.0L440.2 309.0L441.1 310.0L442.1 311.0L443.1 312.0L444.1 313.0L445.1 314.0L446.0 315.0L446.9 316.0L447.8 317.0L448.8 318.0L449.7 319.0L450.6 320.0L451.6 321.0L452.5 322.0L453.4 323.0L454.3 324.0L455.1 325.0L455.8 326.0L456.5 327.0L457.2 328.0L457.9 329.0L458.6 330.0L459.3 331.0L460.1 332.0L460.8 333.0L461.5 334.0L462.2 335.0L462.9 336.0L463.6 337.0L464.3 338.0L465.1 339.0L465.8 340.0L566.2 340.0L564.9 339.0L563.7 338.0L562.5 337.0L561.3 336.0L560.1 335.0L558.8 334.0L557.4 333.0L556.1 332.0L554.8 331.0L553.5 330.0L552.2 329.0L550.9 328.0L549.6 327.0L548.3 326.0L547.0 325.0L545.7 324.0L544.3 323.0L542.9 322.0L541.5 321.0L540.1 320.0L538.7 319.0L537.3 318.0L536.0 317.0L534.6 316.0L533.2 315.0L531.8 314.0L530.5 313.0L529.1 312.0L527.7 311.0L526.3 310.0L525.0 309.0L523.6 308.0L522.2 307.0L520.8 306.0L519.5 305.0L518.1 304.0L516.7 303.0L515.4 302.0L514.0 301.0L512.6 300.0L511.3 299.0L509.9 298.0L508.5 297.0L507.2 296.0L505.8 295.0L504.5 294.0L503.1 293.0L501.7 292.0L500.4 291.0L499.0 290.0L497.6 289.0L496.2 288.0L494.8 287.0L493.4 286.0L492.0 285.0L490.6 284.0L489.3 283.0L487.9 282.0L486.5 281.0L485.1 280.0L483.7 279.0L482.4 278.0L481.0 277.0L479.7 276.0L478.3 275.0L477.0 274.0L475.6 273.0L474.3 272.0L472.9 271.0L471.6 270.0L470.2 269.0L468.9 268.0L467.5 267.0L466.2 266.0L464.8 265.0L463.5 264.0L462.2 263.0L460.8 262.0L459.5 261.0L458.1 260.0L456.6 259.0L455.2 258.0L453.7 257.0L452.3 256.0L450.9 255.0L449.4 254.0L448.0 253.0L446.5 252.0L445.1 251.0L443.7 250.0L442.3 249.0L440.8 248.0L439.4 247.0L438.0 246.0L436.5 245.0L435.1 244.0L433.7 243.0L432.3 242.0L430.9 241.0L429.5 240.0L428.1 239.0L426.7 238.0L425.2 237.0L423.7 236.0L422.2 235.0L420.7 234.0L419.2 233.0L417.7 232.0L416.2 231.0L414.7 230.0L413.2 229.0L411.5 228.0L409.8 227.0L408.2 226.0L406.5 225.0L404.9 224.0L403.2 223.0L401.5 222.0L399.9 221.0L398.2 220.0L396.5 219.0L394.8 218.0L393.2 217.0L391.5 216.0L389.9 215.0L388.2 214.0L386.2 213.0L384.3 212.0L383.4 211.0L382.5 210.0L381.6 209.0L380.9 208.0L380.3 207.0L379.7 206.0L379.1 205.0L378.5 204.0L377.9 203.0L377.4 202.0L376.8 201.0L376.2 200.0L375.6 199.0L374.9 198.0L374.3 197.0L373.6 196.0L373.0 195.0L372.3 194.0L371.7 193.0L371.1 192.0L370.4 191.0L369.7 190.0L368.9 189.0L368.1 188.0L367.3 187.0L366.5 186.0L365.6 185.0L364.4 184.0L363.2 183.0L362.0 182.0L360.6 181.0L359.3 180.0L358.1 179.0L356.8 178.0L355.6 177.0L354.4 176.0L353.3 175.0L352.2 174.0L351.1 173.0L350.1 172.0L349.0 171.0L348.0 170.0L347.0 169.0L346.1 168.0L344.8 167.0L343.6 166.0L342.3 165.0L341.1 164.0L339.9 163.0L338.6 162.0L337.4 161.0L336.1 160.0L334.9 159.0L333.7 158.0L332.4 157.0L331.2 156.0L329.9 155.0L328.7 154.0L327.5 153.0L326.2 152.0L325.5 151.0L325.0 150.0L324.7 149.0L324.3 148.0L323.8 147.0L323.3 146.0L322.8 145.0L322.4 144.0L321.9 143.0L321.4 142.0L320.9 141.0L320.4 140.0L319.5 139.0L318.6 138.0L317.6 137.0L316.5 136.0L315.5 135.0L314.5 134.0L313.5 133.0L312.5 132.0L311.5 131.0L310.5 130.0L309.4 129.0L308.4 128.0L307.3 127.0L306.3 126.0L305.2 125.0L304.1 124.0L302.9 123.0L301.8 122.0L300.6 121.0L299.4 120.0L298.3 119.0L297.1 118.0L295.9 117.0L294.7 116.0L293.5 115.0L292.4 114.0L291.2 113.0L290.0 112.0L288.8 111.0L287.7 110.0L286.6 109.0L285.4 108.0L284.3 107.0L283.2 106.0L282.1 105.0L280.9 104.0L279.7 103.0L278.5 102.0L277.3 101.0L276.1 100.0L274.9 99.0L273.7 98.0L272.5 97.0L271.3 96.0L269.9 95.0L268.6 94.0L267.2 93.0L265.8 92.0L264.4 91.0L262.9 90.0L261.3 89.0L259.7 88.0L258.1 87.0L256.5 86.0L254.8 85.0L253.2 84.0L251.6 83.0L250.0 82.0L248.3 81.0L246.7 80.0L245.0 79.0L243.3 78.0L241.5 77.0L239.6 76.0L237.8 75.0L236.0 74.0L234.2 73.0L232.3 72.0L230.0 71.0L227.7 70.0L225.4 69.0L223.1 68.0L220.8 67.0L218.6 66.0L216.4 65.0L214.3 64.0L212.2 63.0L209.9 62.0L207.7 61.0L205.5 60.0L203.2 59.0L201.0 58.0L198.8 57.0L196.6 56.0L194.4 55.0L192.3 54.0L190.1 53.0L188.2 52.0L186.3 51.0L184.3 50.0L182.4 49.0L180.2 48.0L178.2 47.0L176.2 46.0L174.1 45.0L172.1 44.0L170.1 43.0L168.0 42.0L166.0 41.0L164.0 40.0L162.1 39.0L160.2 38.0L158.2 37.0L156.0 36.0L153.8 35.0L151.7 34.0L149.7 33.0L147.7 32.0L145.8 31.0L143.6 30.0L140.8 29.0L139.2 28.0L139.1 27.0L138.9 26.0L138.8 25.0L138.7 24.0L138.6 23.0L138.5 22.0L138.4 21.0L138.3 20.0L138.2 19.0L138.1 18.0L138.1 17.0L138.0 16.0L137.9 15.0L137.8 14.0L137.7 13.0L137.6 12.0Z" fill="#000" fill-opacity="0.0769"/>
<path d="M112.5 12.0L113.8 13.0L115.2 14.0L116.5 15.0L118.0 16.0L119.5 17.0L120.9 18.0L122.3 19.0L123.8 20.0L125.2 21.0L126.9 22.0L128.6 23.0L130.4 24.0L132.2 25.0L133.9 26.0L135.8 27.0L137.4 28.0L138.4 29.0L139.2 30.0L139.5 31.0L139.9 32.0L140.3 33.0L140.7 34.0L141.2 35.0L141.6 36.0L142.0 37.0L142.5 38.0L142.9 39.0L143.3 40.0L143.9 41.0L144.5 42.0L145.2 43.0L145.8 44.0L146.5 45.0L147.2 46.0L147.9 47.0L148.6 48.0L149.3 49.0L150.0 50.0L150.7 51.0L151.4 52.0L152.2 53.0L153.2 54.0L154.3 55.0L155.4 56.0L156.5 57.0L157.6 58.0L158.8 59.0L159.9 60.0L161.0 61.0L162.2 62.0L163.4 63.0L164.5 64.0L165.7 65.0L166.9 66.0L168.5 67.0L170.0 68.0L171.6 69.0L173.2 70.0L174.8 71.0L176.4 72.0L178.0 73.0L179.5 74.0L181.2 75.0L182.8 76.0L184.4 77.0L185.9 78.0L187.4 79.0L189.0 80.0L190.6 81.0L192.2 82.0L193.8 83.0L195.4 84.0L197.0 85.0L198.6 86.0L200.2 87.0L201.8 88.0L203.5 89.0L205.1 90.0L206.6 91.0L208.2 92.0L209.7 93.0L211.3 94.0L212.9 95.0L214.4 96.0L216.0 97.0L217.5 98.0L219.1 99.0L220.8 100.0L222.4 101.0L224.0 102.0L225.7 103.0L227.3 104.0L229.0 105.0L230.6 106.0L232.2 107.0L233.9 108.0L235.4 109.0L237.0 110.0L238.6 111.0L240.1 112.0L241.7 113.0L243.3 114.0L244.9 115.0L246.6 116.0L248.4 117.0L250.2 118.0L252.0 119.0L253.7 120.0L255.4 121.0L257.0 122.0L258.8 123.0L260.7 124.0L262.6 125.0L264.5 126.0L266.4 127.0L268.3 128.0L270.2 129.0L272.1 130.0L274.0 131.0L275.9 132.0L277.8 133.0L279.8 134.0L281.8 135.0L283.9 136.0L285.9 137.0L288.0 138.0L290.0 139.0L292.0 140.0L293.5 141.0L294.9 142.0L296.4 143.0L298.1 144.0L300.0 145.0L301.9 146.0L303.9 147.0L305.9 148.0L307.9 149.0L310.9 150.0L313.0 151.0L313.5 152.0L314.8 153.0L316.0 154.0L317.3 155.0L318.5 156.0L319.8 157.0L321.0 158.0L322.3 159.0L323.5 160.0L324.8 161.0L326.0 162.0L327.3 163.0L328.5 164.0L329.8 165.0L331.0 166.0L332.3 167.0L333.5 168.0L335.2 169.0L336.9 170.0L338.7 171.0L340.6 172.0L342.3 173.0L343.9 174.0L345.4 175.0L347.0 176.0L347.9 177.0L348.8 178.0L349.6 179.0L350.5 180.0L351.4 181.0L352.2 182.0L353.0 183.0L353.8 184.0L354.5 185.0L355.1 186.0L355.7 187.0L356.3 188.0L356.9 189.0L357.5 190.0L358.1 191.0L358.8 192.0L359.5 193.0L360.2 194.0L360.8 195.0L361.4 196.0L362.0 197.0L362.6 198.0L363.2 199.0L363.8 200.0L364.6 201.0L365.3 202.0L366.1 203.0L366.8 204.0L367.5 205.0L368.2 206.0L368.9 207.0L369.5 208.0L370.2 209.0L370.9 210.0L371.4 211.0L371.8 212.0L372.1 213.0L372.4 214.0L372.8 215.0L373.1 216.0L373.4 217.0L373.7 218.0L374.1 219.0L374.5 220.0L375.0 221.0L375.5 222.0L376.0 223.0L376.6 224.0L377.1 225.0L377.6 226.0L378.1 227.0L378.7 228.0L379.3 229.0L379.9 230.0L380.5 231.0L381.1 232.0L381.6 233.0L382.2 234.0L382.8 235.0L383.4 236.0L384.0 237.0L384.6 238.0L385.1 239.0L385.7 240.0L386.3 241.0L386.8 242.0L387.4 243.0L388.0 244.0L388.6 245.0L389.2 246.0L389.8 247.0L390.5 248.0L391.1 249.0L391.7 250.0L392.3 251.0L392.9 252.0L393.6 253.0L394.2 254.0L394.8 255.0L395.4 256.0L396.0 257.0L396.7 258.0L397.3 259.0L397.9 260.0L398.5 261.0L399.1 262.0L399.8 263.0L400.5 264.0L401.2 265.0L402.0 266.0L402.7 267.0L403.4 268.0L404.2 269.0L404.9 270.0L405.7 271.0L406.4 272.0L407.1 273.0L407.9 274.0L408.6 275.0L409.3 276.0L410.1 277.0L410.9 278.0L411.9 279.0L412.9 280.0L413.9 281.0L414.8 282.0L415.8 283.0L416.8 284.0L417.7 285.0L418.7 286.0L419.7 287.0L420.6 288.0L421.6 289.0L422.6 290.0L423.6 291.0L424.6 292.0L425.6 293.0L426.6 294.0L427.7 295.0L428.7 296.0L429.7 297.0L430.7 298.0L431.7 299.0L432.7 300.0L433.7 301.0L434.7 302.0L435.7 303.0L436.8 304.0L437.8 305.0L438.8 306.0L439.8 307.0L440.8 308.0L441.8 309.0L442.8 310.0L443.8 311.0L444.9 312.0L445.9 313.0L446.9 314.0L447.8 315.0L448.7 316.0L449.7 317.0L450.6 318.0L451.6 319.0L452.5 320.0L453.5 321.0L454.4 322.0L455.4 323.0L456.3 324.0L457.0 325.0L457.8 326.0L458.5 327.0L459.2 328.0L460.0 329.0L460.7 330.0L461.4 331.0L462.2 332.0L462.9 333.0L463.6 334.0L464.4 335.0L465.1 336.0L465.8 337.0L466.6 338.0L467.3 339.0L468.0 340.0L561.2 340.0L560.0 339.0L558.8 338.0L557.6 337.0L556.4 336.0L555.2 335.0L553.9 334.0L552.6 333.0L551.3 332.0L550.0 331.0L548.8 330.0L547.5 329.0L546.2 328.0L544.9 327.0L543.6 326.0L542.3 325.0L541.0 324.0L539.7 323.0L538.3 322.0L536.9 321.0L535.5 320.0L534.1 319.0L532.8 318.0L531.4 317.0L530.1 316.0L528.7 315.0L527.4 314.0L526.0 313.0L524.7 312.0L523.3 311.0L521.9 310.0L520.6 309.0L519.2 308.0L517.9 307.0L516.5 306.0L515.2 305.0L513.8 304.0L512.5 303.0L511.1 302.0L509.8 301.0L508.4 300.0L507.1 299.0L505.7 298.0L504.4 297.0L503.0 296.0L501.7 295.0L500.4 294.0L499.0 293.0L497.7 292.0L496.3 291.0L494.9 290.0L493.6 289.0L492.2 288.0L490.8 287.0L489.5 286.0L488.1 285.0L486.8 284.0L485.4 283.0L484.0 282.0L482.7 281.0L481.3 280.0L480.0 279.0L478.6 278.0L477.3 277.0L475.9 276.0L474.6 275.0L473.3 274.0L472.0 273.0L470.6 272.0L469.3 271.0L468.0 270.0L466.7 269.0L465.4 268.0L464.0 267.0L462.7 266.0L461.4 265.0L460.1 264.0L458.8 263.0L457.4 262.0L456.1 261.0L454.7 260.0L453.3 259.0L451.9 258.0L450.5 257.0L449.1 256.0L447.7 255.0L446.3 254.0L444.9 253.0L443.5 252.0L442.1 251.0L440.7 250.0L439.3 249.0L437.9 248.0L436.5 247.0L435.1 246.0L433.7 245.0L432.4 244.0L431.0 243.0L429.6 242.0L428.2 241.0L426.9 240.0L425.5 239.0L424.1 238.0L422.7 237.0L421.2 236.0L419.8 235.0L418.3 234.0L416.9 233.0L415.4 232.0L414.0 231.0L412.5 230.0L411.1 229.0L409.5 228.0L407.9 227.0L406.3 226.0L404.7 225.0L403.1 224.0L401.5 223.0L399.9 222.0L398.3 221.0L396.7 220.0L395.0 219.0L393.4 218.0L392.0 217.0L390.4 216.0L388.9 215.0L387.4 214.0L385.5 213.0L383.9 212.0L383.0 211.0L382.1 210.0L381.3 209.0L380.6 208.0L380.0 207.0L379.4 206.0L378.8 205.0L378.2 204.0L377.6 203.0L377.1 202.0L376.5 201.0L375.9 200.0L375.3 199.0L374.6 198.0L374.0 197.0L373.4 196.0L372.7 195.0L372.1 194.0L371.4 193.0L370.8 192.0L370.2 191.0L369.5 190.0L368.7 189.0L367.9 188.0L367.1 187.0L366.3 186.0L365.4 185.0L364.2 184.0L363.0 183.0L361.7 182.0L360.4 181.0L359.1 180.0L357.9 179.0L356.6 178.0L355.4 177.0L354.2 176.0L353.1 175.0L352.0 174.0L350.9 173.0L349.9 172.0L348.8 171.0L347.8 170.0L346.8 169.0L345.8 168.0L344.6 167.0L343.3 166.0L342.1 165.0L340.8 164.0L339.6 163.0L338.4 162.0L337.1 161.0L335.9 160.0L334.7 159.0L333.4 158.0L332.2 157.0L330.9 156.0L329.7 155.0L328.5 154.0L327.2 153.0L326.0 152.0L325.3 151.0L324.7 150.0L324.4 149.0L324.0 148.0L323.5 147.0L323.0 146.0L322.6 145.0L322.1 144.0L321.6 143.0L321.1 142.0L320.6 141.0L320.1 140.0L319.2 139.0L318.2 138.0L317.2 137.0L316.1 136.0L315.1 135.0L314.0 134.0L313.0 133.0L311.9 132.0L310.9 131.0L309.9 130.0L308.8 129.0L307.7 128.0L306.7 127.0L305.6 126.0L304.5 125.0L303.4 124.0L302.2 123.0L301.0 122.0L299.9 121.0L298.7 120.0L297.5 119.0L296.3 118.0L295.1 117.0L293.9 116.0L292.7 115.0L291.5 114.0L290.3 113.0L289.1 112.0L287.9 111.0L286.8 110.0L285.6 109.0L284.5 108.0L283.3 107.0L282.2 106.0L281.1 105.0L279.8 104.0L278.6 103.0L277.4 102.0L276.2 101.0L274.9 100.0L273.7 99.0L272.5 98.0L271.2 97.0L270.0 96.0L268.6 95.0L267.2 94.0L265.8 93.0L264.5 92.0L263.1 91.0L261.6 90.0L259.9 89.0L258.2 88.0L256.6 87.0L254.9 86.0L253.2 85.0L251.6 84.0L249.9 83.0L248.2 82.0L246.6 81.0L244.8 80.0L243.1 79.0L241.4 78.0L239.5 77.0L237.6 76.0L235.8 75.0L233.9 74.0L232.0 73.0L230.1 72.0L227.8 71.0L225.4 70.0L223.1 69.0L220.8 68.0L218.5 67.0L216.2 66.0L214.1 65.0L212.0 64.0L209.9 63.0L207.7 62.0L205.5 61.0L203.3 60.0L201.1 59.0L198.9 58.0L196.7 57.0L194.5 56.0L192.4 55.0L190.2 54.0L188.1 53.0L186.2 52.0L184.3 51.0L182.5 50.0L180.6 49.0L178.5 48.0L176.5 47.0L174.5 46.0L172.6 45.0L170.6 44.0L168.6 43.0L166.7 42.0L164.7 41.0L162.8 40.0L160.9 39.0L159.1 38.0L157.2 37.0L155.1 36.0L153.0 35.0L151.0 34.0L149.1 33.0L147.2 32.0L145.3 31.0L143.2 30.0L140.7 29.0L139.1 28.0L139.0 27.0L138.9 26.0L138.8 25.0L138.7 24.0L138.6 23.0L138.5 22.0L138.4 21.0L138.3 20.0L138.2 19.0L138.1 18.0L138.0 17.0L137.9 16.0L137.8 15.0L137.7 14.0L137.6 13.0L137.5 12.0Z" fill="#000" fill-opacity="0.0833"/>
<path d="M113.7 12.0L115.0 13.0L116.3 14.0L117.6 15.0L119.0 16.0L120.4 17.0L121.8 18.0L123.2 19.0L124.6 20.0L125.9 21.0L127.5 22.0L129.2 23.0L130.9 24.0L132.5 25.0L134.2 26.0L136.0 27.0L137.5 28.0L138.4 29.0L139.2 30.0L139.5 31.0L139.9 32.0L140.4 33.0L140.8 34.0L141.3 35.0L141.7 36.0L142.2 37.0L142.6 38.0L143.1 39.0L143.5 40.0L144.1 41.0L144.7 42.0L145.4 43.0L146.1 44.0L146.8 45.0L147.5 46.0L148.2 47.0L148.9 48.0L149.6 49.0L150.4 50.0L151.1 51.0L151.8 52.0L152.6 53.0L153.6 54.0L154.8 55.0L155.9 56.0L157.0 57.0L158.2 58.0L159.3 59.0L160.4 60.0L161.6 61.0L162.8 62.0L164.0 63.0L165.2 64.0L166.4 65.0L167.6 66.0L169.3 67.0L170.9 68.0L172.5 69.0L174.1 70.0L175.7 71.0L177.4 72.0L179.0 73.0L180.7 74.0L182.3 75.0L184.0 76.0L185.6 77.0L187.2 78.0L188.7 79.0L190.3 80.0L191.9 81.0L193.5 82.0L195.2 83.0L196.8 84.0L198.4 85.0L200.0 86.0L201.7 87.0L203.3 88.0L204.9 89.0L206.5 90.0L208.1 91.0L209.7 92.0L211.2 93.0L212.8 94.0L214.4 95.0L215.9 96.0L217.5 97.0L219.0 98.0L220.7 99.0L222.3 100.0L223.9 101.0L225.6 102.0L227.2 103.0L228.8 104.0L230.4 105.0L232.1 106.0L233.7 107.0L235.3 108.0L236.9 109.0L238.5 110.0L240.0 111.0L241.6 112.0L243.2 113.0L244.8 114.0L246.4 115.0L248.1 116.0L249.9 117.0L251.6 118.0L253.4 119.0L255.1 120.0L256.7 121.0L258.4 122.0L260.2 123.0L262.1 124.0L264.0 125.0L265.9 126.0L267.8 127.0L269.7 128.0L271.6 129.0L273.5 130.0L275.4 131.0L277.3 132.0L279.2 133.0L281.1 134.0L283.2 135.0L285.2 136.0L287.2 137.0L289.2 138.0L291.3 139.0L293.3 140.0L294.7 141.0L296.1 142.0L297.6 143.0L299.2 144.0L301.0 145.0L302.9 146.0L304.7 147.0L306.6 148.0L308.5 149.0L311.3 150.0L313.2 151.0L313.8 152.0L315.0 153.0L316.3 154.0L317.5 155.0L318.8 156.0L320.0 157.0L321.3 158.0L322.5 159.0L323.8 160.0L325.0 161.0L326.3 162.0L327.5 163.0L328.8 164.0L330.0 165.0L331.2 166.0L332.5 167.0L333.7 168.0L335.5 169.0L337.2 170.0L339.0 171.0L340.8 172.0L342.6 173.0L344.2 174.0L345.8 175.0L347.4 176.0L348.3 177.0L349.2 178.0L350.1 179.0L350.9 180.0L351.8 181.0L352.7 182.0L353.5 183.0L354.3 184.0L355.0 185.0L355.7 186.0L356.3 187.0L356.9 188.0L357.5 189.0L358.1 190.0L358.7 191.0L359.4 192.0L360.1 193.0L360.8 194.0L361.4 195.0L362.1 196.0L362.6 197.0L363.2 198.0L363.8 199.0L364.5 200.0L365.2 201.0L365.9 202.0L366.6 203.0L367.3 204.0L368.0 205.0L368.6 206.0L369.3 207.0L370.0 208.0L370.6 209.0L371.3 210.0L371.8 211.0L372.1 212.0L372.4 213.0L372.7 214.0L373.0 215.0L373.4 216.0L373.6 217.0L373.9 218.0L374.3 219.0L374.8 220.0L375.3 221.0L375.9 222.0L376.4 223.0L376.9 224.0L377.4 225.0L378.0 226.0L378.5 227.0L379.1 228.0L379.7 229.0L380.3 230.0L380.9 231.0L381.5 232.0L382.1 233.0L382.7 234.0L383.3 235.0L383.9 236.0L384.4 237.0L385.0 238.0L385.6 239.0L386.2 240.0L386.8 241.0L387.3 242.0L387.9 243.0L388.5 244.0L389.1 245.0L389.8 246.0L390.4 247.0L391.0 248.0L391.7 249.0L392.3 250.0L392.9 251.0L393.6 252.0L394.2 253.0L394.8 254.0L395.5 255.0L396.1 256.0L396.7 257.0L397.4 258.0L398.0 259.0L398.6 260.0L399.3 261.0L399.9 262.0L400.5 263.0L401.3 264.0L402.0 265.0L402.7 266.0L403.5 267.0L404.2 268.0L405.0 269.0L405.7 270.0L406.4 271.0L407.2 272.0L407.9 273.0L408.6 274.0L409.4 275.0L410.1 276.0L410.8 277.0L411.7 278.0L412.7 279.0L413.7 280.0L414.7 281.0L415.7 282.0L416.7 283.0L417.7 284.0L418.7 285.0L419.7 286.0L420.7 287.0L421.7 288.0L422.7 289.0L423.7 290.0L424.8 291.0L425.8 292.0L426.9 293.0L427.9 294.0L428.9 295.0L430.0 296.0L431.0 297.0L432.1 298.0L433.1 299.0L434.1 300.0L435.2 301.0L436.2 302.0L437.3 303.0L438.3 304.0L439.3 305.0L440.4 306.0L441.4 307.0L442.4 308.0L443.5 309.0L444.5 310.0L445.6 311.0L446.6 312.0L447.6 313.0L448.7 314.0L449.6 315.0L450.6 316.0L451.5 317.0L452.5 318.0L453.5 319.0L454.4 320.0L455.4 321.0L456.3 322.0L457.3 323.0L458.3 324.0L459.0 325.0L459.8 326.0L460.5 327.0L461.3 328.0L462.0 329.0L462.8 330.0L463.5 331.0L464.3 332.0L465.0 333.0L465.8 334.0L466.5 335.0L467.3 336.0L468.0 337.0L468.8 338.0L469.5 339.0L470.3 340.0L556.4 340.0L555.2 339.0L554.0 338.0L552.8 337.0L551.6 336.0L550.4 335.0L549.1 334.0L547.8 333.0L546.5 332.0L545.3 331.0L544.0 330.0L542.7 329.0L541.5 328.0L540.2 327.0L538.9 326.0L537.7 325.0L536.4 324.0L535.0 323.0L533.7 322.0L532.3 321.0L531.0 320.0L529.6 319.0L528.3 318.0L526.9 317.0L525.6 316.0L524.3 315.0L523.0 314.0L521.6 313.0L520.3 312.0L518.9 311.0L517.6 310.0L516.3 309.0L514.9 308.0L513.6 307.0L512.3 306.0L510.9 305.0L509.6 304.0L508.3 303.0L507.0 302.0L505.6 301.0L504.3 300.0L503.0 299.0L501.6 298.0L500.3 297.0L499.0 296.0L497.7 295.0L496.3 294.0L495.0 293.0L493.7 292.0L492.4 291.0L491.0 290.0L489.7 289.0L488.3 288.0L487.0 287.0L485.6 286.0L484.3 285.0L483.0 284.0L481.6 283.0L480.3 282.0L478.9 281.0L477.6 280.0L476.3 279.0L475.0 278.0L473.6 277.0L472.3 276.0L471.0 275.0L469.7 274.0L468.4 273.0L467.1 272.0L465.8 271.0L464.5 270.0L463.2 269.0L461.9 268.0L460.6 267.0L459.3 266.0L458.0 265.0L456.7 264.0L455.4 263.0L454.1 262.0L452.8 261.0L451.5 260.0L450.1 259.0L448.8 258.0L447.4 257.0L446.0 256.0L444.7 255.0L443.3 254.0L441.9 253.0L440.6 252.0L439.2 251.0L437.8 250.0L436.5 249.0L435.1 248.0L433.7 247.0L432.4 246.0L431.0 245.0L429.7 244.0L428.3 243.0L427.0 242.0L425.7 241.0L424.4 240.0L423.0 239.0L421.7 238.0L420.3 237.0L418.9 236.0L417.5 235.0L416.1 234.0L414.7 233.0L413.3 232.0L411.9 231.0L410.5 230.0L409.0 229.0L407.5 228.0L406.0 227.0L404.4 226.0L402.9 225.0L401.3 224.0L399.8 223.0L398.3 222.0L396.7 221.0L395.2 220.0L393.6 219.0L392.1 218.0L390.7 217.0L389.4 216.0L388.0 215.0L386.6 214.0L384.9 213.0L383.4 212.0L382.6 211.0L381.8 210.0L381.0 209.0L380.3 208.0L379.7 207.0L379.1 206.0L378.5 205.0L377.9 204.0L377.3 203.0L376.8 202.0L376.2 201.0L375.6 200.0L375.0 199.0L374.4 198.0L373.8 197.0L373.1 196.0L372.5 195.0L371.8 194.0L371.2 193.0L370.5 192.0L369.9 191.0L369.2 190.0L368.4 189.0L367.6 188.0L366.9 187.0L366.1 186.0L365.2 185.0L364.0 184.0L362.8 183.0L361.5 182.0L360.3 181.0L359.0 180.0L357.7 179.0L356.5 178.0L355.2 177.0L354.0 176.0L352.9 175.0L351.8 174.0L350.8 173.0L349.7 172.0L348.6 171.0L347.6 170.0L346.6 169.0L345.6 168.0L344.3 167.0L343.1 166.0L341.9 165.0L340.6 164.0L339.4 163.0L338.1 162.0L336.9 161.0L335.7 160.0L334.4 159.0L333.2 158.0L332.0 157.0L330.7 156.0L329.5 155.0L328.2 154.0L327.0 153.0L325.8 152.0L325.0 151.0L324.5 150.0L324.1 149.0L323.7 148.0L323.2 147.0L322.8 146.0L322.3 145.0L321.8 144.0L321.3 143.0L320.8 142.0L320.3 141.0L319.9 140.0L318.9 139.0L317.9 138.0L316.8 137.0L315.7 136.0L314.6 135.0L313.6 134.0L312.5 133.0L311.4 132.0L310.4 131.0L309.3 130.0L308.2 129.0L307.1 128.0L306.0 127.0L304.9 126.0L303.8 125.0L302.7 124.0L301.5 123.0L300.3 122.0L299.1 121.0L297.9 120.0L296.7 119.0L295.5 118.0L294.3 117.0L293.1 116.0L291.9 115.0L290.7 114.0L289.5 113.0L288.3 112.0L287.1 111.0L285.9 110.0L284.7 109.0L283.6 108.0L282.4 107.0L281.2 106.0L280.1 105.0L278.8 104.0L277.6 103.0L276.3 102.0L275.0 101.0L273.8 100.0L272.5 99.0L271.3 98.0L270.0 97.0L268.7 96.0L267.4 95.0L265.9 94.0L264.5 93.0L263.1 92.0L261.7 91.0L260.2 90.0L258.5 89.0L256.8 88.0L255.1 87.0L253.4 86.0L251.7 85.0L249.9 84.0L248.2 83.0L246.5 82.0L244.8 81.0L243.0 80.0L241.3 79.0L239.5 78.0L237.6 77.0L235.7 76.0L233.7 75.0L231.8 74.0L229.9 73.0L227.9 72.0L225.6 71.0L223.2 70.0L220.9 69.0L218.6 68.0L216.3 67.0L214.0 66.0L211.9 65.0L209.8 64.0L207.7 63.0L205.5 62.0L203.3 61.0L201.2 60.0L199.0 59.0L196.9 58.0L194.7 57.0L192.6 56.0L190.4 55.0L188.3 54.0L186.2 53.0L184.4 52.0L182.5 51.0L180.7 50.0L178.9 49.0L176.8 48.0L174.9 47.0L173.0 46.0L171.1 45.0L169.2 44.0L167.3 43.0L165.4 42.0L163.5 41.0L161.6 40.0L159.8 39.0L158.1 38.0L156.2 37.0L154.3 36.0L152.3 35.0L150.4 34.0L148.5 33.0L146.7 32.0L144.9 31.0L142.9 30.0L140.6 29.0L139.1 28.0L139.0 27.0L138.9 26.0L138.8 25.0L138.6 24.0L138.5 23.0L138.4 22.0L138.3 21.0L138.2 20.0L138.1 19.0L138.0 18.0L137.9 17.0L137.8 16.0L137.7 15.0L137.6 14.0L137.5 13.0L137.4 12.0Z" fill="#000" fill-opacity="0.0909"/>
<path d="M115.1 12.0L116.3 13.0L117.6 14.0L118.8 15.0L120.2 16.0L121.5 17.0L122.8 18.0L124.2 19.0L125.5 20.0L126.7 21.0L128.2 22.0L129.8 23.0L131.4 24.0L132.9 25.0L134.4 26.0L136.1 27.0L137.5 28.0L138.5 29.0L139.2 30.0L139.5 31.0L140.0 32.0L140.4 33.0L140.9 34.0L141.4 35.0L141.8 36.0L142.3 37.0L142.8 38.0L143.2 39.0L143.7 40.0L144.3 41.0L145.0 42.0L145.7 43.0L146.4 44.0L147.1 45.0L147.8 46.0L148.6 47.0L149.3 48.0L150.0 49.0L150.7 50.0L151.4 51.0L152.2 52.0L153.0 53.0L154.0 54.0L155.2 55.0L156.3 56.0L157.5 57.0L158.7 58.0L159.8 59.0L161.0 60.0L162.2 61.0L163.4 62.0L164.6 63.0L165.8 64.0L167.1 65.0L168.3 66.0L170.0 67.0L171.6 68.0L173.3 69.0L175.0 70.0L176.7 71.0L178.3 72.0L180.0 73.0L181.7 74.0L183.4 75.0L185.1 76.0L186.8 77.0L188.4 78.0L190.0 79.0L191.6 80.0L193.2 81.0L194.8 82.0L196.5 83.0L198.1 84.0L199.7 85.0L201.4 86.0L203.0 87.0L204.6 88.0L206.3 89.0L207.9 90.0L209.5 91.0L211.1 92.0L212.6 93.0L214.2 94.0L215.8 95.0L217.3 96.0L218.9 97.0L220.5 98.0L222.1 99.0L223.7 100.0L225.3 101.0L227.0 102.0L228.6 103.0L230.2 104.0L231.9 105.0L233.5 106.0L235.1 107.0L236.7 108.0L238.3 109.0L239.9 110.0L241.4 111.0L243.0 112.0L244.6 113.0L246.2 114.0L247.8 115.0L249.5 116.0L251.2 117.0L252.9 118.0L254.7 119.0L256.4 120.0L258.0 121.0L259.7 122.0L261.5 123.0L263.4 124.0L265.3 125.0L267.2 126.0L269.1 127.0L271.0 128.0L272.9 129.0L274.8 130.0L276.7 131.0L278.6 132.0L280.5 133.0L282.4 134.0L284.4 135.0L286.4 136.0L288.4 137.0L290.4 138.0L292.4 139.0L294.4 140.0L295.9 141.0L297.3 142.0L298.7 143.0L300.3 144.0L302.0 145.0L303.8 146.0L305.5 147.0L307.3 148.0L309.2 149.0L311.7 150.0L313.5 151.0L314.0 152.0L315.2 153.0L316.5 154.0L317.7 155.0L319.0 156.0L320.2 157.0L321.5 158.0L322.7 159.0L324.0 160.0L325.2 161.0L326.5 162.0L327.7 163.0L328.9 164.0L330.2 165.0L331.4 166.0L332.7 167.0L333.9 168.0L335.7 169.0L337.4 170.0L339.2 171.0L341.1 172.0L342.8 173.0L344.5 174.0L346.1 175.0L347.7 176.0L348.7 177.0L349.6 178.0L350.5 179.0L351.4 180.0L352.2 181.0L353.1 182.0L354.0 183.0L354.8 184.0L355.5 185.0L356.2 186.0L356.8 187.0L357.4 188.0L358.1 189.0L358.7 190.0L359.3 191.0L360.0 192.0L360.7 193.0L361.4 194.0L362.0 195.0L362.7 196.0L363.3 197.0L363.8 198.0L364.4 199.0L365.1 200.0L365.8 201.0L366.5 202.0L367.2 203.0L367.8 204.0L368.5 205.0L369.1 206.0L369.7 207.0L370.4 208.0L371.0 209.0L371.6 210.0L372.1 211.0L372.4 212.0L372.7 213.0L373.0 214.0L373.3 215.0L373.6 216.0L373.9 217.0L374.2 218.0L374.6 219.0L375.1 220.0L375.6 221.0L376.2 222.0L376.7 223.0L377.3 224.0L377.8 225.0L378.4 226.0L378.9 227.0L379.6 228.0L380.2 229.0L380.8 230.0L381.4 231.0L382.0 232.0L382.5 233.0L383.1 234.0L383.7 235.0L384.3 236.0L384.9 237.0L385.5 238.0L386.1 239.0L386.7 240.0L387.3 241.0L387.9 242.0L388.4 243.0L389.0 244.0L389.7 245.0L390.3 246.0L391.0 247.0L391.6 248.0L392.2 249.0L392.9 250.0L393.5 251.0L394.2 252.0L394.8 253.0L395.5 254.0L396.1 255.0L396.8 256.0L397.4 257.0L398.1 258.0L398.7 259.0L399.4 260.0L400.0 261.0L400.7 262.0L401.3 263.0L402.1 264.0L402.8 265.0L403.5 266.0L404.3 267.0L405.0 268.0L405.7 269.0L406.4 270.0L407.2 271.0L407.9 272.0L408.6 273.0L409.4 274.0L410.1 275.0L410.8 276.0L411.6 277.0L412.5 278.0L413.5 279.0L414.6 280.0L415.6 281.0L416.6 282.0L417.7 283.0L418.7 284.0L419.7 285.0L420.8 286.0L421.8 287.0L422.8 288.0L423.9 289.0L424.9 290.0L426.0 291.0L427.0 292.0L428.1 293.0L429.2 294.0L430.2 295.0L431.3 296.0L432.4 297.0L433.4 298.0L434.5 299.0L435.6 300.0L436.6 301.0L437.7 302.0L438.8 303.0L439.8 304.0L440.9 305.0L442.0 306.0L443.0 307.0L444.1 308.0L445.2 309.0L446.2 310.0L447.3 311.0L448.3 312.0L449.4 313.0L450.5 314.0L451.4 315.0L452.4 316.0L453.4 317.0L454.4 318.0L455.3 319.0L456.3 320.0L457.3 321.0L458.3 322.0L459.2 323.0L460.2 324.0L461.0 325.0L461.8 326.0L462.5 327.0L463.3 328.0L464.1 329.0L464.8 330.0L465.6 331.0L466.4 332.0L467.1 333.0L467.9 334.0L468.7 335.0L469.4 336.0L470.2 337.0L471.0 338.0L471.8 339.0L472.5 340.0L551.5 340.0L550.3 339.0L549.1 338.0L547.9 337.0L546.8 336.0L545.5 335.0L544.3 334.0L543.0 333.0L541.8 332.0L540.5 331.0L539.3 330.0L538.0 329.0L536.8 328.0L535.5 327.0L534.3 326.0L533.0 325.0L531.8 324.0L530.5 323.0L529.1 322.0L527.8 321.0L526.5 320.0L525.1 319.0L523.8 318.0L522.5 317.0L521.2 316.0L519.9 315.0L518.6 314.0L517.3 313.0L516.0 312.0L514.7 311.0L513.3 310.0L512.0 309.0L510.7 308.0L509.4 307.0L508.1 306.0L506.8 305.0L505.5 304.0L504.2 303.0L502.9 302.0L501.5 301.0L500.2 300.0L498.9 299.0L497.6 298.0L496.3 297.0L495.0 296.0L493.7 295.0L492.4 294.0L491.1 293.0L489.8 292.0L488.5 291.0L487.2 290.0L485.8 289.0L484.5 288.0L483.2 287.0L481.9 286.0L480.6 285.0L479.2 284.0L477.9 283.0L476.6 282.0L475.3 281.0L474.0 280.0L472.7 279.0L471.4 278.0L470.1 277.0L468.8 276.0L467.5 275.0L466.2 274.0L465.0 273.0L463.7 272.0L462.4 271.0L461.1 270.0L459.8 269.0L458.6 268.0L457.3 267.0L456.0 266.0L454.8 265.0L453.5 264.0L452.2 263.0L450.9 262.0L449.7 261.0L448.3 260.0L447.0 259.0L445.7 258.0L444.3 257.0L443.0 256.0L441.7 255.0L440.3 254.0L439.0 253.0L437.7 252.0L436.4 251.0L435.0 250.0L433.7 249.0L432.4 248.0L431.0 247.0L429.7 246.0L428.4 245.0L427.1 244.0L425.8 243.0L424.5 242.0L423.2 241.0L421.9 240.0L420.6 239.0L419.3 238.0L417.9 237.0L416.6 236.0L415.2 235.0L413.9 234.0L412.5 233.0L411.2 232.0L409.8 231.0L408.4 230.0L407.1 229.0L405.6 228.0L404.1 227.0L402.6 226.0L401.1 225.0L399.7 224.0L398.2 223.0L396.7 222.0L395.2 221.0L393.7 220.0L392.2 219.0L390.8 218.0L389.6 217.0L388.3 216.0L387.1 215.0L385.8 214.0L384.3 213.0L383.0 212.0L382.2 211.0L381.4 210.0L380.6 209.0L380.0 208.0L379.4 207.0L378.8 206.0L378.2 205.0L377.6 204.0L377.1 203.0L376.5 202.0L375.9 201.0L375.3 200.0L374.7 199.0L374.1 198.0L373.5 197.0L372.9 196.0L372.2 195.0L371.6 194.0L370.9 193.0L370.3 192.0L369.6 191.0L368.9 190.0L368.2 189.0L367.4 188.0L366.7 187.0L365.9 186.0L365.0 185.0L363.8 184.0L362.6 183.0L361.3 182.0L360.1 181.0L358.8 180.0L357.5 179.0L356.3 178.0L355.1 177.0L353.8 176.0L352.7 175.0L351.7 174.0L350.6 173.0L349.5 172.0L348.4 171.0L347.4 170.0L346.4 169.0L345.3 168.0L344.1 167.0L342.9 166.0L341.6 165.0L340.4 164.0L339.2 163.0L337.9 162.0L336.7 161.0L335.5 160.0L334.2 159.0L333.0 158.0L331.7 157.0L330.5 156.0L329.3 155.0L328.0 154.0L326.8 153.0L325.6 152.0L324.8 151.0L324.2 150.0L323.8 149.0L323.4 148.0L322.9 147.0L322.5 146.0L322.0 145.0L321.5 144.0L321.0 143.0L320.6 142.0L320.1 141.0L319.6 140.0L318.6 139.0L317.6 138.0L316.4 137.0L315.3 136.0L314.2 135.0L313.1 134.0L312.0 133.0L310.9 132.0L309.9 131.0L308.8 130.0L307.6 129.0L306.5 128.0L305.4 127.0L304.3 126.0L303.1 125.0L302.0 124.0L300.8 123.0L299.6 122.0L298.4 121.0L297.2 120.0L295.9 119.0L294.7 118.0L293.5 117.0L292.3 116.0L291.1 115.0L289.9 114.0L288.6 113.0L287.4 112.0L286.2 111.0L285.0 110.0L283.8 109.0L282.7 108.0L281.5 107.0L280.3 106.0L279.1 105.0L277.8 104.0L276.5 103.0L275.2 102.0L273.9 101.0L272.6 100.0L271.4 99.0L270.1 98.0L268.8 97.0L267.5 96.0L266.1 95.0L264.7 94.0L263.3 93.0L261.9 92.0L260.4 91.0L258.9 90.0L257.2 89.0L255.4 88.0L253.6 87.0L251.9 86.0L250.1 85.0L248.4 84.0L246.6 83.0L244.8 82.0L243.1 81.0L241.3 80.0L239.5 79.0L237.7 78.0L235.7 77.0L233.7 76.0L231.7 75.0L229.8 74.0L227.8 73.0L225.7 72.0L223.4 71.0L221.1 70.0L218.8 69.0L216.5 68.0L214.2 67.0L211.8 66.0L209.7 65.0L207.7 64.0L205.6 63.0L203.4 62.0L201.3 61.0L199.2 60.0L197.0 59.0L194.9 58.0L192.8 57.0L190.7 56.0L188.6 55.0L186.5 54.0L184.4 53.0L182.6 52.0L180.8 51.0L179.0 50.0L177.2 49.0L175.3 48.0L173.4 47.0L171.6 46.0L169.7 45.0L167.9 44.0L166.0 43.0L164.2 42.0L162.3 41.0L160.5 40.0L158.8 39.0L157.1 38.0L155.3 37.0L153.4 36.0L151.6 35.0L149.7 34.0L148.0 33.0L146.2 32.0L144.5 31.0L142.6 30.0L140.4 29.0L139.1 28.0L139.0 27.0L138.8 26.0L138.7 25.0L138.6 24.0L138.5 23.0L138.4 22.0L138.3 21.0L138.1 20.0L138.0 19.0L137.9 18.0L137.8 17.0L137.7 16.0L137.7 15.0L137.5 14.0L137.4 13.0L137.3 12.0Z" fill="#000" fill-opacity="0.1000"/>
<path d="M116.5 12.0L117.7 13.0L118.9 14.0L120.1 15.0L121.4 16.0L122.6 17.0L123.9 18.0L125.2 19.0L126.4 20.0L127.6 21.0L129.0 22.0L130.5 23.0L131.9 24.0L133.3 25.0L134.7 26.0L136.3 27.0L137.6 28.0L138.5 29.0L139.2 30.0L139.5 31.0L140.0 32.0L140.5 33.0L141.0 34.0L141.5 35.0L141.9 36.0L142.4 37.0L142.9 38.0L143.4 39.0L143.9 40.0L144.5 41.0L145.2 42.0L145.9 43.0L146.7 44.0L147.4 45.0L148.1 46.0L148.9 47.0L149.6 48.0L150.3 49.0L151.1 50.0L151.8 51.0L152.5 52.0L153.3 53.0L154.4 54.0L155.6 55.0L156.8 56.0L158.0 57.0L159.2 58.0L160.4 59.0L161.6 60.0L162.8 61.0L164.0 62.0L165.2 63.0L166.5 64.0L167.7 65.0L169.0 66.0L170.7 67.0L172.4 68.0L174.1 69.0L175.8 70.0L177.5 71.0L179.3 72.0L181.0 73.0L182.7 74.0L184.5 75.0L186.2 76.0L187.9 77.0L189.6 78.0L191.2 79.0L192.8 80.0L194.4 81.0L196.1 82.0L197.7 83.0L199.4 84.0L201.0 85.0L202.7 86.0L204.3 87.0L205.9 88.0L207.6 89.0L209.2 90.0L210.8 91.0L212.4 92.0L214.0 93.0L215.6 94.0L217.1 95.0L218.7 96.0L220.3 97.0L221.9 98.0L223.5 99.0L225.1 100.0L226.7 101.0L228.3 102.0L229.9 103.0L231.6 104.0L233.2 105.0L234.8 106.0L236.4 107.0L238.0 108.0L239.6 109.0L241.2 110.0L242.8 111.0L244.4 112.0L245.9 113.0L247.5 114.0L249.1 115.0L250.8 116.0L252.5 117.0L254.2 118.0L255.9 119.0L257.6 120.0L259.2 121.0L260.9 122.0L262.7 123.0L264.6 124.0L266.5 125.0L268.4 126.0L270.3 127.0L272.2 128.0L274.1 129.0L276.0 130.0L277.9 131.0L279.8 132.0L281.7 133.0L283.7 134.0L285.6 135.0L287.6 136.0L289.6 137.0L291.6 138.0L293.6 139.0L295.5 140.0L296.9 141.0L298.3 142.0L299.7 143.0L301.3 144.0L303.0 145.0L304.6 146.0L306.3 147.0L308.0 148.0L309.8 149.0L312.1 150.0L313.7 151.0L314.2 152.0L315.5 153.0L316.7 154.0L317.9 155.0L319.2 156.0L320.4 157.0L321.7 158.0L322.9 159.0L324.2 160.0L325.4 161.0L326.6 162.0L327.9 163.0L329.1 164.0L330.4 165.0L331.6 166.0L332.9 167.0L334.1 168.0L335.9 169.0L337.6 170.0L339.4 171.0L341.3 172.0L343.1 173.0L344.7 174.0L346.4 175.0L348.1 176.0L349.0 177.0L349.9 178.0L350.8 179.0L351.8 180.0L352.7 181.0L353.5 182.0L354.4 183.0L355.3 184.0L356.0 185.0L356.7 186.0L357.3 187.0L358.0 188.0L358.6 189.0L359.2 190.0L359.9 191.0L360.6 192.0L361.3 193.0L361.9 194.0L362.6 195.0L363.2 196.0L363.8 197.0L364.4 198.0L365.0 199.0L365.7 200.0L366.4 201.0L367.1 202.0L367.7 203.0L368.3 204.0L369.0 205.0L369.6 206.0L370.2 207.0L370.8 208.0L371.4 209.0L372.0 210.0L372.4 211.0L372.7 212.0L373.0 213.0L373.3 214.0L373.6 215.0L373.9 216.0L374.1 217.0L374.4 218.0L374.8 219.0L375.4 220.0L375.9 221.0L376.5 222.0L377.1 223.0L377.6 224.0L378.2 225.0L378.8 226.0L379.4 227.0L380.0 228.0L380.6 229.0L381.2 230.0L381.8 231.0L382.4 232.0L383.0 233.0L383.6 234.0L384.2 235.0L384.8 236.0L385.4 237.0L386.0 238.0L386.6 239.0L387.2 240.0L387.8 241.0L388.4 242.0L388.9 243.0L389.5 244.0L390.2 245.0L390.9 246.0L391.5 247.0L392.2 248.0L392.8 249.0L393.5 250.0L394.2 251.0L394.8 252.0L395.5 253.0L396.1 254.0L396.8 255.0L397.5 256.0L398.1 257.0L398.8 258.0L399.5 259.0L400.1 260.0L400.8 261.0L401.4 262.0L402.1 263.0L402.8 264.0L403.6 265.0L404.3 266.0L405.0 267.0L405.8 268.0L406.5 269.0L407.2 270.0L407.9 271.0L408.7 272.0L409.4 273.0L410.1 274.0L410.9 275.0L411.6 276.0L412.3 277.0L413.3 278.0L414.3 279.0L415.4 280.0L416.5 281.0L417.5 282.0L418.6 283.0L419.7 284.0L420.7 285.0L421.8 286.0L422.9 287.0L423.9 288.0L425.0 289.0L426.1 290.0L427.2 291.0L428.2 292.0L429.3 293.0L430.4 294.0L431.5 295.0L432.6 296.0L433.7 297.0L434.8 298.0L435.9 299.0L437.0 300.0L438.1 301.0L439.2 302.0L440.3 303.0L441.4 304.0L442.4 305.0L443.5 306.0L444.6 307.0L445.7 308.0L446.8 309.0L447.9 310.0L449.0 311.0L450.1 312.0L451.2 313.0L452.2 314.0L453.2 315.0L454.2 316.0L455.2 317.0L456.2 318.0L457.2 319.0L458.2 320.0L459.2 321.0L460.2 322.0L461.2 323.0L462.2 324.0L463.0 325.0L463.8 326.0L464.5 327.0L465.3 328.0L466.1 329.0L466.9 330.0L467.7 331.0L468.5 332.0L469.3 333.0L470.1 334.0L470.8 335.0L471.6 336.0L472.4 337.0L473.2 338.0L474.0 339.0L474.8 340.0L546.6 340.0L545.5 339.0L544.3 338.0L543.1 337.0L542.0 336.0L540.8 335.0L539.5 334.0L538.3 333.0L537.1 332.0L535.8 331.0L534.6 330.0L533.4 329.0L532.1 328.0L530.9 327.0L529.7 326.0L528.4 325.0L527.2 324.0L525.9 323.0L524.6 322.0L523.3 321.0L522.0 320.0L520.7 319.0L519.4 318.0L518.1 317.0L516.8 316.0L515.6 315.0L514.3 314.0L513.0 313.0L511.7 312.0L510.4 311.0L509.1 310.0L507.8 309.0L506.5 308.0L505.2 307.0L504.0 306.0L502.7 305.0L501.4 304.0L500.1 303.0L498.8 302.0L497.5 301.0L496.2 300.0L494.9 299.0L493.7 298.0L492.4 297.0L491.1 296.0L489.8 295.0L488.5 294.0L487.2 293.0L486.0 292.0L484.7 291.0L483.4 290.0L482.1 289.0L480.8 288.0L479.5 287.0L478.2 286.0L476.9 285.0L475.6 284.0L474.3 283.0L473.0 282.0L471.7 281.0L470.4 280.0L469.1 279.0L467.8 278.0L466.6 277.0L465.3 276.0L464.1 275.0L462.8 274.0L461.6 273.0L460.3 272.0L459.1 271.0L457.8 270.0L456.5 269.0L455.3 268.0L454.0 267.0L452.8 266.0L451.5 265.0L450.3 264.0L449.0 263.0L447.8 262.0L446.5 261.0L445.3 260.0L444.0 259.0L442.7 258.0L441.4 257.0L440.1 256.0L438.8 255.0L437.5 254.0L436.2 253.0L434.9 252.0L433.6 251.0L432.3 250.0L431.0 249.0L429.7 248.0L428.4 247.0L427.1 246.0L425.8 245.0L424.5 244.0L423.3 243.0L422.0 242.0L420.8 241.0L419.5 240.0L418.2 239.0L417.0 238.0L415.6 237.0L414.3 236.0L413.0 235.0L411.7 234.0L410.4 233.0L409.1 232.0L407.8 231.0L406.5 230.0L405.1 229.0L403.7 228.0L402.3 227.0L400.9 226.0L399.4 225.0L398.0 224.0L396.6 223.0L395.2 222.0L393.8 221.0L392.3 220.0L390.9 219.0L389.5 218.0L388.4 217.0L387.3 216.0L386.2 215.0L385.1 214.0L383.7 213.0L382.5 212.0L381.8 211.0L381.0 210.0L380.3 209.0L379.7 208.0L379.1 207.0L378.5 206.0L377.9 205.0L377.3 204.0L376.8 203.0L376.2 202.0L375.6 201.0L375.1 200.0L374.5 199.0L373.9 198.0L373.3 197.0L372.6 196.0L372.0 195.0L371.3 194.0L370.7 193.0L370.0 192.0L369.4 191.0L368.7 190.0L367.9 189.0L367.2 188.0L366.5 187.0L365.7 186.0L364.8 185.0L363.6 184.0L362.4 183.0L361.2 182.0L359.9 181.0L358.6 180.0L357.4 179.0L356.1 178.0L354.9 177.0L353.7 176.0L352.6 175.0L351.5 174.0L350.4 173.0L349.3 172.0L348.3 171.0L347.2 170.0L346.2 169.0L345.1 168.0L343.9 167.0L342.7 166.0L341.4 165.0L340.2 164.0L339.0 163.0L337.7 162.0L336.5 161.0L335.3 160.0L334.0 159.0L332.8 158.0L331.5 157.0L330.3 156.0L329.1 155.0L327.8 154.0L326.6 153.0L325.4 152.0L324.6 151.0L324.0 150.0L323.6 149.0L323.1 148.0L322.7 147.0L322.2 146.0L321.7 145.0L321.3 144.0L320.8 143.0L320.3 142.0L319.8 141.0L319.4 140.0L318.3 139.0L317.2 138.0L316.1 137.0L315.0 136.0L313.8 135.0L312.7 134.0L311.6 133.0L310.4 132.0L309.3 131.0L308.2 130.0L307.1 129.0L305.9 128.0L304.8 127.0L303.6 126.0L302.5 125.0L301.3 124.0L300.1 123.0L298.9 122.0L297.7 121.0L296.4 120.0L295.2 119.0L294.0 118.0L292.7 117.0L291.5 116.0L290.3 115.0L289.1 114.0L287.8 113.0L286.6 112.0L285.4 111.0L284.1 110.0L282.9 109.0L281.8 108.0L280.6 107.0L279.4 106.0L278.2 105.0L276.8 104.0L275.5 103.0L274.2 102.0L272.9 101.0L271.5 100.0L270.2 99.0L268.9 98.0L267.6 97.0L266.2 96.0L264.8 95.0L263.4 94.0L262.0 93.0L260.6 92.0L259.2 91.0L257.6 90.0L255.8 89.0L254.0 88.0L252.2 87.0L250.4 86.0L248.6 85.0L246.8 84.0L245.0 83.0L243.2 82.0L241.4 81.0L239.5 80.0L237.7 79.0L235.9 78.0L233.9 77.0L231.8 76.0L229.8 75.0L227.7 74.0L225.7 73.0L223.6 72.0L221.3 71.0L219.0 70.0L216.7 69.0L214.4 68.0L212.0 67.0L209.7 66.0L207.6 65.0L205.6 64.0L203.5 63.0L201.4 62.0L199.3 61.0L197.2 60.0L195.1 59.0L193.0 58.0L190.9 57.0L188.8 56.0L186.8 55.0L184.7 54.0L182.7 53.0L180.9 52.0L179.2 51.0L177.4 50.0L175.7 49.0L173.8 48.0L172.0 47.0L170.2 46.0L168.4 45.0L166.6 44.0L164.8 43.0L163.0 42.0L161.2 41.0L159.4 40.0L157.8 39.0L156.1 38.0L154.4 37.0L152.7 36.0L150.9 35.0L149.2 34.0L147.5 33.0L145.8 32.0L144.1 31.0L142.3 30.0L140.3 29.0L139.1 28.0L138.9 27.0L138.8 26.0L138.7 25.0L138.6 24.0L138.4 23.0L138.3 22.0L138.2 21.0L138.1 20.0L138.0 19.0L137.9 18.0L137.8 17.0L137.7 16.0L137.6 15.0L137.4 14.0L137.3 13.0L137.2 12.0Z" fill="#000" fill-opacity="0.1111"/>
<path d="M118.1 12.0L119.2 13.0L120.3 14.0L121.5 15.0L122.7 16.0L123.9 17.0L125.0 18.0L126.2 19.0L127.4 20.0L128.5 21.0L129.8 22.0L131.1 23.0L132.5 24.0L133.8 25.0L135.0 26.0L136.4 27.0L137.7 28.0L138.5 29.0L139.2 30.0L139.6 31.0L140.1 32.0L140.6 33.0L141.1 34.0L141.6 35.0L142.1 36.0L142.6 37.0L143.1 38.0L143.6 39.0L144.1 40.0L144.7 41.0L145.4 42.0L146.2 43.0L146.9 44.0L147.7 45.0L148.4 46.0L149.2 47.0L149.9 48.0L150.6 49.0L151.4 50.0L152.1 51.0L152.9 52.0L153.7 53.0L154.8 54.0L156.0 55.0L157.2 56.0L158.4 57.0L159.6 58.0L160.9 59.0L162.1 60.0L163.3 61.0L164.6 62.0L165.8 63.0L167.1 64.0L168.3 65.0L169.6 66.0L171.4 67.0L173.1 68.0L174.9 69.0L176.6 70.0L178.4 71.0L180.2 72.0L181.9 73.0L183.7 74.0L185.5 75.0L187.2 76.0L189.0 77.0L190.7 78.0L192.3 79.0L194.0 80.0L195.6 81.0L197.3 82.0L198.9 83.0L200.6 84.0L202.2 85.0L203.9 86.0L205.5 87.0L207.2 88.0L208.8 89.0L210.5 90.0L212.1 91.0L213.7 92.0L215.3 93.0L216.8 94.0L218.4 95.0L220.0 96.0L221.6 97.0L223.2 98.0L224.8 99.0L226.4 100.0L228.0 101.0L229.6 102.0L231.2 103.0L232.8 104.0L234.4 105.0L236.1 106.0L237.7 107.0L239.3 108.0L240.9 109.0L242.4 110.0L244.0 111.0L245.6 112.0L247.2 113.0L248.8 114.0L250.4 115.0L252.0 116.0L253.7 117.0L255.4 118.0L257.1 119.0L258.7 120.0L260.3 121.0L262.0 122.0L263.9 123.0L265.8 124.0L267.7 125.0L269.6 126.0L271.5 127.0L273.4 128.0L275.3 129.0L277.2 130.0L279.1 131.0L281.0 132.0L282.9 133.0L284.8 134.0L286.8 135.0L288.7 136.0L290.7 137.0L292.7 138.0L294.6 139.0L296.6 140.0L298.0 141.0L299.4 142.0L300.8 143.0L302.3 144.0L303.9 145.0L305.4 146.0L307.1 147.0L308.7 148.0L310.3 149.0L312.4 150.0L313.9 151.0L314.4 152.0L315.7 153.0L316.9 154.0L318.2 155.0L319.4 156.0L320.6 157.0L321.9 158.0L323.1 159.0L324.4 160.0L325.6 161.0L326.8 162.0L328.1 163.0L329.3 164.0L330.6 165.0L331.8 166.0L333.0 167.0L334.3 168.0L336.0 169.0L337.8 170.0L339.6 171.0L341.5 172.0L343.3 173.0L345.0 174.0L346.7 175.0L348.4 176.0L349.4 177.0L350.3 178.0L351.2 179.0L352.1 180.0L353.1 181.0L354.0 182.0L354.8 183.0L355.7 184.0L356.5 185.0L357.1 186.0L357.8 187.0L358.5 188.0L359.1 189.0L359.8 190.0L360.4 191.0L361.1 192.0L361.8 193.0L362.5 194.0L363.2 195.0L363.8 196.0L364.4 197.0L365.0 198.0L365.6 199.0L366.3 200.0L366.9 201.0L367.6 202.0L368.3 203.0L368.9 204.0L369.4 205.0L370.0 206.0L370.6 207.0L371.2 208.0L371.7 209.0L372.3 210.0L372.7 211.0L373.0 212.0L373.3 213.0L373.5 214.0L373.8 215.0L374.1 216.0L374.4 217.0L374.6 218.0L375.1 219.0L375.7 220.0L376.2 221.0L376.8 222.0L377.4 223.0L378.0 224.0L378.6 225.0L379.2 226.0L379.8 227.0L380.4 228.0L381.0 229.0L381.6 230.0L382.2 231.0L382.8 232.0L383.4 233.0L384.0 234.0L384.6 235.0L385.2 236.0L385.9 237.0L386.5 238.0L387.1 239.0L387.7 240.0L388.3 241.0L388.9 242.0L389.5 243.0L390.1 244.0L390.7 245.0L391.4 246.0L392.1 247.0L392.7 248.0L393.4 249.0L394.1 250.0L394.8 251.0L395.4 252.0L396.1 253.0L396.8 254.0L397.5 255.0L398.1 256.0L398.8 257.0L399.5 258.0L400.2 259.0L400.8 260.0L401.5 261.0L402.2 262.0L402.9 263.0L403.6 264.0L404.3 265.0L405.1 266.0L405.8 267.0L406.5 268.0L407.2 269.0L408.0 270.0L408.7 271.0L409.4 272.0L410.2 273.0L410.9 274.0L411.6 275.0L412.4 276.0L413.1 277.0L414.0 278.0L415.1 279.0L416.2 280.0L417.3 281.0L418.4 282.0L419.5 283.0L420.6 284.0L421.7 285.0L422.8 286.0L423.9 287.0L425.0 288.0L426.1 289.0L427.2 290.0L428.3 291.0L429.5 292.0L430.6 293.0L431.7 294.0L432.8 295.0L433.9 296.0L435.1 297.0L436.2 298.0L437.3 299.0L438.4 300.0L439.5 301.0L440.6 302.0L441.8 303.0L442.9 304.0L444.0 305.0L445.1 306.0L446.2 307.0L447.4 308.0L448.5 309.0L449.6 310.0L450.7 311.0L451.8 312.0L453.0 313.0L454.0 314.0L455.0 315.0L456.1 316.0L457.1 317.0L458.1 318.0L459.1 319.0L460.1 320.0L461.1 321.0L462.1 322.0L463.1 323.0L464.1 324.0L464.9 325.0L465.8 326.0L466.6 327.0L467.4 328.0L468.2 329.0L469.0 330.0L469.8 331.0L470.6 332.0L471.4 333.0L472.2 334.0L473.0 335.0L473.8 336.0L474.6 337.0L475.4 338.0L476.2 339.0L477.0 340.0L541.8 340.0L540.7 339.0L539.5 338.0L538.3 337.0L537.2 336.0L536.0 335.0L534.8 334.0L533.6 333.0L532.3 332.0L531.1 331.0L529.9 330.0L528.7 329.0L527.5 328.0L526.3 327.0L525.1 326.0L523.9 325.0L522.7 324.0L521.4 323.0L520.1 322.0L518.9 321.0L517.6 320.0L516.3 319.0L515.0 318.0L513.8 317.0L512.5 316.0L511.3 315.0L510.0 314.0L508.7 313.0L507.5 312.0L506.2 311.0L504.9 310.0L503.7 309.0L502.4 308.0L501.1 307.0L499.9 306.0L498.6 305.0L497.3 304.0L496.1 303.0L494.8 302.0L493.5 301.0L492.3 300.0L491.0 299.0L489.7 298.0L488.5 297.0L487.2 296.0L486.0 295.0L484.7 294.0L483.4 293.0L482.2 292.0L480.9 291.0L479.6 290.0L478.4 289.0L477.1 288.0L475.8 287.0L474.5 286.0L473.3 285.0L472.0 284.0L470.7 283.0L469.5 282.0L468.2 281.0L466.9 280.0L465.7 279.0L464.4 278.0L463.1 277.0L461.9 276.0L460.7 275.0L459.5 274.0L458.2 273.0L457.0 272.0L455.8 271.0L454.5 270.0L453.3 269.0L452.1 268.0L450.9 267.0L449.6 266.0L448.4 265.0L447.2 264.0L445.9 263.0L444.7 262.0L443.5 261.0L442.2 260.0L441.0 259.0L439.7 258.0L438.4 257.0L437.2 256.0L435.9 255.0L434.7 254.0L433.4 253.0L432.1 252.0L430.9 251.0L429.6 250.0L428.4 249.0L427.1 248.0L425.8 247.0L424.6 246.0L423.3 245.0L422.1 244.0L420.8 243.0L419.6 242.0L418.4 241.0L417.2 240.0L415.9 239.0L414.7 238.0L413.4 237.0L412.2 236.0L410.9 235.0L409.6 234.0L408.4 233.0L407.1 232.0L405.8 231.0L404.6 230.0L403.3 229.0L401.9 228.0L400.5 227.0L399.2 226.0L397.8 225.0L396.4 224.0L395.1 223.0L393.7 222.0L392.3 221.0L391.0 220.0L389.6 219.0L388.3 218.0L387.3 217.0L386.3 216.0L385.3 215.0L384.3 214.0L383.2 213.0L382.1 212.0L381.4 211.0L380.7 210.0L380.0 209.0L379.4 208.0L378.8 207.0L378.2 206.0L377.6 205.0L377.1 204.0L376.5 203.0L376.0 202.0L375.4 201.0L374.8 200.0L374.2 199.0L373.6 198.0L373.0 197.0L372.4 196.0L371.8 195.0L371.1 194.0L370.4 193.0L369.8 192.0L369.1 191.0L368.4 190.0L367.7 189.0L367.0 188.0L366.3 187.0L365.5 186.0L364.7 185.0L363.5 184.0L362.2 183.0L361.0 182.0L359.7 181.0L358.5 180.0L357.2 179.0L356.0 178.0L354.7 177.0L353.5 176.0L352.4 175.0L351.3 174.0L350.2 173.0L349.2 172.0L348.1 171.0L347.0 170.0L346.0 169.0L344.9 168.0L343.7 167.0L342.5 166.0L341.2 165.0L340.0 164.0L338.8 163.0L337.5 162.0L336.3 161.0L335.1 160.0L333.8 159.0L332.6 158.0L331.4 157.0L330.1 156.0L328.9 155.0L327.7 154.0L326.4 153.0L325.2 152.0L324.3 151.0L323.7 150.0L323.3 149.0L322.9 148.0L322.4 147.0L321.9 146.0L321.5 145.0L321.0 144.0L320.5 143.0L320.1 142.0L319.6 141.0L319.1 140.0L318.0 139.0L316.9 138.0L315.7 137.0L314.6 136.0L313.4 135.0L312.3 134.0L311.1 133.0L310.0 132.0L308.8 131.0L307.7 130.0L306.5 129.0L305.3 128.0L304.1 127.0L303.0 126.0L301.8 125.0L300.6 124.0L299.4 123.0L298.2 122.0L296.9 121.0L295.7 120.0L294.5 119.0L293.2 118.0L292.0 117.0L290.7 116.0L289.5 115.0L288.3 114.0L287.0 113.0L285.8 112.0L284.5 111.0L283.3 110.0L282.1 109.0L280.9 108.0L279.6 107.0L278.4 106.0L277.2 105.0L275.9 104.0L274.5 103.0L273.1 102.0L271.8 101.0L270.4 100.0L269.1 99.0L267.7 98.0L266.4 97.0L265.0 96.0L263.6 95.0L262.2 94.0L260.8 93.0L259.3 92.0L257.9 91.0L256.3 90.0L254.5 89.0L252.6 88.0L250.8 87.0L249.0 86.0L247.1 85.0L245.3 84.0L243.4 83.0L241.6 82.0L239.7 81.0L237.8 80.0L236.0 79.0L234.1 78.0L232.1 77.0L230.0 76.0L227.9 75.0L225.8 74.0L223.7 73.0L221.5 72.0L219.2 71.0L216.9 70.0L214.6 69.0L212.3 68.0L210.0 67.0L207.7 66.0L205.6 65.0L203.6 64.0L201.5 63.0L199.5 62.0L197.4 61.0L195.3 60.0L193.3 59.0L191.2 58.0L189.1 57.0L187.1 56.0L185.0 55.0L183.0 54.0L181.0 53.0L179.3 52.0L177.6 51.0L175.9 50.0L174.2 49.0L172.4 48.0L170.6 47.0L168.9 46.0L167.1 45.0L165.4 44.0L163.6 43.0L161.9 42.0L160.2 41.0L158.4 40.0L156.8 39.0L155.3 38.0L153.6 37.0L151.9 36.0L150.3 35.0L148.6 34.0L147.0 33.0L145.4 32.0L143.8 31.0L142.1 30.0L140.2 29.0L139.0 28.0L138.9 27.0L138.8 26.0L138.6 25.0L138.5 24.0L138.4 23.0L138.3 22.0L138.2 21.0L138.0 20.0L137.9 19.0L137.8 18.0L137.7 17.0L137.6 16.0L137.5 15.0L137.4 14.0L137.2 13.0L137.1 12.0Z" fill="#000" fill-opacity="0.1250"/>
<path d="M119.8 12.0L120.9 13.0L121.9 14.0L122.9 15.0L124.0 16.0L125.1 17.0L126.2 18.0L127.3 19.0L128.4 20.0L129.5 21.0L130.6 22.0L131.8 23.0L133.0 24.0L134.2 25.0L135.4 26.0L136.6 27.0L137.7 28.0L138.5 29.0L139.3 30.0L139.6 31.0L140.1 32.0L140.6 33.0L141.1 34.0L141.7 35.0L142.2 36.0L142.7 37.0L143.2 38.0L143.7 39.0L144.2 40.0L145.0 41.0L145.7 42.0L146.4 43.0L147.2 44.0L147.9 45.0L148.7 46.0L149.5 47.0L150.2 48.0L151.0 49.0L151.7 50.0L152.5 51.0L153.2 52.0L154.0 53.0L155.1 54.0L156.4 55.0L157.6 56.0L158.9 57.0L160.1 58.0L161.4 59.0L162.6 60.0L163.9 61.0L165.1 62.0L166.4 63.0L167.7 64.0L168.9 65.0L170.3 66.0L172.1 67.0L173.9 68.0L175.6 69.0L177.4 70.0L179.2 71.0L181.0 72.0L182.8 73.0L184.7 74.0L186.5 75.0L188.3 76.0L190.1 77.0L191.8 78.0L193.4 79.0L195.1 80.0L196.8 81.0L198.4 82.0L200.1 83.0L201.7 84.0L203.4 85.0L205.1 86.0L206.7 87.0L208.4 88.0L210.1 89.0L211.7 90.0L213.3 91.0L214.9 92.0L216.5 93.0L218.1 94.0L219.7 95.0L221.2 96.0L222.8 97.0L224.4 98.0L226.0 99.0L227.6 100.0L229.2 101.0L230.8 102.0L232.4 103.0L234.0 104.0L235.7 105.0L237.3 106.0L238.9 107.0L240.5 108.0L242.1 109.0L243.6 110.0L245.2 111.0L246.8 112.0L248.4 113.0L250.0 114.0L251.6 115.0L253.2 116.0L254.9 117.0L256.5 118.0L258.2 119.0L259.8 120.0L261.4 121.0L263.1 122.0L265.0 123.0L266.9 124.0L268.8 125.0L270.7 126.0L272.6 127.0L274.5 128.0L276.4 129.0L278.3 130.0L280.2 131.0L282.1 132.0L284.0 133.0L285.9 134.0L287.8 135.0L289.8 136.0L291.7 137.0L293.7 138.0L295.6 139.0L297.6 140.0L298.9 141.0L300.3 142.0L301.7 143.0L303.2 144.0L304.7 145.0L306.2 146.0L307.8 147.0L309.3 148.0L310.9 149.0L312.8 150.0L314.0 151.0L314.6 152.0L315.9 153.0L317.1 154.0L318.3 155.0L319.6 156.0L320.8 157.0L322.1 158.0L323.3 159.0L324.5 160.0L325.8 161.0L327.0 162.0L328.2 163.0L329.5 164.0L330.7 165.0L332.0 166.0L333.2 167.0L334.4 168.0L336.2 169.0L338.0 170.0L339.8 171.0L341.7 172.0L343.5 173.0L345.2 174.0L347.0 175.0L348.8 176.0L349.7 177.0L350.6 178.0L351.6 179.0L352.5 180.0L353.4 181.0L354.3 182.0L355.3 183.0L356.2 184.0L356.9 185.0L357.6 186.0L358.3 187.0L358.9 188.0L359.6 189.0L360.3 190.0L361.0 191.0L361.6 192.0L362.3 193.0L363.0 194.0L363.7 195.0L364.4 196.0L365.0 197.0L365.6 198.0L366.2 199.0L366.8 200.0L367.5 201.0L368.2 202.0L368.8 203.0L369.4 204.0L369.9 205.0L370.5 206.0L371.0 207.0L371.6 208.0L372.1 209.0L372.6 210.0L373.0 211.0L373.3 212.0L373.5 213.0L373.8 214.0L374.1 215.0L374.4 216.0L374.6 217.0L374.9 218.0L375.3 219.0L375.9 220.0L376.5 221.0L377.1 222.0L377.7 223.0L378.3 224.0L378.9 225.0L379.5 226.0L380.2 227.0L380.8 228.0L381.4 229.0L382.1 230.0L382.7 231.0L383.3 232.0L383.9 233.0L384.5 234.0L385.1 235.0L385.7 236.0L386.3 237.0L386.9 238.0L387.5 239.0L388.1 240.0L388.8 241.0L389.4 242.0L390.0 243.0L390.6 244.0L391.3 245.0L391.9 246.0L392.6 247.0L393.3 248.0L394.0 249.0L394.7 250.0L395.4 251.0L396.1 252.0L396.8 253.0L397.4 254.0L398.1 255.0L398.8 256.0L399.5 257.0L400.2 258.0L400.9 259.0L401.6 260.0L402.3 261.0L403.0 262.0L403.6 263.0L404.4 264.0L405.1 265.0L405.8 266.0L406.6 267.0L407.3 268.0L408.0 269.0L408.7 270.0L409.5 271.0L410.2 272.0L410.9 273.0L411.6 274.0L412.4 275.0L413.1 276.0L413.8 277.0L414.8 278.0L415.9 279.0L417.1 280.0L418.2 281.0L419.3 282.0L420.5 283.0L421.6 284.0L422.7 285.0L423.8 286.0L425.0 287.0L426.1 288.0L427.2 289.0L428.4 290.0L429.5 291.0L430.7 292.0L431.8 293.0L433.0 294.0L434.1 295.0L435.3 296.0L436.4 297.0L437.5 298.0L438.7 299.0L439.8 300.0L441.0 301.0L442.1 302.0L443.3 303.0L444.4 304.0L445.6 305.0L446.7 306.0L447.9 307.0L449.0 308.0L450.1 309.0L451.3 310.0L452.4 311.0L453.6 312.0L454.7 313.0L455.8 314.0L456.9 315.0L457.9 316.0L458.9 317.0L459.9 318.0L461.0 319.0L462.0 320.0L463.0 321.0L464.0 322.0L465.1 323.0L466.1 324.0L466.9 325.0L467.7 326.0L468.6 327.0L469.4 328.0L470.2 329.0L471.0 330.0L471.9 331.0L472.7 332.0L473.5 333.0L474.3 334.0L475.2 335.0L476.0 336.0L476.8 337.0L477.6 338.0L478.5 339.0L479.3 340.0L537.0 340.0L535.9 339.0L534.7 338.0L533.6 337.0L532.4 336.0L531.2 335.0L530.0 334.0L528.9 333.0L527.7 332.0L526.5 331.0L525.3 330.0L524.1 329.0L522.9 328.0L521.7 327.0L520.5 326.0L519.3 325.0L518.2 324.0L516.9 323.0L515.7 322.0L514.4 321.0L513.2 320.0L511.9 319.0L510.7 318.0L509.5 317.0L508.2 316.0L507.0 315.0L505.8 314.0L504.5 313.0L503.3 312.0L502.0 311.0L500.8 310.0L499.6 309.0L498.3 308.0L497.1 307.0L495.8 306.0L494.6 305.0L493.3 304.0L492.1 303.0L490.8 302.0L489.6 301.0L488.4 300.0L487.1 299.0L485.9 298.0L484.6 297.0L483.4 296.0L482.2 295.0L480.9 294.0L479.7 293.0L478.4 292.0L477.2 291.0L475.9 290.0L474.7 289.0L473.4 288.0L472.2 287.0L470.9 286.0L469.7 285.0L468.5 284.0L467.2 283.0L466.0 282.0L464.7 281.0L463.5 280.0L462.2 279.0L461.0 278.0L459.8 277.0L458.6 276.0L457.4 275.0L456.1 274.0L454.9 273.0L453.7 272.0L452.5 271.0L451.3 270.0L450.1 269.0L448.9 268.0L447.7 267.0L446.5 266.0L445.3 265.0L444.1 264.0L442.9 263.0L441.7 262.0L440.5 261.0L439.3 260.0L438.0 259.0L436.8 258.0L435.6 257.0L434.4 256.0L433.1 255.0L431.9 254.0L430.7 253.0L429.4 252.0L428.2 251.0L427.0 250.0L425.8 249.0L424.5 248.0L423.3 247.0L422.1 246.0L420.9 245.0L419.6 244.0L418.4 243.0L417.3 242.0L416.1 241.0L414.9 240.0L413.7 239.0L412.5 238.0L411.3 237.0L410.0 236.0L408.8 235.0L407.6 234.0L406.4 233.0L405.2 232.0L403.9 231.0L402.7 230.0L401.5 229.0L400.1 228.0L398.8 227.0L397.5 226.0L396.2 225.0L394.9 224.0L393.6 223.0L392.2 222.0L390.9 221.0L389.6 220.0L388.3 219.0L387.1 218.0L386.3 217.0L385.4 216.0L384.5 215.0L383.6 214.0L382.6 213.0L381.7 212.0L381.0 211.0L380.3 210.0L379.7 209.0L379.1 208.0L378.5 207.0L377.9 206.0L377.4 205.0L376.8 204.0L376.2 203.0L375.7 202.0L375.1 201.0L374.5 200.0L374.0 199.0L373.4 198.0L372.8 197.0L372.2 196.0L371.5 195.0L370.9 194.0L370.2 193.0L369.6 192.0L368.9 191.0L368.2 190.0L367.5 189.0L366.8 188.0L366.1 187.0L365.4 186.0L364.5 185.0L363.3 184.0L362.1 183.0L360.8 182.0L359.6 181.0L358.3 180.0L357.1 179.0L355.8 178.0L354.6 177.0L353.4 176.0L352.3 175.0L351.2 174.0L350.1 173.0L349.0 172.0L347.9 171.0L346.9 170.0L345.8 169.0L344.7 168.0L343.5 167.0L342.3 166.0L341.0 165.0L339.8 164.0L338.6 163.0L337.3 162.0L336.1 161.0L334.9 160.0L333.6 159.0L332.4 158.0L331.2 157.0L329.9 156.0L328.7 155.0L327.5 154.0L326.2 153.0L325.0 152.0L324.1 151.0L323.5 150.0L323.1 149.0L322.6 148.0L322.2 147.0L321.7 146.0L321.2 145.0L320.8 144.0L320.3 143.0L319.8 142.0L319.4 141.0L318.9 140.0L317.8 139.0L316.6 138.0L315.4 137.0L314.2 136.0L313.0 135.0L311.8 134.0L310.7 133.0L309.5 132.0L308.3 131.0L307.1 130.0L305.9 129.0L304.7 128.0L303.5 127.0L302.3 126.0L301.1 125.0L299.9 124.0L298.7 123.0L297.5 122.0L296.2 121.0L295.0 120.0L293.7 119.0L292.5 118.0L291.2 117.0L290.0 116.0L288.7 115.0L287.5 114.0L286.2 113.0L285.0 112.0L283.7 111.0L282.5 110.0L281.2 109.0L280.0 108.0L278.7 107.0L277.5 106.0L276.3 105.0L274.9 104.0L273.5 103.0L272.1 102.0L270.7 101.0L269.4 100.0L268.0 99.0L266.6 98.0L265.2 97.0L263.8 96.0L262.4 95.0L261.0 94.0L259.5 93.0L258.1 92.0L256.7 91.0L255.1 90.0L253.2 89.0L251.3 88.0L249.4 87.0L247.5 86.0L245.6 85.0L243.7 84.0L241.8 83.0L239.9 82.0L238.1 81.0L236.1 80.0L234.2 79.0L232.3 78.0L230.3 77.0L228.1 76.0L226.0 75.0L223.8 74.0L221.7 73.0L219.5 72.0L217.2 71.0L214.9 70.0L212.6 69.0L210.3 68.0L208.0 67.0L205.7 66.0L203.6 65.0L201.6 64.0L199.6 63.0L197.6 62.0L195.5 61.0L193.5 60.0L191.5 59.0L189.4 58.0L187.4 57.0L185.4 56.0L183.4 55.0L181.3 54.0L179.4 53.0L177.8 52.0L176.1 51.0L174.4 50.0L172.7 49.0L171.0 48.0L169.3 47.0L167.6 46.0L165.9 45.0L164.2 44.0L162.5 43.0L160.8 42.0L159.1 41.0L157.4 40.0L155.9 39.0L154.4 38.0L152.8 37.0L151.2 36.0L149.6 35.0L148.1 34.0L146.5 33.0L145.0 32.0L143.4 31.0L141.8 30.0L140.1 29.0L139.0 28.0L138.9 27.0L138.7 26.0L138.6 25.0L138.5 24.0L138.4 23.0L138.2 22.0L138.1 21.0L138.0 20.0L137.9 19.0L137.8 18.0L137.6 17.0L137.5 16.0L137.4 15.0L137.3 14.0L137.2 13.0L137.0 12.0Z" fill="#000" fill-opacity="0.1429"/>
<path d="M121.6 12.0L122.6 13.0L123.5 14.0L124.5 15.0L125.5 16.0L126.5 17.0L127.5 18.0L128.5 19.0L129.5 20.0L130.5 21.0L131.5 22.0L132.6 23.0L133.6 24.0L134.6 25.0L135.7 26.0L136.8 27.0L137.8 28.0L138.5 29.0L139.3 30.0L139.6 31.0L140.2 32.0L140.7 33.0L141.2 34.0L141.7 35.0L142.3 36.0L142.8 37.0L143.4 38.0L143.9 39.0L144.4 40.0L145.2 41.0L145.9 42.0L146.7 43.0L147.4 44.0L148.2 45.0L149.0 46.0L149.7 47.0L150.5 48.0L151.3 49.0L152.0 50.0L152.8 51.0L153.6 52.0L154.4 53.0L155.5 54.0L156.8 55.0L158.0 56.0L159.3 57.0L160.6 58.0L161.9 59.0L163.1 60.0L164.4 61.0L165.7 62.0L167.0 63.0L168.3 64.0L169.5 65.0L170.9 66.0L172.7 67.0L174.5 68.0L176.4 69.0L178.2 70.0L180.1 71.0L181.9 72.0L183.7 73.0L185.6 74.0L187.4 75.0L189.3 76.0L191.1 77.0L192.9 78.0L194.5 79.0L196.2 80.0L197.9 81.0L199.5 82.0L201.2 83.0L202.9 84.0L204.5 85.0L206.2 86.0L207.9 87.0L209.5 88.0L211.2 89.0L212.9 90.0L214.5 91.0L216.1 92.0L217.7 93.0L219.3 94.0L220.8 95.0L222.4 96.0L224.0 97.0L225.6 98.0L227.2 99.0L228.8 100.0L230.4 101.0L232.0 102.0L233.6 103.0L235.2 104.0L236.8 105.0L238.4 106.0L240.0 107.0L241.6 108.0L243.2 109.0L244.8 110.0L246.4 111.0L248.0 112.0L249.6 113.0L251.1 114.0L252.7 115.0L254.4 116.0L256.0 117.0L257.6 118.0L259.2 119.0L260.8 120.0L262.4 121.0L264.2 122.0L266.0 123.0L267.9 124.0L269.8 125.0L271.7 126.0L273.6 127.0L275.5 128.0L277.4 129.0L279.3 130.0L281.2 131.0L283.1 132.0L285.0 133.0L287.0 134.0L288.9 135.0L290.8 136.0L292.7 137.0L294.7 138.0L296.6 139.0L298.5 140.0L299.9 141.0L301.3 142.0L302.6 143.0L304.1 144.0L305.5 145.0L307.0 146.0L308.5 147.0L309.9 148.0L311.4 149.0L313.1 150.0L314.2 151.0L314.8 152.0L316.1 153.0L317.3 154.0L318.5 155.0L319.8 156.0L321.0 157.0L322.2 158.0L323.5 159.0L324.7 160.0L325.9 161.0L327.2 162.0L328.4 163.0L329.6 164.0L330.9 165.0L332.1 166.0L333.3 167.0L334.6 168.0L336.4 169.0L338.2 170.0L340.0 171.0L341.9 172.0L343.7 173.0L345.5 174.0L347.3 175.0L349.1 176.0L350.0 177.0L351.0 178.0L351.9 179.0L352.8 180.0L353.8 181.0L354.7 182.0L355.7 183.0L356.6 184.0L357.4 185.0L358.0 186.0L358.7 187.0L359.4 188.0L360.1 189.0L360.8 190.0L361.5 191.0L362.2 192.0L362.9 193.0L363.5 194.0L364.2 195.0L364.9 196.0L365.5 197.0L366.1 198.0L366.8 199.0L367.4 200.0L368.1 201.0L368.7 202.0L369.3 203.0L369.9 204.0L370.4 205.0L370.9 206.0L371.4 207.0L371.9 208.0L372.5 209.0L373.0 210.0L373.3 211.0L373.6 212.0L373.8 213.0L374.1 214.0L374.4 215.0L374.6 216.0L374.9 217.0L375.1 218.0L375.6 219.0L376.2 220.0L376.8 221.0L377.5 222.0L378.1 223.0L378.7 224.0L379.3 225.0L379.9 226.0L380.6 227.0L381.2 228.0L381.8 229.0L382.5 230.0L383.1 231.0L383.7 232.0L384.3 233.0L384.9 234.0L385.6 235.0L386.2 236.0L386.8 237.0L387.4 238.0L388.0 239.0L388.6 240.0L389.3 241.0L389.9 242.0L390.5 243.0L391.1 244.0L391.8 245.0L392.5 246.0L393.2 247.0L393.9 248.0L394.6 249.0L395.3 250.0L396.0 251.0L396.7 252.0L397.4 253.0L398.1 254.0L398.8 255.0L399.5 256.0L400.2 257.0L400.9 258.0L401.6 259.0L402.3 260.0L403.0 261.0L403.7 262.0L404.4 263.0L405.2 264.0L405.9 265.0L406.6 266.0L407.3 267.0L408.1 268.0L408.8 269.0L409.5 270.0L410.2 271.0L411.0 272.0L411.7 273.0L412.4 274.0L413.1 275.0L413.9 276.0L414.6 277.0L415.6 278.0L416.7 279.0L417.9 280.0L419.1 281.0L420.2 282.0L421.4 283.0L422.6 284.0L423.7 285.0L424.9 286.0L426.0 287.0L427.2 288.0L428.4 289.0L429.5 290.0L430.7 291.0L431.9 292.0L433.1 293.0L434.2 294.0L435.4 295.0L436.6 296.0L437.7 297.0L438.9 298.0L440.1 299.0L441.3 300.0L442.4 301.0L443.6 302.0L444.8 303.0L445.9 304.0L447.1 305.0L448.3 306.0L449.5 307.0L450.6 308.0L451.8 309.0L453.0 310.0L454.2 311.0L455.3 312.0L456.5 313.0L457.6 314.0L458.7 315.0L459.7 316.0L460.8 317.0L461.8 318.0L462.8 319.0L463.9 320.0L464.9 321.0L466.0 322.0L467.0 323.0L468.1 324.0L468.9 325.0L469.7 326.0L470.6 327.0L471.4 328.0L472.3 329.0L473.1 330.0L474.0 331.0L474.8 332.0L475.6 333.0L476.5 334.0L477.3 335.0L478.2 336.0L479.0 337.0L479.9 338.0L480.7 339.0L481.5 340.0L532.2 340.0L531.1 339.0L529.9 338.0L528.8 337.0L527.7 336.0L526.5 335.0L525.3 334.0L524.2 333.0L523.0 332.0L521.8 331.0L520.7 330.0L519.5 329.0L518.3 328.0L517.2 327.0L516.0 326.0L514.8 325.0L513.7 324.0L512.5 323.0L511.3 322.0L510.0 321.0L508.8 320.0L507.6 319.0L506.4 318.0L505.2 317.0L504.0 316.0L502.8 315.0L501.6 314.0L500.4 313.0L499.1 312.0L497.9 311.0L496.7 310.0L495.5 309.0L494.3 308.0L493.0 307.0L491.8 306.0L490.6 305.0L489.4 304.0L488.2 303.0L486.9 302.0L485.7 301.0L484.5 300.0L483.3 299.0L482.1 298.0L480.8 297.0L479.6 296.0L478.4 295.0L477.2 294.0L476.0 293.0L474.7 292.0L473.5 291.0L472.3 290.0L471.1 289.0L469.9 288.0L468.6 287.0L467.4 286.0L466.2 285.0L465.0 284.0L463.7 283.0L462.5 282.0L461.3 281.0L460.1 280.0L458.9 279.0L457.6 278.0L456.4 277.0L455.3 276.0L454.1 275.0L452.9 274.0L451.7 273.0L450.5 272.0L449.4 271.0L448.2 270.0L447.0 269.0L445.8 268.0L444.6 267.0L443.5 266.0L442.3 265.0L441.1 264.0L439.9 263.0L438.7 262.0L437.6 261.0L436.4 260.0L435.2 259.0L434.0 258.0L432.8 257.0L431.6 256.0L430.4 255.0L429.2 254.0L428.0 253.0L426.8 252.0L425.6 251.0L424.4 250.0L423.2 249.0L422.0 248.0L420.8 247.0L419.6 246.0L418.5 245.0L417.3 244.0L416.1 243.0L414.9 242.0L413.8 241.0L412.6 240.0L411.5 239.0L410.3 238.0L409.1 237.0L407.9 236.0L406.8 235.0L405.6 234.0L404.4 233.0L403.2 232.0L402.1 231.0L400.9 230.0L399.7 229.0L398.4 228.0L397.1 227.0L395.9 226.0L394.6 225.0L393.4 224.0L392.1 223.0L390.8 222.0L389.6 221.0L388.3 220.0L387.0 219.0L386.0 218.0L385.2 217.0L384.4 216.0L383.7 215.0L382.9 214.0L382.1 213.0L381.3 212.0L380.6 211.0L380.0 210.0L379.4 209.0L378.8 208.0L378.2 207.0L377.7 206.0L377.1 205.0L376.5 204.0L376.0 203.0L375.4 202.0L374.9 201.0L374.3 200.0L373.7 199.0L373.1 198.0L372.6 197.0L372.0 196.0L371.3 195.0L370.7 194.0L370.0 193.0L369.3 192.0L368.7 191.0L368.0 190.0L367.3 189.0L366.6 188.0L365.9 187.0L365.2 186.0L364.4 185.0L363.1 184.0L361.9 183.0L360.7 182.0L359.4 181.0L358.2 180.0L356.9 179.0L355.7 178.0L354.4 177.0L353.2 176.0L352.1 175.0L351.0 174.0L349.9 173.0L348.9 172.0L347.8 171.0L346.7 170.0L345.6 169.0L344.6 168.0L343.3 167.0L342.1 166.0L340.9 165.0L339.6 164.0L338.4 163.0L337.2 162.0L335.9 161.0L334.7 160.0L333.5 159.0L332.2 158.0L331.0 157.0L329.8 156.0L328.5 155.0L327.3 154.0L326.1 153.0L324.8 152.0L323.9 151.0L323.2 150.0L322.8 149.0L322.4 148.0L321.9 147.0L321.4 146.0L321.0 145.0L320.5 144.0L320.1 143.0L319.6 142.0L319.1 141.0L318.7 140.0L317.5 139.0L316.3 138.0L315.1 137.0L313.9 136.0L312.6 135.0L311.4 134.0L310.2 133.0L309.0 132.0L307.8 131.0L306.6 130.0L305.4 129.0L304.2 128.0L302.9 127.0L301.7 126.0L300.5 125.0L299.3 124.0L298.0 123.0L296.8 122.0L295.5 121.0L294.3 120.0L293.0 119.0L291.7 118.0L290.5 117.0L289.2 116.0L287.9 115.0L286.7 114.0L285.4 113.0L284.2 112.0L282.9 111.0L281.6 110.0L280.4 109.0L279.1 108.0L277.9 107.0L276.6 106.0L275.3 105.0L273.9 104.0L272.5 103.0L271.1 102.0L269.7 101.0L268.3 100.0L266.9 99.0L265.5 98.0L264.0 97.0L262.6 96.0L261.2 95.0L259.8 94.0L258.3 93.0L256.9 92.0L255.4 91.0L253.8 90.0L251.9 89.0L250.0 88.0L248.0 87.0L246.1 86.0L244.2 85.0L242.2 84.0L240.3 83.0L238.4 82.0L236.4 81.0L234.5 80.0L232.5 79.0L230.6 78.0L228.5 77.0L226.3 76.0L224.1 75.0L221.9 74.0L219.7 73.0L217.5 72.0L215.2 71.0L212.9 70.0L210.6 69.0L208.3 68.0L206.0 67.0L203.7 66.0L201.7 65.0L199.7 64.0L197.7 63.0L195.7 62.0L193.7 61.0L191.7 60.0L189.7 59.0L187.7 58.0L185.7 57.0L183.7 56.0L181.7 55.0L179.8 54.0L177.9 53.0L176.2 52.0L174.6 51.0L173.0 50.0L171.3 49.0L169.7 48.0L168.0 47.0L166.4 46.0L164.7 45.0L163.1 44.0L161.4 43.0L159.8 42.0L158.2 41.0L156.5 40.0L155.0 39.0L153.6 38.0L152.1 37.0L150.6 36.0L149.1 35.0L147.5 34.0L146.1 33.0L144.6 32.0L143.1 31.0L141.6 30.0L140.0 29.0L139.0 28.0L138.8 27.0L138.7 26.0L138.6 25.0L138.5 24.0L138.3 23.0L138.2 22.0L138.1 21.0L137.9 20.0L137.8 19.0L137.7 18.0L137.6 17.0L137.4 16.0L137.3 15.0L137.2 14.0L137.1 13.0L136.9 12.0Z" fill="#000" fill-opacity="0.1667"/>
<path d="M123.5 12.0L124.4 13.0L125.3 14.0L126.1 15.0L127.0 16.0L127.9 17.0L128.8 18.0L129.7 19.0L130.6 20.0L131.5 21.0L132.4 22.0L133.3 23.0L134.2 24.0L135.1 25.0L136.0 26.0L136.9 27.0L137.8 28.0L138.5 29.0L139.3 30.0L139.6 31.0L140.2 32.0L140.7 33.0L141.3 34.0L141.8 35.0L142.4 36.0L142.9 37.0L143.5 38.0L144.0 39.0L144.6 40.0L145.4 41.0L146.1 42.0L146.9 43.0L147.7 44.0L148.5 45.0L149.3 46.0L150.0 47.0L150.8 48.0L151.6 49.0L152.4 50.0L153.1 51.0L153.9 52.0L154.7 53.0L155.9 54.0L157.1 55.0L158.4 56.0L159.7 57.0L161.0 58.0L162.3 59.0L163.6 60.0L164.9 61.0L166.2 62.0L167.5 63.0L168.8 64.0L170.1 65.0L171.5 66.0L173.3 67.0L175.2 68.0L177.1 69.0L179.0 70.0L180.8 71.0L182.7 72.0L184.6 73.0L186.5 74.0L188.3 75.0L190.2 76.0L192.1 77.0L193.9 78.0L195.6 79.0L197.2 80.0L198.9 81.0L200.6 82.0L202.3 83.0L204.0 84.0L205.6 85.0L207.3 86.0L209.0 87.0L210.7 88.0L212.3 89.0L214.0 90.0L215.6 91.0L217.2 92.0L218.8 93.0L220.4 94.0L222.0 95.0L223.6 96.0L225.2 97.0L226.8 98.0L228.4 99.0L230.0 100.0L231.6 101.0L233.1 102.0L234.7 103.0L236.3 104.0L237.9 105.0L239.5 106.0L241.1 107.0L242.7 108.0L244.3 109.0L245.9 110.0L247.5 111.0L249.1 112.0L250.7 113.0L252.2 114.0L253.8 115.0L255.4 116.0L257.0 117.0L258.6 118.0L260.2 119.0L261.8 120.0L263.4 121.0L265.1 122.0L267.0 123.0L268.9 124.0L270.8 125.0L272.7 126.0L274.6 127.0L276.5 128.0L278.4 129.0L280.3 130.0L282.2 131.0L284.1 132.0L286.0 133.0L288.0 134.0L289.9 135.0L291.8 136.0L293.7 137.0L295.6 138.0L297.5 139.0L299.4 140.0L300.8 141.0L302.2 142.0L303.5 143.0L304.9 144.0L306.3 145.0L307.7 146.0L309.1 147.0L310.5 148.0L311.9 149.0L313.4 150.0L314.4 151.0L315.0 152.0L316.2 153.0L317.5 154.0L318.7 155.0L319.9 156.0L321.2 157.0L322.4 158.0L323.6 159.0L324.9 160.0L326.1 161.0L327.3 162.0L328.6 163.0L329.8 164.0L331.0 165.0L332.3 166.0L333.5 167.0L334.7 168.0L336.6 169.0L338.4 170.0L340.2 171.0L342.1 172.0L343.9 173.0L345.7 174.0L347.5 175.0L349.4 176.0L350.3 177.0L351.3 178.0L352.2 179.0L353.2 180.0L354.1 181.0L355.1 182.0L356.1 183.0L357.0 184.0L357.8 185.0L358.5 186.0L359.2 187.0L359.9 188.0L360.6 189.0L361.3 190.0L362.0 191.0L362.7 192.0L363.4 193.0L364.1 194.0L364.8 195.0L365.4 196.0L366.1 197.0L366.7 198.0L367.3 199.0L368.0 200.0L368.6 201.0L369.2 202.0L369.8 203.0L370.3 204.0L370.8 205.0L371.3 206.0L371.8 207.0L372.3 208.0L372.8 209.0L373.3 210.0L373.6 211.0L373.9 212.0L374.1 213.0L374.4 214.0L374.6 215.0L374.9 216.0L375.1 217.0L375.4 218.0L375.9 219.0L376.5 220.0L377.1 221.0L377.8 222.0L378.4 223.0L379.1 224.0L379.7 225.0L380.3 226.0L381.0 227.0L381.6 228.0L382.3 229.0L382.9 230.0L383.5 231.0L384.2 232.0L384.8 233.0L385.4 234.0L386.0 235.0L386.6 236.0L387.3 237.0L387.9 238.0L388.5 239.0L389.1 240.0L389.8 241.0L390.4 242.0L391.0 243.0L391.6 244.0L392.3 245.0L393.0 246.0L393.7 247.0L394.5 248.0L395.2 249.0L395.9 250.0L396.6 251.0L397.3 252.0L398.0 253.0L398.8 254.0L399.5 255.0L400.2 256.0L400.9 257.0L401.6 258.0L402.3 259.0L403.1 260.0L403.8 261.0L404.5 262.0L405.2 263.0L405.9 264.0L406.6 265.0L407.4 266.0L408.1 267.0L408.8 268.0L409.5 269.0L410.3 270.0L411.0 271.0L411.7 272.0L412.4 273.0L413.2 274.0L413.9 275.0L414.6 276.0L415.3 277.0L416.3 278.0L417.5 279.0L418.7 280.0L419.9 281.0L421.1 282.0L422.3 283.0L423.5 284.0L424.7 285.0L425.9 286.0L427.1 287.0L428.3 288.0L429.5 289.0L430.7 290.0L431.9 291.0L433.1 292.0L434.3 293.0L435.5 294.0L436.7 295.0L437.9 296.0L439.1 297.0L440.3 298.0L441.5 299.0L442.7 300.0L443.9 301.0L445.1 302.0L446.3 303.0L447.5 304.0L448.7 305.0L449.9 306.0L451.1 307.0L452.3 308.0L453.5 309.0L454.7 310.0L455.9 311.0L457.1 312.0L458.3 313.0L459.4 314.0L460.5 315.0L461.5 316.0L462.6 317.0L463.7 318.0L464.7 319.0L465.8 320.0L466.8 321.0L467.9 322.0L469.0 323.0L470.0 324.0L470.9 325.0L471.7 326.0L472.6 327.0L473.5 328.0L474.3 329.0L475.2 330.0L476.0 331.0L476.9 332.0L477.8 333.0L478.6 334.0L479.5 335.0L480.3 336.0L481.2 337.0L482.1 338.0L482.9 339.0L483.8 340.0L527.5 340.0L526.3 339.0L525.2 338.0L524.1 337.0L522.9 336.0L521.8 335.0L520.6 334.0L519.5 333.0L518.4 332.0L517.2 331.0L516.1 330.0L514.9 329.0L513.8 328.0L512.6 327.0L511.5 326.0L510.4 325.0L509.2 324.0L508.0 323.0L506.9 322.0L505.7 321.0L504.5 320.0L503.3 319.0L502.1 318.0L501.0 317.0L499.8 316.0L498.6 315.0L497.4 314.0L496.2 313.0L495.0 312.0L493.8 311.0L492.6 310.0L491.4 309.0L490.2 308.0L489.0 307.0L487.8 306.0L486.7 305.0L485.5 304.0L484.3 303.0L483.1 302.0L481.9 301.0L480.7 300.0L479.5 299.0L478.3 298.0L477.1 297.0L475.9 296.0L474.7 295.0L473.5 294.0L472.3 293.0L471.1 292.0L469.9 291.0L468.7 290.0L467.5 289.0L466.3 288.0L465.1 287.0L463.9 286.0L462.7 285.0L461.5 284.0L460.3 283.0L459.1 282.0L457.9 281.0L456.7 280.0L455.5 279.0L454.3 278.0L453.2 277.0L452.0 276.0L450.9 275.0L449.7 274.0L448.5 273.0L447.4 272.0L446.2 271.0L445.1 270.0L443.9 269.0L442.8 268.0L441.6 267.0L440.4 266.0L439.3 265.0L438.1 264.0L437.0 263.0L435.8 262.0L434.7 261.0L433.5 260.0L432.3 259.0L431.2 258.0L430.0 257.0L428.9 256.0L427.7 255.0L426.5 254.0L425.4 253.0L424.2 252.0L423.0 251.0L421.9 250.0L420.7 249.0L419.6 248.0L418.4 247.0L417.2 246.0L416.1 245.0L414.9 244.0L413.8 243.0L412.7 242.0L411.5 241.0L410.4 240.0L409.3 239.0L408.2 238.0L407.0 237.0L405.9 236.0L404.8 235.0L403.6 234.0L402.5 233.0L401.4 232.0L400.2 231.0L399.1 230.0L397.9 229.0L396.7 228.0L395.5 227.0L394.3 226.0L393.1 225.0L391.9 224.0L390.7 223.0L389.4 222.0L388.2 221.0L387.0 220.0L385.8 219.0L384.8 218.0L384.2 217.0L383.5 216.0L382.9 215.0L382.2 214.0L381.5 213.0L380.9 212.0L380.3 211.0L379.7 210.0L379.1 209.0L378.5 208.0L378.0 207.0L377.4 206.0L376.8 205.0L376.3 204.0L375.7 203.0L375.2 202.0L374.6 201.0L374.0 200.0L373.5 199.0L372.9 198.0L372.3 197.0L371.8 196.0L371.1 195.0L370.5 194.0L369.8 193.0L369.1 192.0L368.4 191.0L367.8 190.0L367.1 189.0L366.4 188.0L365.7 187.0L365.0 186.0L364.2 185.0L363.0 184.0L361.7 183.0L360.5 182.0L359.3 181.0L358.0 180.0L356.8 179.0L355.5 178.0L354.3 177.0L353.1 176.0L352.0 175.0L350.9 174.0L349.8 173.0L348.7 172.0L347.6 171.0L346.6 170.0L345.5 169.0L344.4 168.0L343.2 167.0L341.9 166.0L340.7 165.0L339.5 164.0L338.2 163.0L337.0 162.0L335.8 161.0L334.5 160.0L333.3 159.0L332.1 158.0L330.8 157.0L329.6 156.0L328.4 155.0L327.1 154.0L325.9 153.0L324.7 152.0L323.8 151.0L323.0 150.0L322.6 149.0L322.1 148.0L321.7 147.0L321.2 146.0L320.7 145.0L320.3 144.0L319.8 143.0L319.4 142.0L318.9 141.0L318.5 140.0L317.2 139.0L316.0 138.0L314.7 137.0L313.5 136.0L312.3 135.0L311.0 134.0L309.8 133.0L308.5 132.0L307.3 131.0L306.1 130.0L304.8 129.0L303.6 128.0L302.3 127.0L301.1 126.0L299.9 125.0L298.6 124.0L297.4 123.0L296.1 122.0L294.8 121.0L293.6 120.0L292.3 119.0L291.0 118.0L289.7 117.0L288.5 116.0L287.2 115.0L285.9 114.0L284.6 113.0L283.4 112.0L282.1 111.0L280.8 110.0L279.5 109.0L278.3 108.0L277.0 107.0L275.7 106.0L274.4 105.0L273.0 104.0L271.5 103.0L270.1 102.0L268.7 101.0L267.2 100.0L265.8 99.0L264.3 98.0L262.9 97.0L261.5 96.0L260.0 95.0L258.6 94.0L257.1 93.0L255.7 92.0L254.2 91.0L252.6 90.0L250.6 89.0L248.6 88.0L246.7 87.0L244.7 86.0L242.7 85.0L240.7 84.0L238.8 83.0L236.8 82.0L234.8 81.0L232.8 80.0L230.9 79.0L228.9 78.0L226.7 77.0L224.5 76.0L222.2 75.0L220.0 74.0L217.7 73.0L215.5 72.0L213.2 71.0L210.9 70.0L208.6 69.0L206.3 68.0L204.0 67.0L201.8 66.0L199.8 65.0L197.8 64.0L195.9 63.0L193.9 62.0L191.9 61.0L190.0 60.0L188.0 59.0L186.1 58.0L184.1 57.0L182.1 56.0L180.2 55.0L178.2 54.0L176.4 53.0L174.8 52.0L173.2 51.0L171.6 50.0L170.0 49.0L168.4 48.0L166.8 47.0L165.2 46.0L163.6 45.0L162.0 44.0L160.4 43.0L158.8 42.0L157.2 41.0L155.6 40.0L154.2 39.0L152.8 38.0L151.4 37.0L149.9 36.0L148.5 35.0L147.1 34.0L145.6 33.0L144.2 32.0L142.8 31.0L141.3 30.0L139.9 29.0L139.0 28.0L138.8 27.0L138.7 26.0L138.6 25.0L138.4 24.0L138.3 23.0L138.2 22.0L138.0 21.0L137.9 20.0L137.8 19.0L137.6 18.0L137.5 17.0L137.4 16.0L137.2 15.0L137.1 14.0L137.0 13.0L136.8 12.0Z" fill="#000" fill-opacity="0.2000"/>
<path d="M124.9 12.0L125.7 13.0L126.5 14.0L127.3 15.0L128.1 16.0L129.0 17.0L129.8 18.0L130.6 19.0L131.4 20.0L132.2 21.0L133.0 22.0L133.8 23.0L134.6 24.0L135.5 25.0L136.3 26.0L137.1 27.0L137.9 28.0L138.6 29.0L139.4 30.0L139.7 31.0L140.3 32.0L140.9 33.0L141.5 34.0L142.1 35.0L142.7 36.0L143.3 37.0L143.8 38.0L144.4 39.0L145.0 40.0L145.8 41.0L146.6 42.0L147.4 43.0L148.3 44.0L149.1 45.0L149.9 46.0L150.7 47.0L151.5 48.0L152.3 49.0L153.1 50.0L153.9 51.0L154.7 52.0L155.5 53.0L156.7 54.0L158.0 55.0L159.4 56.0L160.7 57.0L162.0 58.0L163.4 59.0L164.7 60.0L166.0 61.0L167.3 62.0L168.7 63.0L170.0 64.0L171.3 65.0L172.7 66.0L174.6 67.0L176.5 68.0L178.4 69.0L180.3 70.0L182.2 71.0L184.1 72.0L186.0 73.0L187.9 74.0L189.9 75.0L191.8 76.0L193.7 77.0L195.5 78.0L197.2 79.0L198.9 80.0L200.6 81.0L202.2 82.0L203.9 83.0L205.6 84.0L207.3 85.0L209.0 86.0L210.7 87.0L212.4 88.0L214.1 89.0L215.8 90.0L217.4 91.0L219.0 92.0L220.6 93.0L222.2 94.0L223.7 95.0L225.3 96.0L226.9 97.0L228.5 98.0L230.1 99.0L231.7 100.0L233.3 101.0L234.9 102.0L236.4 103.0L238.0 104.0L239.6 105.0L241.2 106.0L242.8 107.0L244.4 108.0L245.9 109.0L247.5 110.0L249.1 111.0L250.7 112.0L252.3 113.0L253.8 114.0L255.4 115.0L257.0 116.0L258.6 117.0L260.2 118.0L261.7 119.0L263.3 120.0L264.9 121.0L266.6 122.0L268.5 123.0L270.4 124.0L272.2 125.0L274.1 126.0L276.0 127.0L277.9 128.0L279.8 129.0L281.6 130.0L283.5 131.0L285.4 132.0L287.3 133.0L289.2 134.0L291.0 135.0L292.9 136.0L294.8 137.0L296.7 138.0L298.6 139.0L300.4 140.0L301.8 141.0L303.1 142.0L304.5 143.0L305.8 144.0L307.1 145.0L308.5 146.0L309.8 147.0L311.2 148.0L312.5 149.0L313.9 150.0L314.8 151.0L315.4 152.0L316.6 153.0L317.9 154.0L319.1 155.0L320.3 156.0L321.6 157.0L322.8 158.0L324.0 159.0L325.3 160.0L326.5 161.0L327.7 162.0L329.0 163.0L330.2 164.0L331.4 165.0L332.6 166.0L333.9 167.0L335.1 168.0L336.9 169.0L338.7 170.0L340.5 171.0L342.4 172.0L344.2 173.0L346.0 174.0L347.8 175.0L349.6 176.0L350.6 177.0L351.6 178.0L352.5 179.0L353.5 180.0L354.5 181.0L355.4 182.0L356.4 183.0L357.4 184.0L358.2 185.0L358.9 186.0L359.6 187.0L360.3 188.0L361.0 189.0L361.7 190.0L362.4 191.0L363.1 192.0L363.8 193.0L364.5 194.0L365.2 195.0L365.9 196.0L366.5 197.0L367.1 198.0L367.8 199.0L368.4 200.0L369.0 201.0L369.7 202.0L370.3 203.0L370.8 204.0L371.3 205.0L371.7 206.0L372.2 207.0L372.7 208.0L373.2 209.0L373.7 210.0L374.0 211.0L374.2 212.0L374.5 213.0L374.7 214.0L375.0 215.0L375.3 216.0L375.5 217.0L375.8 218.0L376.3 219.0L377.0 220.0L377.6 221.0L378.3 222.0L379.0 223.0L379.6 224.0L380.3 225.0L381.0 226.0L381.6 227.0L382.3 228.0L383.0 229.0L383.6 230.0L384.3 231.0L384.9 232.0L385.5 233.0L386.2 234.0L386.8 235.0L387.5 236.0L388.1 237.0L388.7 238.0L389.4 239.0L390.0 240.0L390.7 241.0L391.3 242.0L391.9 243.0L392.6 244.0L393.3 245.0L394.0 246.0L394.8 247.0L395.5 248.0L396.2 249.0L397.0 250.0L397.7 251.0L398.5 252.0L399.2 253.0L399.9 254.0L400.7 255.0L401.4 256.0L402.1 257.0L402.9 258.0L403.6 259.0L404.3 260.0L405.1 261.0L405.8 262.0L406.6 263.0L407.3 264.0L408.0 265.0L408.8 266.0L409.5 267.0L410.2 268.0L411.0 269.0L411.7 270.0L412.4 271.0L413.2 272.0L413.9 273.0L414.7 274.0L415.4 275.0L416.1 276.0L416.9 277.0L417.9 278.0L419.1 279.0L420.3 280.0L421.5 281.0L422.7 282.0L423.9 283.0L425.2 284.0L426.4 285.0L427.6 286.0L428.8 287.0L430.0 288.0L431.2 289.0L432.4 290.0L433.6 291.0L434.8 292.0L436.1 293.0L437.3 294.0L438.5 295.0L439.7 296.0L440.9 297.0L442.1 298.0L443.3 299.0L444.5 300.0L445.7 301.0L447.0 302.0L448.2 303.0L449.4 304.0L450.6 305.0L451.8 306.0L453.0 307.0L454.2 308.0L455.4 309.0L456.6 310.0L457.9 311.0L459.1 312.0L460.3 313.0L461.5 314.0L462.5 315.0L463.6 316.0L464.7 317.0L465.7 318.0L466.8 319.0L467.9 320.0L468.9 321.0L470.0 322.0L471.1 323.0L472.2 324.0L473.0 325.0L473.9 326.0L474.8 327.0L475.7 328.0L476.6 329.0L477.4 330.0L478.3 331.0L479.2 332.0L480.1 333.0L480.9 334.0L481.8 335.0L482.7 336.0L483.6 337.0L484.5 338.0L485.3 339.0L486.2 340.0L523.8 340.0L522.7 339.0L521.5 338.0L520.4 337.0L519.3 336.0L518.2 335.0L517.1 334.0L515.9 333.0L514.8 332.0L513.7 331.0L512.6 330.0L511.4 329.0L510.3 328.0L509.2 327.0L508.1 326.0L507.0 325.0L505.8 324.0L504.7 323.0L503.5 322.0L502.4 321.0L501.2 320.0L500.0 319.0L498.9 318.0L497.7 317.0L496.5 316.0L495.4 315.0L494.2 314.0L493.0 313.0L491.9 312.0L490.7 311.0L489.5 310.0L488.3 309.0L487.1 308.0L485.9 307.0L484.7 306.0L483.6 305.0L482.4 304.0L481.2 303.0L480.0 302.0L478.8 301.0L477.6 300.0L476.4 299.0L475.3 298.0L474.1 297.0L472.9 296.0L471.7 295.0L470.5 294.0L469.3 293.0L468.1 292.0L467.0 291.0L465.8 290.0L464.6 289.0L463.4 288.0L462.2 287.0L461.0 286.0L459.8 285.0L458.7 284.0L457.5 283.0L456.3 282.0L455.1 281.0L453.9 280.0L452.7 279.0L451.5 278.0L450.4 277.0L449.3 276.0L448.1 275.0L447.0 274.0L445.9 273.0L444.7 272.0L443.6 271.0L442.5 270.0L441.3 269.0L440.2 268.0L439.1 267.0L437.9 266.0L436.8 265.0L435.7 264.0L434.6 263.0L433.4 262.0L432.3 261.0L431.2 260.0L430.0 259.0L428.9 258.0L427.8 257.0L426.6 256.0L425.5 255.0L424.4 254.0L423.2 253.0L422.1 252.0L421.0 251.0L419.8 250.0L418.7 249.0L417.6 248.0L416.5 247.0L415.3 246.0L414.2 245.0L413.1 244.0L412.0 243.0L410.9 242.0L409.8 241.0L408.7 240.0L407.6 239.0L406.5 238.0L405.4 237.0L404.3 236.0L403.2 235.0L402.1 234.0L401.0 233.0L399.9 232.0L398.8 231.0L397.7 230.0L396.6 229.0L395.4 228.0L394.2 227.0L393.1 226.0L391.9 225.0L390.7 224.0L389.6 223.0L388.4 222.0L387.2 221.0L386.1 220.0L384.9 219.0L384.0 218.0L383.4 217.0L382.8 216.0L382.2 215.0L381.6 214.0L381.1 213.0L380.5 212.0L379.9 211.0L379.3 210.0L378.8 209.0L378.2 208.0L377.6 207.0L377.1 206.0L376.5 205.0L376.0 204.0L375.4 203.0L374.9 202.0L374.3 201.0L373.7 200.0L373.2 199.0L372.6 198.0L372.0 197.0L371.5 196.0L370.8 195.0L370.2 194.0L369.5 193.0L368.8 192.0L368.1 191.0L367.5 190.0L366.8 189.0L366.1 188.0L365.4 187.0L364.8 186.0L363.9 185.0L362.7 184.0L361.5 183.0L360.3 182.0L359.0 181.0L357.8 180.0L356.6 179.0L355.3 178.0L354.1 177.0L352.9 176.0L351.8 175.0L350.7 174.0L349.6 173.0L348.4 172.0L347.3 171.0L346.2 170.0L345.1 169.0L344.0 168.0L342.8 167.0L341.5 166.0L340.3 165.0L339.1 164.0L337.8 163.0L336.6 162.0L335.4 161.0L334.1 160.0L332.9 159.0L331.7 158.0L330.4 157.0L329.2 156.0L328.0 155.0L326.8 154.0L325.5 153.0L324.3 152.0L323.4 151.0L322.6 150.0L322.1 149.0L321.6 148.0L321.2 147.0L320.7 146.0L320.2 145.0L319.7 144.0L319.2 143.0L318.7 142.0L318.2 141.0L317.7 140.0L316.5 139.0L315.2 138.0L313.9 137.0L312.6 136.0L311.4 135.0L310.1 134.0L308.8 133.0L307.5 132.0L306.3 131.0L305.0 130.0L303.7 129.0L302.4 128.0L301.2 127.0L299.9 126.0L298.6 125.0L297.3 124.0L296.1 123.0L294.8 122.0L293.5 121.0L292.2 120.0L290.9 119.0L289.6 118.0L288.3 117.0L287.1 116.0L285.8 115.0L284.5 114.0L283.2 113.0L281.9 112.0L280.6 111.0L279.3 110.0L278.0 109.0L276.7 108.0L275.4 107.0L274.1 106.0L272.8 105.0L271.4 104.0L269.9 103.0L268.4 102.0L267.0 101.0L265.5 100.0L264.1 99.0L262.6 98.0L261.1 97.0L259.7 96.0L258.2 95.0L256.8 94.0L255.3 93.0L253.8 92.0L252.4 91.0L250.8 90.0L248.8 89.0L246.8 88.0L244.8 87.0L242.8 86.0L240.8 85.0L238.9 84.0L236.9 83.0L234.9 82.0L232.9 81.0L230.9 80.0L228.9 79.0L226.9 78.0L224.8 77.0L222.5 76.0L220.3 75.0L218.0 74.0L215.7 73.0L213.5 72.0L211.2 71.0L208.9 70.0L206.7 69.0L204.4 68.0L202.1 67.0L199.9 66.0L197.9 65.0L196.0 64.0L194.1 63.0L192.2 62.0L190.2 61.0L188.3 60.0L186.4 59.0L184.5 58.0L182.5 57.0L180.6 56.0L178.7 55.0L176.8 54.0L175.0 53.0L173.4 52.0L171.9 51.0L170.3 50.0L168.8 49.0L167.2 48.0L165.7 47.0L164.1 46.0L162.6 45.0L161.0 44.0L159.5 43.0L157.9 42.0L156.4 41.0L154.8 40.0L153.5 39.0L152.1 38.0L150.7 37.0L149.4 36.0L148.0 35.0L146.6 34.0L145.3 33.0L143.9 32.0L142.5 31.0L141.2 30.0L139.8 29.0L138.9 28.0L138.8 27.0L138.6 26.0L138.4 25.0L138.3 24.0L138.1 23.0L138.0 22.0L137.8 21.0L137.7 20.0L137.5 19.0L137.3 18.0L137.2 17.0L137.0 16.0L136.9 15.0L136.7 14.0L136.6 13.0L136.4 12.0Z" fill="#000" fill-opacity="0.2500"/>
<path d="M125.8 12.0L126.5 13.0L127.3 14.0L128.1 15.0L128.8 16.0L129.6 17.0L130.4 18.0L131.1 19.0L131.9 20.0L132.6 21.0L133.4 22.0L134.2 23.0L134.9 24.0L135.7 25.0L136.5 26.0L137.2 27.0L138.0 28.0L138.7 29.0L139.5 30.0L140.0 31.0L140.6 32.0L141.3 33.0L141.9 34.0L142.5 35.0L143.2 36.0L143.8 37.0L144.5 38.0L145.1 39.0L145.8 40.0L146.6 41.0L147.5 42.0L148.4 43.0L149.2 44.0L150.1 45.0L151.0 46.0L151.8 47.0L152.7 48.0L153.6 49.0L154.5 50.0L155.3 51.0L156.2 52.0L157.1 53.0L158.3 54.0L159.6 55.0L161.0 56.0L162.4 57.0L163.8 58.0L165.1 59.0L166.5 60.0L167.9 61.0L169.3 62.0L170.6 63.0L172.0 64.0L173.4 65.0L174.8 66.0L176.7 67.0L178.7 68.0L180.6 69.0L182.5 70.0L184.5 71.0L186.4 72.0L188.3 73.0L190.3 74.0L192.2 75.0L194.1 76.0L196.1 77.0L197.9 78.0L199.6 79.0L201.3 80.0L203.1 81.0L204.8 82.0L206.5 83.0L208.2 84.0L209.9 85.0L211.6 86.0L213.3 87.0L215.1 88.0L216.8 89.0L218.5 90.0L220.1 91.0L221.7 92.0L223.3 93.0L224.8 94.0L226.4 95.0L228.0 96.0L229.6 97.0L231.2 98.0L232.7 99.0L234.3 100.0L235.9 101.0L237.5 102.0L239.0 103.0L240.6 104.0L242.2 105.0L243.8 106.0L245.3 107.0L246.9 108.0L248.4 109.0L250.0 110.0L251.5 111.0L253.1 112.0L254.7 113.0L256.2 114.0L257.8 115.0L259.3 116.0L260.9 117.0L262.4 118.0L264.0 119.0L265.6 120.0L267.1 121.0L268.8 122.0L270.6 123.0L272.5 124.0L274.3 125.0L276.1 126.0L278.0 127.0L279.8 128.0L281.6 129.0L283.5 130.0L285.3 131.0L287.1 132.0L289.0 133.0L290.8 134.0L292.6 135.0L294.5 136.0L296.3 137.0L298.1 138.0L300.0 139.0L301.8 140.0L303.1 141.0L304.3 142.0L305.6 143.0L306.9 144.0L308.2 145.0L309.4 146.0L310.7 147.0L312.0 148.0L313.3 149.0L314.5 150.0L315.4 151.0L316.1 152.0L317.3 153.0L318.6 154.0L319.8 155.0L321.0 156.0L322.3 157.0L323.5 158.0L324.7 159.0L325.9 160.0L327.2 161.0L328.4 162.0L329.6 163.0L330.9 164.0L332.1 165.0L333.3 166.0L334.6 167.0L335.8 168.0L337.6 169.0L339.3 170.0L341.1 171.0L342.8 172.0L344.6 173.0L346.3 174.0L348.1 175.0L349.9 176.0L350.9 177.0L351.9 178.0L352.8 179.0L353.8 180.0L354.8 181.0L355.8 182.0L356.8 183.0L357.8 184.0L358.6 185.0L359.4 186.0L360.0 187.0L360.7 188.0L361.4 189.0L362.1 190.0L362.8 191.0L363.5 192.0L364.2 193.0L364.9 194.0L365.6 195.0L366.3 196.0L366.9 197.0L367.6 198.0L368.2 199.0L368.8 200.0L369.4 201.0L370.1 202.0L370.7 203.0L371.2 204.0L371.7 205.0L372.2 206.0L372.6 207.0L373.1 208.0L373.6 209.0L374.1 210.0L374.4 211.0L374.7 212.0L375.0 213.0L375.3 214.0L375.6 215.0L375.8 216.0L376.1 217.0L376.4 218.0L377.0 219.0L377.7 220.0L378.4 221.0L379.1 222.0L379.8 223.0L380.5 224.0L381.2 225.0L381.9 226.0L382.6 227.0L383.3 228.0L384.0 229.0L384.7 230.0L385.4 231.0L386.1 232.0L386.7 233.0L387.4 234.0L388.1 235.0L388.8 236.0L389.4 237.0L390.1 238.0L390.8 239.0L391.5 240.0L392.1 241.0L392.8 242.0L393.5 243.0L394.2 244.0L394.9 245.0L395.7 246.0L396.5 247.0L397.2 248.0L398.0 249.0L398.8 250.0L399.5 251.0L400.3 252.0L401.1 253.0L401.8 254.0L402.6 255.0L403.4 256.0L404.1 257.0L404.9 258.0L405.7 259.0L406.4 260.0L407.2 261.0L408.0 262.0L408.7 263.0L409.5 264.0L410.3 265.0L411.0 266.0L411.8 267.0L412.6 268.0L413.3 269.0L414.1 270.0L414.9 271.0L415.6 272.0L416.4 273.0L417.2 274.0L417.9 275.0L418.7 276.0L419.5 277.0L420.5 278.0L421.7 279.0L422.9 280.0L424.1 281.0L425.3 282.0L426.5 283.0L427.8 284.0L429.0 285.0L430.2 286.0L431.4 287.0L432.6 288.0L433.8 289.0L435.0 290.0L436.2 291.0L437.4 292.0L438.6 293.0L439.8 294.0L441.1 295.0L442.3 296.0L443.5 297.0L444.7 298.0L445.9 299.0L447.1 300.0L448.3 301.0L449.5 302.0L450.7 303.0L451.9 304.0L453.1 305.0L454.4 306.0L455.6 307.0L456.8 308.0L458.0 309.0L459.2 310.0L460.4 311.0L461.6 312.0L462.8 313.0L464.0 314.0L465.1 315.0L466.1 316.0L467.2 317.0L468.3 318.0L469.4 319.0L470.5 320.0L471.5 321.0L472.6 322.0L473.7 323.0L474.8 324.0L475.7 325.0L476.6 326.0L477.5 327.0L478.4 328.0L479.3 329.0L480.2 330.0L481.0 331.0L481.9 332.0L482.8 333.0L483.7 334.0L484.6 335.0L485.5 336.0L486.4 337.0L487.3 338.0L488.2 339.0L489.1 340.0L520.9 340.0L519.8 339.0L518.7 338.0L517.6 337.0L516.5 336.0L515.4 335.0L514.3 334.0L513.2 333.0L512.1 332.0L511.0 331.0L509.8 330.0L508.7 329.0L507.6 328.0L506.5 327.0L505.4 326.0L504.3 325.0L503.2 324.0L502.1 323.0L500.9 322.0L499.8 321.0L498.6 320.0L497.5 319.0L496.3 318.0L495.1 317.0L494.0 316.0L492.8 315.0L491.7 314.0L490.5 313.0L489.3 312.0L488.1 311.0L486.9 310.0L485.8 309.0L484.6 308.0L483.4 307.0L482.2 306.0L481.0 305.0L479.8 304.0L478.6 303.0L477.4 302.0L476.3 301.0L475.1 300.0L473.9 299.0L472.7 298.0L471.5 297.0L470.3 296.0L469.1 295.0L467.9 294.0L466.8 293.0L465.6 292.0L464.4 291.0L463.2 290.0L462.0 289.0L460.8 288.0L459.6 287.0L458.4 286.0L457.3 285.0L456.1 284.0L454.9 283.0L453.7 282.0L452.5 281.0L451.3 280.0L450.1 279.0L448.9 278.0L447.8 277.0L446.7 276.0L445.6 275.0L444.5 274.0L443.4 273.0L442.3 272.0L441.2 271.0L440.1 270.0L439.0 269.0L437.9 268.0L436.8 267.0L435.7 266.0L434.6 265.0L433.5 264.0L432.4 263.0L431.3 262.0L430.2 261.0L429.1 260.0L428.0 259.0L426.9 258.0L425.8 257.0L424.7 256.0L423.6 255.0L422.5 254.0L421.4 253.0L420.3 252.0L419.2 251.0L418.1 250.0L417.0 249.0L415.9 248.0L414.8 247.0L413.7 246.0L412.6 245.0L411.5 244.0L410.4 243.0L409.4 242.0L408.3 241.0L407.2 240.0L406.2 239.0L405.1 238.0L404.1 237.0L403.0 236.0L401.9 235.0L400.9 234.0L399.8 233.0L398.8 232.0L397.7 231.0L396.6 230.0L395.5 229.0L394.4 228.0L393.3 227.0L392.1 226.0L391.0 225.0L389.9 224.0L388.8 223.0L387.6 222.0L386.5 221.0L385.4 220.0L384.2 219.0L383.3 218.0L382.8 217.0L382.2 216.0L381.7 215.0L381.1 214.0L380.5 213.0L380.0 212.0L379.4 211.0L378.9 210.0L378.3 209.0L377.8 208.0L377.2 207.0L376.7 206.0L376.1 205.0L375.6 204.0L375.0 203.0L374.5 202.0L373.9 201.0L373.3 200.0L372.8 199.0L372.2 198.0L371.6 197.0L371.0 196.0L370.4 195.0L369.7 194.0L369.0 193.0L368.4 192.0L367.7 191.0L367.0 190.0L366.3 189.0L365.7 188.0L365.0 187.0L364.3 186.0L363.5 185.0L362.3 184.0L361.1 183.0L359.9 182.0L358.7 181.0L357.5 180.0L356.3 179.0L355.0 178.0L353.8 177.0L352.6 176.0L351.5 175.0L350.3 174.0L349.1 173.0L348.0 172.0L346.8 171.0L345.6 170.0L344.5 169.0L343.3 168.0L342.1 167.0L340.8 166.0L339.6 165.0L338.4 164.0L337.1 163.0L335.9 162.0L334.7 161.0L333.5 160.0L332.2 159.0L331.0 158.0L329.8 157.0L328.5 156.0L327.3 155.0L326.1 154.0L324.8 153.0L323.6 152.0L322.7 151.0L321.9 150.0L321.4 149.0L320.8 148.0L320.3 147.0L319.7 146.0L319.2 145.0L318.6 144.0L318.1 143.0L317.5 142.0L317.0 141.0L316.4 140.0L315.1 139.0L313.8 138.0L312.4 137.0L311.1 136.0L309.8 135.0L308.5 134.0L307.2 133.0L305.8 132.0L304.5 131.0L303.2 130.0L301.9 129.0L300.5 128.0L299.2 127.0L297.9 126.0L296.6 125.0L295.3 124.0L293.9 123.0L292.6 122.0L291.3 121.0L290.0 120.0L288.7 119.0L287.4 118.0L286.0 117.0L284.7 116.0L283.4 115.0L282.1 114.0L280.8 113.0L279.5 112.0L278.1 111.0L276.8 110.0L275.5 109.0L274.2 108.0L272.9 107.0L271.6 106.0L270.3 105.0L268.8 104.0L267.3 103.0L265.8 102.0L264.4 101.0L262.9 100.0L261.4 99.0L260.0 98.0L258.5 97.0L257.0 96.0L255.6 95.0L254.1 94.0L252.6 93.0L251.1 92.0L249.7 91.0L248.1 90.0L246.1 89.0L244.1 88.0L242.2 87.0L240.2 86.0L238.2 85.0L236.3 84.0L234.3 83.0L232.4 82.0L230.4 81.0L228.4 80.0L226.5 79.0L224.5 78.0L222.4 77.0L220.1 76.0L217.9 75.0L215.7 74.0L213.4 73.0L211.2 72.0L209.0 71.0L206.7 70.0L204.5 69.0L202.2 68.0L200.0 67.0L197.8 66.0L195.9 65.0L194.0 64.0L192.1 63.0L190.2 62.0L188.4 61.0L186.5 60.0L184.6 59.0L182.7 58.0L180.9 57.0L179.0 56.0L177.1 55.0L175.2 54.0L173.5 53.0L172.0 52.0L170.5 51.0L169.0 50.0L167.5 49.0L166.0 48.0L164.5 47.0L163.0 46.0L161.5 45.0L160.0 44.0L158.6 43.0L157.1 42.0L155.6 41.0L154.1 40.0L152.8 39.0L151.5 38.0L150.2 37.0L148.9 36.0L147.5 35.0L146.2 34.0L144.9 33.0L143.6 32.0L142.3 31.0L141.0 30.0L139.7 29.0L138.8 28.0L138.6 27.0L138.4 26.0L138.2 25.0L138.0 24.0L137.8 23.0L137.6 22.0L137.4 21.0L137.2 20.0L137.0 19.0L136.8 18.0L136.5 17.0L136.3 16.0L136.1 15.0L135.9 14.0L135.7 13.0L135.5 12.0Z" fill="#000" fill-opacity="0.3333"/>
<path d="M126.9 12.0L127.6 13.0L128.3 14.0L129.0 15.0L129.7 16.0L130.4 17.0L131.1 18.0L131.8 19.0L132.5 20.0L133.2 21.0L133.9 22.0L134.6 23.0L135.3 24.0L136.0 25.0L136.7 26.0L137.4 27.0L138.1 28.0L138.8 29.0L139.7 30.0L140.2 31.0L140.9 32.0L141.7 33.0L142.4 34.0L143.1 35.0L143.8 36.0L144.6 37.0L145.3 38.0L146.0 39.0L146.7 40.0L147.7 41.0L148.6 42.0L149.5 43.0L150.5 44.0L151.4 45.0L152.3 46.0L153.3 47.0L154.2 48.0L155.2 49.0L156.1 50.0L157.0 51.0L158.0 52.0L158.9 53.0L160.2 54.0L161.6 55.0L163.0 56.0L164.5 57.0L165.9 58.0L167.3 59.0L168.8 60.0L170.2 61.0L171.6 62.0L173.1 63.0L174.5 64.0L175.9 65.0L177.4 66.0L179.4 67.0L181.3 68.0L183.3 69.0L185.3 70.0L187.2 71.0L189.2 72.0L191.2 73.0L193.1 74.0L195.1 75.0L197.1 76.0L199.0 77.0L200.9 78.0L202.7 79.0L204.4 80.0L206.1 81.0L207.9 82.0L209.6 83.0L211.4 84.0L213.1 85.0L214.9 86.0L216.6 87.0L218.3 88.0L220.1 89.0L221.8 90.0L223.4 91.0L225.0 92.0L226.6 93.0L228.1 94.0L229.7 95.0L231.3 96.0L232.8 97.0L234.4 98.0L236.0 99.0L237.5 100.0L239.1 101.0L240.7 102.0L242.2 103.0L243.8 104.0L245.4 105.0L246.9 106.0L248.4 107.0L249.9 108.0L251.5 109.0L253.0 110.0L254.5 111.0L256.1 112.0L257.6 113.0L259.1 114.0L260.7 115.0L262.2 116.0L263.7 117.0L265.3 118.0L266.8 119.0L268.3 120.0L269.8 121.0L271.5 122.0L273.2 123.0L275.0 124.0L276.8 125.0L278.6 126.0L280.4 127.0L282.1 128.0L283.9 129.0L285.7 130.0L287.5 131.0L289.2 132.0L291.0 133.0L292.8 134.0L294.6 135.0L296.3 136.0L298.1 137.0L299.9 138.0L301.7 139.0L303.4 140.0L304.6 141.0L305.8 142.0L307.0 143.0L308.2 144.0L309.4 145.0L310.6 146.0L311.8 147.0L313.0 148.0L314.2 149.0L315.4 150.0L316.3 151.0L316.9 152.0L318.2 153.0L319.4 154.0L320.6 155.0L321.9 156.0L323.1 157.0L324.3 158.0L325.6 159.0L326.8 160.0L328.0 161.0L329.3 162.0L330.5 163.0L331.7 164.0L332.9 165.0L334.2 166.0L335.4 167.0L336.6 168.0L338.3 169.0L340.0 170.0L341.7 171.0L343.4 172.0L345.1 173.0L346.8 174.0L348.5 175.0L350.2 176.0L351.2 177.0L352.2 178.0L353.2 179.0L354.2 180.0L355.3 181.0L356.3 182.0L357.3 183.0L358.3 184.0L359.2 185.0L359.9 186.0L360.6 187.0L361.3 188.0L362.0 189.0L362.7 190.0L363.4 191.0L364.1 192.0L364.8 193.0L365.5 194.0L366.2 195.0L366.8 196.0L367.5 197.0L368.1 198.0L368.7 199.0L369.3 200.0L369.9 201.0L370.6 202.0L371.2 203.0L371.7 204.0L372.2 205.0L372.7 206.0L373.2 207.0L373.7 208.0L374.2 209.0L374.7 210.0L375.0 211.0L375.3 212.0L375.6 213.0L375.9 214.0L376.2 215.0L376.6 216.0L376.9 217.0L377.2 218.0L377.8 219.0L378.5 220.0L379.3 221.0L380.0 222.0L380.8 223.0L381.5 224.0L382.3 225.0L383.0 226.0L383.8 227.0L384.6 228.0L385.3 229.0L386.1 230.0L386.8 231.0L387.5 232.0L388.2 233.0L388.9 234.0L389.6 235.0L390.4 236.0L391.1 237.0L391.8 238.0L392.5 239.0L393.2 240.0L394.0 241.0L394.7 242.0L395.4 243.0L396.1 244.0L396.9 245.0L397.7 246.0L398.5 247.0L399.3 248.0L400.1 249.0L400.9 250.0L401.7 251.0L402.5 252.0L403.3 253.0L404.1 254.0L405.0 255.0L405.8 256.0L406.6 257.0L407.4 258.0L408.2 259.0L409.0 260.0L409.8 261.0L410.6 262.0L411.4 263.0L412.2 264.0L413.0 265.0L413.8 266.0L414.6 267.0L415.4 268.0L416.2 269.0L417.0 270.0L417.8 271.0L418.6 272.0L419.4 273.0L420.2 274.0L421.0 275.0L421.9 276.0L422.7 277.0L423.7 278.0L424.9 279.0L426.1 280.0L427.3 281.0L428.5 282.0L429.7 283.0L430.9 284.0L432.1 285.0L433.4 286.0L434.6 287.0L435.8 288.0L437.0 289.0L438.2 290.0L439.4 291.0L440.6 292.0L441.8 293.0L443.0 294.0L444.2 295.0L445.4 296.0L446.6 297.0L447.8 298.0L449.0 299.0L450.3 300.0L451.5 301.0L452.7 302.0L453.9 303.0L455.1 304.0L456.3 305.0L457.5 306.0L458.7 307.0L459.9 308.0L461.1 309.0L462.3 310.0L463.5 311.0L464.7 312.0L465.9 313.0L467.1 314.0L468.2 315.0L469.3 316.0L470.4 317.0L471.5 318.0L472.5 319.0L473.6 320.0L474.7 321.0L475.8 322.0L476.9 323.0L478.0 324.0L478.9 325.0L479.8 326.0L480.7 327.0L481.7 328.0L482.6 329.0L483.5 330.0L484.4 331.0L485.3 332.0L486.3 333.0L487.2 334.0L488.1 335.0L489.0 336.0L489.9 337.0L490.9 338.0L491.8 339.0L492.7 340.0L517.3 340.0L516.2 339.0L515.1 338.0L514.1 337.0L513.0 336.0L511.9 335.0L510.8 334.0L509.7 333.0L508.7 332.0L507.6 331.0L506.5 330.0L505.4 329.0L504.3 328.0L503.3 327.0L502.2 326.0L501.1 325.0L500.0 324.0L498.9 323.0L497.7 322.0L496.6 321.0L495.4 320.0L494.3 319.0L493.1 318.0L492.0 317.0L490.9 316.0L489.7 315.0L488.6 314.0L487.4 313.0L486.2 312.0L485.0 311.0L483.8 310.0L482.6 309.0L481.4 308.0L480.2 307.0L479.1 306.0L477.9 305.0L476.7 304.0L475.5 303.0L474.3 302.0L473.1 301.0L471.9 300.0L470.7 299.0L469.5 298.0L468.3 297.0L467.2 296.0L466.0 295.0L464.8 294.0L463.6 293.0L462.4 292.0L461.2 291.0L460.0 290.0L458.8 289.0L457.6 288.0L456.4 287.0L455.3 286.0L454.1 285.0L452.9 284.0L451.7 283.0L450.5 282.0L449.3 281.0L448.1 280.0L446.9 279.0L445.7 278.0L444.6 277.0L443.5 276.0L442.5 275.0L441.4 274.0L440.3 273.0L439.3 272.0L438.2 271.0L437.2 270.0L436.1 269.0L435.0 268.0L434.0 267.0L432.9 266.0L431.8 265.0L430.8 264.0L429.7 263.0L428.7 262.0L427.6 261.0L426.5 260.0L425.5 259.0L424.4 258.0L423.3 257.0L422.3 256.0L421.2 255.0L420.2 254.0L419.1 253.0L418.0 252.0L417.0 251.0L415.9 250.0L414.8 249.0L413.8 248.0L412.7 247.0L411.6 246.0L410.6 245.0L409.5 244.0L408.5 243.0L407.5 242.0L406.5 241.0L405.5 240.0L404.4 239.0L403.4 238.0L402.4 237.0L401.4 236.0L400.4 235.0L399.4 234.0L398.3 233.0L397.3 232.0L396.3 231.0L395.3 230.0L394.2 229.0L393.1 228.0L392.1 227.0L391.0 226.0L389.9 225.0L388.8 224.0L387.7 223.0L386.7 222.0L385.6 221.0L384.5 220.0L383.4 219.0L382.6 218.0L382.0 217.0L381.5 216.0L381.0 215.0L380.5 214.0L379.9 213.0L379.4 212.0L378.9 211.0L378.3 210.0L377.8 209.0L377.3 208.0L376.7 207.0L376.2 206.0L375.6 205.0L375.1 204.0L374.5 203.0L374.0 202.0L373.4 201.0L372.8 200.0L372.2 199.0L371.7 198.0L371.1 197.0L370.5 196.0L369.9 195.0L369.2 194.0L368.5 193.0L367.8 192.0L367.1 191.0L366.5 190.0L365.8 189.0L365.1 188.0L364.4 187.0L363.8 186.0L362.9 185.0L361.8 184.0L360.6 183.0L359.4 182.0L358.2 181.0L357.1 180.0L355.9 179.0L354.7 178.0L353.5 177.0L352.3 176.0L351.1 175.0L349.9 174.0L348.6 173.0L347.4 172.0L346.2 171.0L344.9 170.0L343.7 169.0L342.5 168.0L341.2 167.0L340.0 166.0L338.8 165.0L337.5 164.0L336.3 163.0L335.1 162.0L333.8 161.0L332.6 160.0L331.4 159.0L330.1 158.0L328.9 157.0L327.7 156.0L326.5 155.0L325.2 154.0L324.0 153.0L322.8 152.0L321.9 151.0L321.1 150.0L320.5 149.0L319.8 148.0L319.2 147.0L318.6 146.0L317.9 145.0L317.3 144.0L316.7 143.0L316.0 142.0L315.4 141.0L314.8 140.0L313.4 139.0L312.0 138.0L310.6 137.0L309.2 136.0L307.9 135.0L306.5 134.0L305.1 133.0L303.7 132.0L302.3 131.0L301.0 130.0L299.6 129.0L298.2 128.0L296.8 127.0L295.4 126.0L294.1 125.0L292.7 124.0L291.3 123.0L289.9 122.0L288.6 121.0L287.2 120.0L285.9 119.0L284.5 118.0L283.2 117.0L281.9 116.0L280.5 115.0L279.2 114.0L277.8 113.0L276.5 112.0L275.2 111.0L273.8 110.0L272.5 109.0L271.1 108.0L269.8 107.0L268.4 106.0L267.1 105.0L265.6 104.0L264.1 103.0L262.6 102.0L261.2 101.0L259.7 100.0L258.2 99.0L256.7 98.0L255.2 97.0L253.8 96.0L252.3 95.0L250.8 94.0L249.3 93.0L247.8 92.0L246.3 91.0L244.7 90.0L242.8 89.0L240.9 88.0L238.9 87.0L237.0 86.0L235.1 85.0L233.1 84.0L231.2 83.0L229.2 82.0L227.3 81.0L225.4 80.0L223.4 79.0L221.5 78.0L219.4 77.0L217.2 76.0L215.0 75.0L212.8 74.0L210.6 73.0L208.4 72.0L206.2 71.0L204.0 70.0L201.8 69.0L199.6 68.0L197.4 67.0L195.2 66.0L193.3 65.0L191.5 64.0L189.7 63.0L187.9 62.0L186.0 61.0L184.2 60.0L182.4 59.0L180.6 58.0L178.8 57.0L177.0 56.0L175.1 55.0L173.3 54.0L171.6 53.0L170.2 52.0L168.8 51.0L167.4 50.0L165.9 49.0L164.5 48.0L163.1 47.0L161.7 46.0L160.2 45.0L158.8 44.0L157.4 43.0L156.0 42.0L154.6 41.0L153.1 40.0L151.9 39.0L150.7 38.0L149.4 37.0L148.2 36.0L147.0 35.0L145.7 34.0L144.5 33.0L143.3 32.0L142.0 31.0L140.9 30.0L139.6 29.0L138.7 28.0L138.5 27.0L138.2 26.0L137.9 25.0L137.7 24.0L137.4 23.0L137.1 22.0L136.8 21.0L136.6 20.0L136.3 19.0L136.0 18.0L135.8 17.0L135.5 16.0L135.2 15.0L135.0 14.0L134.7 13.0L134.4 12.0Z" fill="#000" fill-opacity="0.5000"/>
<path d="M128.5 12.0L129.1 13.0L129.7 14.0L130.3 15.0L130.9 16.0L131.5 17.0L132.1 18.0L132.7 19.0L133.3 20.0L134.0 21.0L134.6 22.0L135.2 23.0L135.8 24.0L136.4 25.0L137.0 26.0L137.6 27.0L138.2 28.0L139.0 29.0L139.9 30.0L140.6 31.0L141.4 32.0L142.3 33.0L143.1 34.0L143.9 35.0L144.8 36.0L145.6 37.0L146.4 38.0L147.2 39.0L148.1 40.0L149.1 41.0L150.2 42.0L151.2 43.0L152.2 44.0L153.3 45.0L154.3 46.0L155.4 47.0L156.4 48.0L157.4 49.0L158.5 50.0L159.5 51.0L160.6 52.0L161.6 53.0L163.0 54.0L164.5 55.0L166.0 56.0L167.5 57.0L169.0 58.0L170.5 59.0L172.0 60.0L173.5 61.0L175.1 62.0L176.6 63.0L178.1 64.0L179.6 65.0L181.2 66.0L183.2 67.0L185.2 68.0L187.2 69.0L189.2 70.0L191.2 71.0L193.3 72.0L195.3 73.0L197.3 74.0L199.3 75.0L201.3 76.0L203.3 77.0L205.3 78.0L207.0 79.0L208.8 80.0L210.6 81.0L212.4 82.0L214.2 83.0L216.0 84.0L217.7 85.0L219.5 86.0L221.3 87.0L223.1 88.0L224.9 89.0L226.7 90.0L228.3 91.0L229.8 92.0L231.4 93.0L232.9 94.0L234.5 95.0L236.0 96.0L237.6 97.0L239.1 98.0L240.7 99.0L242.2 100.0L243.8 101.0L245.3 102.0L246.9 103.0L248.4 104.0L250.0 105.0L251.4 106.0L252.9 107.0L254.4 108.0L255.9 109.0L257.4 110.0L258.9 111.0L260.4 112.0L261.9 113.0L263.4 114.0L264.9 115.0L266.3 116.0L267.8 117.0L269.3 118.0L270.8 119.0L272.3 120.0L273.8 121.0L275.4 122.0L277.1 123.0L278.8 124.0L280.4 125.0L282.1 126.0L283.8 127.0L285.5 128.0L287.2 129.0L288.9 130.0L290.6 131.0L292.3 132.0L294.0 133.0L295.7 134.0L297.4 135.0L299.1 136.0L300.8 137.0L302.4 138.0L304.1 139.0L305.8 140.0L306.9 141.0L308.0 142.0L309.1 143.0L310.1 144.0L311.2 145.0L312.3 146.0L313.4 147.0L314.4 148.0L315.5 149.0L316.6 150.0L317.4 151.0L318.2 152.0L319.4 153.0L320.6 154.0L321.9 155.0L323.1 156.0L324.3 157.0L325.6 158.0L326.8 159.0L328.0 160.0L329.3 161.0L330.5 162.0L331.7 163.0L332.9 164.0L334.2 165.0L335.4 166.0L336.6 167.0L337.9 168.0L339.5 169.0L341.1 170.0L342.7 171.0L344.3 172.0L345.8 173.0L347.4 174.0L349.0 175.0L350.6 176.0L351.7 177.0L352.7 178.0L353.8 179.0L354.8 180.0L355.9 181.0L356.9 182.0L358.0 183.0L359.0 184.0L360.0 185.0L360.7 186.0L361.4 187.0L362.1 188.0L362.8 189.0L363.5 190.0L364.2 191.0L364.9 192.0L365.6 193.0L366.3 194.0L367.0 195.0L367.6 196.0L368.2 197.0L368.8 198.0L369.5 199.0L370.1 200.0L370.7 201.0L371.3 202.0L371.9 203.0L372.4 204.0L372.9 205.0L373.4 206.0L373.9 207.0L374.4 208.0L374.9 209.0L375.4 210.0L375.8 211.0L376.2 212.0L376.5 213.0L376.9 214.0L377.2 215.0L377.6 216.0L378.0 217.0L378.3 218.0L379.0 219.0L379.8 220.0L380.6 221.0L381.4 222.0L382.3 223.0L383.1 224.0L383.9 225.0L384.7 226.0L385.5 227.0L386.4 228.0L387.2 229.0L388.0 230.0L388.8 231.0L389.6 232.0L390.4 233.0L391.1 234.0L391.9 235.0L392.7 236.0L393.5 237.0L394.3 238.0L395.0 239.0L395.8 240.0L396.6 241.0L397.4 242.0L398.2 243.0L399.0 244.0L399.8 245.0L400.7 246.0L401.5 247.0L402.4 248.0L403.2 249.0L404.1 250.0L405.0 251.0L405.8 252.0L406.7 253.0L407.5 254.0L408.4 255.0L409.2 256.0L410.1 257.0L411.0 258.0L411.8 259.0L412.7 260.0L413.5 261.0L414.4 262.0L415.3 263.0L416.1 264.0L417.0 265.0L417.8 266.0L418.7 267.0L419.6 268.0L420.4 269.0L421.3 270.0L422.1 271.0L423.0 272.0L423.9 273.0L424.7 274.0L425.6 275.0L426.4 276.0L427.3 277.0L428.4 278.0L429.6 279.0L430.8 280.0L432.0 281.0L433.2 282.0L434.4 283.0L435.6 284.0L436.8 285.0L438.0 286.0L439.2 287.0L440.4 288.0L441.6 289.0L442.8 290.0L444.0 291.0L445.2 292.0L446.4 293.0L447.6 294.0L448.8 295.0L450.0 296.0L451.2 297.0L452.4 298.0L453.6 299.0L454.8 300.0L456.0 301.0L457.2 302.0L458.4 303.0L459.6 304.0L460.8 305.0L462.0 306.0L463.3 307.0L464.5 308.0L465.7 309.0L466.9 310.0L468.1 311.0L469.3 312.0L470.5 313.0L471.6 314.0L472.7 315.0L473.8 316.0L474.9 317.0L476.0 318.0L477.1 319.0L478.2 320.0L479.3 321.0L480.4 322.0L481.5 323.0L482.6 324.0L483.6 325.0L484.5 326.0L485.5 327.0L486.5 328.0L487.4 329.0L488.4 330.0L489.3 331.0L490.3 332.0L491.2 333.0L492.2 334.0L493.1 335.0L494.1 336.0L495.0 337.0L496.0 338.0L496.9 339.0L497.9 340.0L512.1 340.0L511.1 339.0L510.0 338.0L509.0 337.0L507.9 336.0L506.9 335.0L505.8 334.0L504.8 333.0L503.7 332.0L502.7 331.0L501.6 330.0L500.6 329.0L499.5 328.0L498.5 327.0L497.5 326.0L496.4 325.0L495.4 324.0L494.2 323.0L493.1 322.0L492.0 321.0L490.8 320.0L489.7 319.0L488.6 318.0L487.4 317.0L486.3 316.0L485.2 315.0L484.0 314.0L482.9 313.0L481.7 312.0L480.5 311.0L479.3 310.0L478.1 309.0L476.9 308.0L475.7 307.0L474.5 306.0L473.3 305.0L472.1 304.0L470.9 303.0L469.7 302.0L468.5 301.0L467.3 300.0L466.1 299.0L464.9 298.0L463.8 297.0L462.6 296.0L461.4 295.0L460.2 294.0L459.0 293.0L457.8 292.0L456.6 291.0L455.4 290.0L454.2 289.0L453.0 288.0L451.8 287.0L450.6 286.0L449.4 285.0L448.2 284.0L447.0 283.0L445.9 282.0L444.7 281.0L443.5 280.0L442.3 279.0L441.1 278.0L440.0 277.0L439.0 276.0L437.9 275.0L436.9 274.0L435.9 273.0L434.9 272.0L433.9 271.0L432.9 270.0L431.9 269.0L430.9 268.0L429.9 267.0L428.9 266.0L427.9 265.0L426.9 264.0L425.8 263.0L424.8 262.0L423.8 261.0L422.8 260.0L421.8 259.0L420.8 258.0L419.8 257.0L418.8 256.0L417.8 255.0L416.8 254.0L415.8 253.0L414.8 252.0L413.7 251.0L412.7 250.0L411.7 249.0L410.7 248.0L409.7 247.0L408.7 246.0L407.7 245.0L406.7 244.0L405.7 243.0L404.8 242.0L403.8 241.0L402.9 240.0L401.9 239.0L401.0 238.0L400.0 237.0L399.1 236.0L398.1 235.0L397.2 234.0L396.2 233.0L395.3 232.0L394.3 231.0L393.3 230.0L392.3 229.0L391.3 228.0L390.3 227.0L389.3 226.0L388.3 225.0L387.3 224.0L386.3 223.0L385.3 222.0L384.3 221.0L383.2 220.0L382.2 219.0L381.4 218.0L380.9 217.0L380.5 216.0L380.0 215.0L379.5 214.0L379.0 213.0L378.5 212.0L378.0 211.0L377.6 210.0L377.0 209.0L376.5 208.0L376.0 207.0L375.4 206.0L374.9 205.0L374.4 204.0L373.8 203.0L373.3 202.0L372.7 201.0L372.1 200.0L371.5 199.0L370.9 198.0L370.3 197.0L369.7 196.0L369.1 195.0L368.4 194.0L367.7 193.0L367.0 192.0L366.4 191.0L365.7 190.0L365.0 189.0L364.3 188.0L363.6 187.0L362.9 186.0L362.1 185.0L361.1 184.0L359.9 183.0L358.8 182.0L357.6 181.0L356.5 180.0L355.3 179.0L354.2 178.0L353.0 177.0L351.9 176.0L350.5 175.0L349.2 174.0L347.9 173.0L346.5 172.0L345.2 171.0L343.9 170.0L342.6 169.0L341.2 168.0L340.0 167.0L338.8 166.0L337.5 165.0L336.3 164.0L335.1 163.0L333.8 162.0L332.6 161.0L331.4 160.0L330.1 159.0L328.9 158.0L327.7 157.0L326.5 156.0L325.2 155.0L324.0 154.0L322.8 153.0L321.5 152.0L320.7 151.0L319.9 150.0L319.1 149.0L318.4 148.0L317.6 147.0L316.9 146.0L316.1 145.0L315.4 144.0L314.6 143.0L313.9 142.0L313.1 141.0L312.4 140.0L310.9 139.0L309.4 138.0L308.0 137.0L306.5 136.0L305.1 135.0L303.6 134.0L302.1 133.0L300.7 132.0L299.2 131.0L297.7 130.0L296.3 129.0L294.8 128.0L293.3 127.0L291.9 126.0L290.4 125.0L289.0 124.0L287.5 123.0L286.0 122.0L284.6 121.0L283.2 120.0L281.9 119.0L280.5 118.0L279.1 117.0L277.7 116.0L276.3 115.0L274.9 114.0L273.6 113.0L272.2 112.0L270.8 111.0L269.4 110.0L268.0 109.0L266.6 108.0L265.3 107.0L263.9 106.0L262.5 105.0L261.0 104.0L259.5 103.0L258.0 102.0L256.5 101.0L255.0 100.0L253.5 99.0L252.0 98.0L250.5 97.0L249.0 96.0L247.5 95.0L246.0 94.0L244.5 93.0L243.0 92.0L241.5 91.0L239.9 90.0L238.0 89.0L236.1 88.0L234.2 87.0L232.3 86.0L230.4 85.0L228.5 84.0L226.6 83.0L224.7 82.0L222.8 81.0L220.9 80.0L219.0 79.0L217.2 78.0L215.1 77.0L213.0 76.0L210.8 75.0L208.6 74.0L206.5 73.0L204.3 72.0L202.2 71.0L200.0 70.0L197.9 69.0L195.7 68.0L193.6 67.0L191.4 66.0L189.6 65.0L187.9 64.0L186.2 63.0L184.4 62.0L182.7 61.0L181.0 60.0L179.2 59.0L177.5 58.0L175.8 57.0L174.0 56.0L172.3 55.0L170.5 54.0L168.9 53.0L167.6 52.0L166.3 51.0L165.0 50.0L163.7 49.0L162.3 48.0L161.0 47.0L159.7 46.0L158.4 45.0L157.1 44.0L155.7 43.0L154.4 42.0L153.1 41.0L151.8 40.0L150.7 39.0L149.5 38.0L148.4 37.0L147.3 36.0L146.2 35.0L145.0 34.0L143.9 33.0L142.8 32.0L141.7 31.0L140.6 30.0L139.4 29.0L138.6 28.0L138.2 27.0L137.9 26.0L137.5 25.0L137.2 24.0L136.8 23.0L136.4 22.0L136.1 21.0L135.7 20.0L135.3 19.0L135.0 18.0L134.6 17.0L134.3 16.0L133.9 15.0L133.5 14.0L133.2 13.0L132.8 12.0Z" fill="#000" fill-opacity="1.0000"/>
</g></g>
<path d="M137.8 28.4L138.6 29.4L139.1 30.4L139.4 31.4L139.6 32.4L139.9 33.4L140.1 34.4L140.4 35.4L140.6 36.4L140.9 37.4L141.2 38.4L141.4 39.4L141.7 40.4L141.9 41.4L142.4 42.4L142.9 43.4L143.5 44.4L144.0 45.4L144.6 46.4L145.1 47.4L145.6 48.4L146.2 49.4L146.7 50.4L147.3 51.4L148.0 52.4L148.8 53.4L149.6 54.4L150.4 55.4L151.2 56.4L152.0 57.4L152.8 58.4L153.6 59.4L154.4 60.4L155.2 61.4L156.0 62.4L156.9 63.4L157.7 64.4L158.6 65.4L159.4 66.4L160.3 67.4L161.2 68.4L162.0 69.4L162.9 70.4L163.7 71.4L164.6 72.4L165.4 73.4L166.3 74.4L167.2 75.4L168.0 76.4L168.9 77.4L169.7 78.4L170.6 79.4L171.8 80.4L173.0 81.4L174.2 82.4L175.4 83.4L176.6 84.4L177.8 85.4L179.0 86.4L180.2 87.4L181.4 88.4L182.5 89.4L183.7 90.4L184.9 91.4L186.1 92.4L187.3 93.4L188.5 94.4L189.7 95.4L190.9 96.4L192.1 97.4L193.3 98.4L194.8 99.4L196.3 100.4L197.8 101.4L199.3 102.4L200.7 103.4L202.2 104.4L203.7 105.4L205.2 106.4L206.7 107.4L208.1 108.4L209.3 109.4L210.6 110.4L211.8 111.4L213.0 112.4L214.3 113.4L215.5 114.4L217.2 115.4L219.3 116.4L221.4 117.4L223.5 118.4L225.5 119.4L227.6 120.4L229.2 121.4L230.7 122.4L232.2 123.4L234.0 124.4L235.9 125.4L237.8 126.4L239.7 127.4L241.6 128.4L243.4 129.4L245.3 130.4L247.2 131.4L249.1 132.4L251.1 133.4L253.6 134.4L256.1 135.4L258.6 136.4L261.1 137.4L263.6 138.4L266.1 139.4L268.6 140.4L271.1 141.4L273.6 142.4L276.2 143.4L280.2 144.4L284.2 145.4L288.2 146.4L292.2 147.4L296.2 148.4L300.2 149.4L310.0 150.4L309.4 151.4L309.5 152.4L310.8 153.4L312.1 154.4L313.5 155.4L314.8 156.4L316.1 157.4L317.4 158.4L318.7 159.4L320.0 160.4L321.3 161.4L322.6 162.4L323.9 163.4L325.3 164.4L326.6 165.4L327.9 166.4L329.2 167.4L330.5 168.4L331.8 169.4L333.4 170.4L335.2 171.4L337.1 172.4L338.3 173.4L339.3 174.4L340.2 175.4L341.1 176.4L341.9 177.4L342.7 178.4L343.4 179.4L344.2 180.4L344.9 181.4L345.5 182.4L346.2 183.4L346.8 184.4L347.4 185.4L348.0 186.4L348.6 187.4L349.2 188.4L349.7 189.4L350.3 190.4L351.1 191.4L351.9 192.4L352.7 193.4L353.6 194.4L354.3 195.4L355.0 196.4L355.7 197.4L356.3 198.4L357.0 199.4L358.1 200.4L359.2 201.4L360.2 202.4L361.3 203.4L362.4 204.4L363.5 205.4L364.6 206.4L365.6 207.4L366.6 208.4L367.5 209.4L368.5 210.4L369.2 211.4L369.7 212.4L370.2 213.4L370.7 214.4L371.2 215.4L371.5 216.4L371.8 217.4L372.1 218.4L372.4 219.4L372.7 220.4L373.1 221.4L373.5 222.4L373.9 223.4L374.3 224.4L374.7 225.4L375.1 226.4L375.6 227.4L376.1 228.4L376.7 229.4L377.2 230.4L377.8 231.4L378.3 232.4L378.8 233.4L379.4 234.4L379.9 235.4L380.5 236.4L381.0 237.4L381.5 238.4L382.1 239.4L382.6 240.4L383.1 241.4L383.6 242.4L384.2 243.4L384.7 244.4L385.2 245.4L385.7 246.4L386.3 247.4L386.8 248.4L387.3 249.4L387.8 250.4L388.4 251.4L388.9 252.4L389.4 253.4L390.0 254.4L390.5 255.4L391.0 256.4L391.5 257.4L392.1 258.4L392.6 259.4L393.1 260.4L393.7 261.4L394.2 262.4L394.8 263.4L395.5 264.4L396.3 265.4L397.0 266.4L397.8 267.4L398.5 268.4L399.3 269.4L400.0 270.4L400.8 271.4L401.5 272.4L402.3 273.4L403.0 274.4L403.8 275.4L404.5 276.4L405.3 277.4L406.0 278.4L406.8 279.4L407.5 280.4L408.3 281.4L409.0 282.4L409.8 283.4L410.5 284.4L411.3 285.4L412.0 286.4L412.8 287.4L413.5 288.4L414.3 289.4L415.1 290.4L415.9 291.4L416.7 292.4L417.6 293.4L418.4 294.4L419.2 295.4L420.1 296.4L420.9 297.4L421.7 298.4L422.5 299.4L423.4 300.4L424.2 301.4L425.0 302.4L425.9 303.4L426.7 304.4L427.5 305.4L428.4 306.4L429.2 307.4L430.0 308.4L430.9 309.4L431.7 310.4L432.5 311.4L433.4 312.4L434.2 313.4L435.0 314.4L435.8 315.4L436.7 316.4L437.5 317.4L438.3 318.4L439.2 319.4L440.0 320.4L440.8 321.4L441.7 322.4L442.5 323.4" fill="none" stroke="#727272" stroke-width="2" stroke-linecap="round" stroke-dasharray="0.1 5.9"/>
<path d="M139.6 28.4L144.8 29.4L149.7 30.4L152.7 31.4L155.7 32.4L158.7 33.4L161.8 34.4L165.3 35.4L168.8 36.4L172.3 37.4L175.0 38.4L177.7 39.4L180.4 40.4L183.0 41.4L185.7 42.4L188.4 43.4L191.1 44.4L193.8 45.4L196.4 46.4L199.1 47.4L201.8 48.4L204.2 49.4L206.2 50.4L208.2 51.4L210.2 52.4L212.1 53.4L214.1 54.4L216.1 55.4L218.1 56.4L220.1 57.4L222.1 58.4L224.1 59.4L226.0 60.4L228.0 61.4L230.0 62.4L231.9 63.4L233.5 64.4L235.2 65.4L236.9 66.4L238.5 67.4L240.2 68.4L241.8 69.4L243.5 70.4L245.2 71.4L246.8 72.4L248.3 73.4L249.8 74.4L251.2 75.4L252.7 76.4L254.2 77.4L255.6 78.4L257.1 79.4L258.6 80.4L259.9 81.4L261.3 82.4L262.6 83.4L263.9 84.4L265.2 85.4L266.5 86.4L267.9 87.4L269.2 88.4L270.5 89.4L271.8 90.4L273.2 91.4L274.5 92.4L275.8 93.4L277.1 94.4L278.5 95.4L279.6 96.4L280.6 97.4L281.6 98.4L282.6 99.4L283.6 100.4L284.6 101.4L285.6 102.4L286.5 103.4L287.5 104.4L288.5 105.4L289.5 106.4L290.5 107.4L291.5 108.4L292.5 109.4L293.5 110.4L294.6 111.4L295.7 112.4L296.8 113.4L297.9 114.4L299.0 115.4L300.1 116.4L301.2 117.4L302.2 118.4L303.3 119.4L304.4 120.4L305.5 121.4L306.6 122.4L307.7 123.4L308.8 124.4L309.7 125.4L310.6 126.4L311.5 127.4L312.4 128.4L313.3 129.4L314.2 130.4L315.1 131.4L316.0 132.4L316.9 133.4L317.9 134.4L318.8 135.4L319.7 136.4L320.6 137.4L321.4 138.4L322.0 139.4L322.6 140.4L323.2 141.4L323.7 142.4L324.3 143.4L324.9 144.4L325.5 145.4L326.0 146.4L326.6 147.4L327.2 148.4L327.4 149.4L327.6 150.4L328.9 151.4L330.1 152.4L331.4 153.4L332.6 154.4L333.9 155.4L335.1 156.4L336.4 157.4L337.6 158.4L338.9 159.4L340.2 160.4L341.4 161.4L342.7 162.4L343.9 163.4L345.2 164.4L346.4 165.4L347.7 166.4L348.9 167.4L350.0 168.4L350.7 169.4L351.5 170.4L352.2 171.4L353.2 172.4L354.2 173.4L355.2 174.4L356.2 175.4L357.3 176.4L358.5 177.4L359.7 178.4L360.9 179.4L362.2 180.4L363.6 181.4L364.9 182.4L366.1 183.4L367.1 184.4L368.1 185.4L369.1 186.4L370.0 187.4L371.0 188.4L371.9 189.4L372.8 190.4L373.3 191.4L373.8 192.4L374.3 193.4L374.8 194.4L375.4 195.4L376.1 196.4L376.7 197.4L377.4 198.4L378.0 199.4L378.6 200.4L379.1 201.4L379.7 202.4L380.2 203.4L380.8 204.4L381.5 205.4L382.2 206.4L383.0 207.4L383.7 208.4L384.8 209.4L386.0 210.4L387.3 211.4L388.8 212.4L392.8 213.4L396.0 214.4L398.7 215.4L401.5 216.4L404.2 217.4L406.7 218.4L409.2 219.4L411.3 220.4L413.4 221.4L415.5 222.4L417.6 223.4L419.7 224.4L421.8 225.4L423.9 226.4L426.0 227.4L428.1 228.4L430.0 229.4L431.8 230.4L433.6 231.4L435.5 232.4L437.3 233.4L439.1 234.4L440.9 235.4L442.7 236.4L444.6 237.4L446.4 238.4L448.0 239.4L449.6 240.4L451.2 241.4L452.8 242.4L454.5 243.4L456.1 244.4L457.7 245.4L459.3 246.4L460.9 247.4L462.6 248.4L464.2 249.4L465.8 250.4L467.4 251.4L469.1 252.4L470.7 253.4L472.3 254.4L473.9 255.4L475.6 256.4L477.2 257.4L478.8 258.4L480.4 259.4L482.1 260.4L483.6 261.4L485.0 262.4L486.4 263.4L487.8 264.4L489.3 265.4L490.7 266.4L492.1 267.4L493.6 268.4L495.0 269.4L496.4 270.4L497.8 271.4L499.3 272.4L500.7 273.4L502.1 274.4L503.6 275.4L505.0 276.4L506.4 277.4L507.9 278.4L509.3 279.4L510.7 280.4L512.1 281.4L513.6 282.4L515.0 283.4L516.4 284.4L517.9 285.4L519.3 286.4L520.7 287.4L522.1 288.4L523.6 289.4L525.0 290.4L526.4 291.4L527.8 292.4L529.2 293.4L530.6 294.4L531.9 295.4L533.3 296.4L534.7 297.4L536.1 298.4L537.4 299.4L538.8 300.4L540.2 301.4L541.6 302.4L542.9 303.4L544.3 304.4L545.7 305.4L547.1 306.4L548.4 307.4L549.8 308.4L551.2 309.4L552.5 310.4L553.9 311.4L555.3 312.4L556.7 313.4L558.0 314.4L559.4 315.4L560.8 316.4L562.2 317.4L563.5 318.4L565.0 319.4L566.4 320.4L567.8 321.4L569.2 322.4L570.6 323.4" fill="none" stroke="#727272" stroke-width="2" stroke-linecap="round" stroke-dasharray="0.1 5.9"/>
<path d="M113.3 15.5 L122.8 21.2 L137.5 28" fill="none" stroke="#727272" stroke-width="2" stroke-linecap="round" stroke-dasharray="0.1 5.9"/>
<path d="M144.3 32.5L145.7 33.5L147.1 34.5L148.4 35.5L149.8 36.5L151.2 37.5L152.6 38.5L154.0 39.5L155.4 40.5L156.8 41.5L158.1 42.5L159.5 43.5L160.9 44.5L162.3 45.5L163.7 46.5L165.1 47.5L166.5 48.5L167.8 49.5L169.2 50.5L170.6 51.5L172.0 52.5L173.4 53.5L174.8 54.5L176.2 55.5L177.5 56.5L178.9 57.5L180.3 58.5L181.7 59.5L183.1 60.5L184.5 61.5L185.9 62.5L187.3 63.5L188.6 64.5L190.0 65.5L191.4 66.5L192.8 67.5L194.2 68.5L195.6 69.5L197.0 70.5L198.3 71.5L199.7 72.5L201.1 73.5L202.5 74.5L204.0 75.5L205.5 76.5L207.1 77.5L208.6 78.5L210.1 79.5L211.6 80.5L213.2 81.5L214.7 82.5L216.2 83.5L217.7 84.5L219.3 85.5L220.8 86.5L222.3 87.5L223.8 88.5L225.4 89.5L226.9 90.5L228.4 91.5L229.9 92.5L231.5 93.5L233.0 94.5L234.5 95.5L236.0 96.5L237.5 97.5L239.1 98.5L240.6 99.5L242.1 100.5L243.6 101.5L245.2 102.5L246.7 103.5L248.2 104.5L249.7 105.5L251.3 106.5L252.8 107.5L254.3 108.5L255.8 109.5L257.4 110.5L258.9 111.5L260.4 112.5L261.9 113.5L263.5 114.5L265.0 115.5L266.5 116.5L268.0 117.5L269.5 118.5L271.1 119.5L272.6 120.5L274.1 121.5L275.6 122.5L277.2 123.5L278.7 124.5L280.2 125.5L281.7 126.5L283.3 127.5L284.8 128.5L286.3 129.5L287.8 130.5L289.4 131.5L290.9 132.5L292.4 133.5L294.0 134.5L295.5 135.5L297.0 136.5L298.5 137.5L300.1 138.5L301.6 139.5L303.1 140.5L304.6 141.5L306.2 142.5L307.7 143.5L309.2 144.5L310.7 145.5L312.3 146.5L313.9 147.5L315.5 148.5L317.2 149.5L318.7 150.5L320.0 151.5L321.2 152.5L322.4 153.5L323.6 154.5L324.9 155.5L326.1 156.5L327.3 157.5L328.6 158.5L329.8 159.5L331.0 160.5L332.3 161.5L333.5 162.5L334.7 163.5L336.0 164.5L337.2 165.5L338.4 166.5L339.6 167.5L340.9 168.5L342.2 169.5L343.5 170.5L344.9 171.5L346.2 172.5L347.2 173.5L348.1 174.5L348.9 175.5L349.8 176.5L350.6 177.5L351.5 178.5L352.4 179.5L353.2 180.5L354.1 181.5L354.9 182.5L355.8 183.5L356.7 184.5L357.5 185.5L358.4 186.5L359.2 187.5L360.1 188.5L361.0 189.5L361.7 190.5L362.3 191.5L363.0 192.5L363.6 193.5L364.2 194.5L364.8 195.5L365.5 196.5L366.1 197.5L366.7 198.5L367.3 199.5L368.0 200.5L368.6 201.5L369.2 202.5L370.1 203.5L371.0 204.5L371.9 205.5L372.9 206.5L373.8 207.5L374.7 208.5L375.7 209.5L376.6 210.5L377.4 211.5L378.3 212.5L379.2 213.5L380.0 214.5L380.9 215.5L381.8 216.5L382.8 217.5L383.9 218.5L385.0 219.5L386.1 220.5L387.3 221.5L388.4 222.5L389.5 223.5L390.7 224.5L391.8 225.5L392.9 226.5L394.0 227.5L395.2 228.5L396.3 229.5L397.4 230.5L398.5 231.5L399.7 232.5L400.8 233.5L401.9 234.5L403.0 235.5L404.1 236.5L405.3 237.5L406.4 238.5L407.5 239.5L408.6 240.5L409.7 241.5L410.9 242.5L412.0 243.5L413.1 244.5L414.2 245.5L415.4 246.5L416.5 247.5L417.6 248.5L418.7 249.5L419.9 250.5L421.0 251.5L422.1 252.5L423.3 253.5L424.4 254.5L425.5 255.5L426.7 256.5L427.8 257.5L428.9 258.5L430.1 259.5L431.2 260.5L432.3 261.5L433.5 262.5L434.6 263.5L435.7 264.5L436.9 265.5L438.0 266.5L439.1 267.5L440.3 268.5L441.4 269.5L442.5 270.5L443.6 271.5L444.7 272.5L445.8 273.5L447.0 274.5L448.1 275.5L449.2 276.5L450.3 277.5L451.4 278.5L452.5 279.5L453.6 280.5L454.7 281.5L455.8 282.5L457.0 283.5L458.1 284.5L459.2 285.5L460.3 286.5L461.4 287.5L462.5 288.5L463.6 289.5L464.7 290.5L465.9 291.5L467.0 292.5L468.1 293.5L469.2 294.5L470.3 295.5L471.4 296.5L472.5 297.5L473.6 298.5L474.8 299.5L475.9 300.5L477.0 301.5L478.1 302.5L479.2 303.5L480.3 304.5L481.4 305.5L482.5 306.5L483.7 307.5L484.8 308.5L485.9 309.5L487.0 310.5L488.1 311.5L489.2 312.5L490.3 313.5L491.4 314.5L492.5 315.5L493.7 316.5L494.8 317.5L495.9 318.5L497.0 319.5L498.1 320.5L499.2 321.5L500.3 322.5L501.4 323.5" fill="none" stroke="#fff" stroke-width="1.6" stroke-dasharray="10 3.5"/>
<path d="M127.2 16.4 L134.2 24.6" stroke="#fff" stroke-width="1.5" fill="none"/>
<path d="M138.6 25.2 L141.8 28.4 L138.6 31.6 L135.4 28.4 Z" fill="#000"/>
<path d="M309.9 151.0 Q318.2 146.4 326.5 151.0 Q318.2 155.6 309.9 151.0 Z" fill="#000"/>
<path d="M311.6 150.3 Q318.2 146.9 325.2 149.8" fill="none" stroke="#fff" stroke-width="0.9"/>
<path d="M332.4 168.3 Q340.7 163.5 349.0 168.3 Q340.7 173.1 332.4 168.3 Z" fill="#000"/>
<rect x="358.8" y="201.6" width="17" height="2.3" fill="#000"/>
<path d="M420.3 198.3 H451.4" stroke="#000" stroke-width="2.2"/><ellipse cx="436.5" cy="198.3" rx="8" ry="2.6" fill="#000"/>
<path d="M95.4 2 V348.3 H621.9" fill="none" stroke="#000" stroke-width="2.1"/>
<path d="M89.8 15.6 H95.4" stroke="#000" stroke-width="2"/>
<text x="80.6" y="24.2" text-anchor="end" font-size="24" font-family="'Liberation Sans', Arial, sans-serif">0</text>
<path d="M89.8 72.7 H95.4" stroke="#000" stroke-width="2"/>
<text x="80.6" y="81.3" text-anchor="end" font-size="24" font-family="'Liberation Sans', Arial, sans-serif">100</text>
<path d="M89.8 129.8 H95.4" stroke="#000" stroke-width="2"/>
<text x="80.6" y="138.4" text-anchor="end" font-size="24" font-family="'Liberation Sans', Arial, sans-serif">200</text>
<path d="M89.8 186.8 H95.4" stroke="#000" stroke-width="2"/>
<text x="80.6" y="195.4" text-anchor="end" font-size="24" font-family="'Liberation Sans', Arial, sans-serif">300</text>
<path d="M89.8 243.9 H95.4" stroke="#000" stroke-width="2"/>
<text x="80.6" y="252.5" text-anchor="end" font-size="24" font-family="'Liberation Sans', Arial, sans-serif">400</text>
<path d="M89.8 301.0 H95.4" stroke="#000" stroke-width="2"/>
<text x="80.6" y="309.6" text-anchor="end" font-size="24" font-family="'Liberation Sans', Arial, sans-serif">500</text>
<path d="M125.1 348 V354.8" stroke="#000" stroke-width="2.1"/>
<text x="123.6" y="381.8" text-anchor="middle" font-size="24" font-family="'Liberation Sans', Arial, sans-serif">0</text>
<path d="M187.1 348 V352" stroke="#000" stroke-width="1.6"/>
<path d="M249.1 348 V354.8" stroke="#000" stroke-width="2.1"/>
<text x="247.6" y="381.8" text-anchor="middle" font-size="24" font-family="'Liberation Sans', Arial, sans-serif">10</text>
<path d="M311.0 348 V352" stroke="#000" stroke-width="1.6"/>
<path d="M373.0 348 V354.8" stroke="#000" stroke-width="2.1"/>
<text x="371.5" y="381.8" text-anchor="middle" font-size="24" font-family="'Liberation Sans', Arial, sans-serif">20</text>
<path d="M435.0 348 V352" stroke="#000" stroke-width="1.6"/>
<path d="M497.0 348 V354.8" stroke="#000" stroke-width="2.1"/>
<text x="495.5" y="381.8" text-anchor="middle" font-size="24" font-family="'Liberation Sans', Arial, sans-serif">30</text>
<path d="M558.9 348 V352" stroke="#000" stroke-width="1.6"/>
<path d="M620.9 348 V354.8" stroke="#000" stroke-width="2.1"/>
<text x="619.4" y="381.8" text-anchor="middle" font-size="24" font-family="'Liberation Sans', Arial, sans-serif">40</text>
<text x="289.6" y="419.6" font-size="24" font-family="'Liberation Sans', Arial, sans-serif" textLength="167" lengthAdjust="spacingAndGlyphs">Age (cal ka BP)</text>
<text transform="translate(19.2 249) rotate(-90)" font-size="24" font-family="'Liberation Sans', Arial, sans-serif" textLength="175.5" lengthAdjust="spacingAndGlyphs">Core Depth (cm)</text>
<text x="144.6" y="25.5" font-size="16" font-weight="bold" font-family="'Liberation Sans', Arial, sans-serif" textLength="73" lengthAdjust="spacingAndGlyphs">HAM 3200</text>
<text x="331.5" y="151.4" font-size="16" font-weight="bold" font-family="'Liberation Sans', Arial, sans-serif" textLength="72.5" lengthAdjust="spacingAndGlyphs">HAM 3201</text>
<text x="260.8" y="183" font-size="16" font-weight="bold" font-family="'Liberation Sans', Arial, sans-serif" textLength="72.5" lengthAdjust="spacingAndGlyphs">HAM 3202</text>
<text x="289" y="218.4" font-size="16" font-weight="bold" font-family="'Liberation Sans', Arial, sans-serif" textLength="73" lengthAdjust="spacingAndGlyphs">HAM 3203</text>
<text x="454" y="195.8" font-size="16" font-weight="bold" font-family="'Liberation Sans', Arial, sans-serif" textLength="48" lengthAdjust="spacingAndGlyphs">Y 1415</text>
</svg>
</body></html>
